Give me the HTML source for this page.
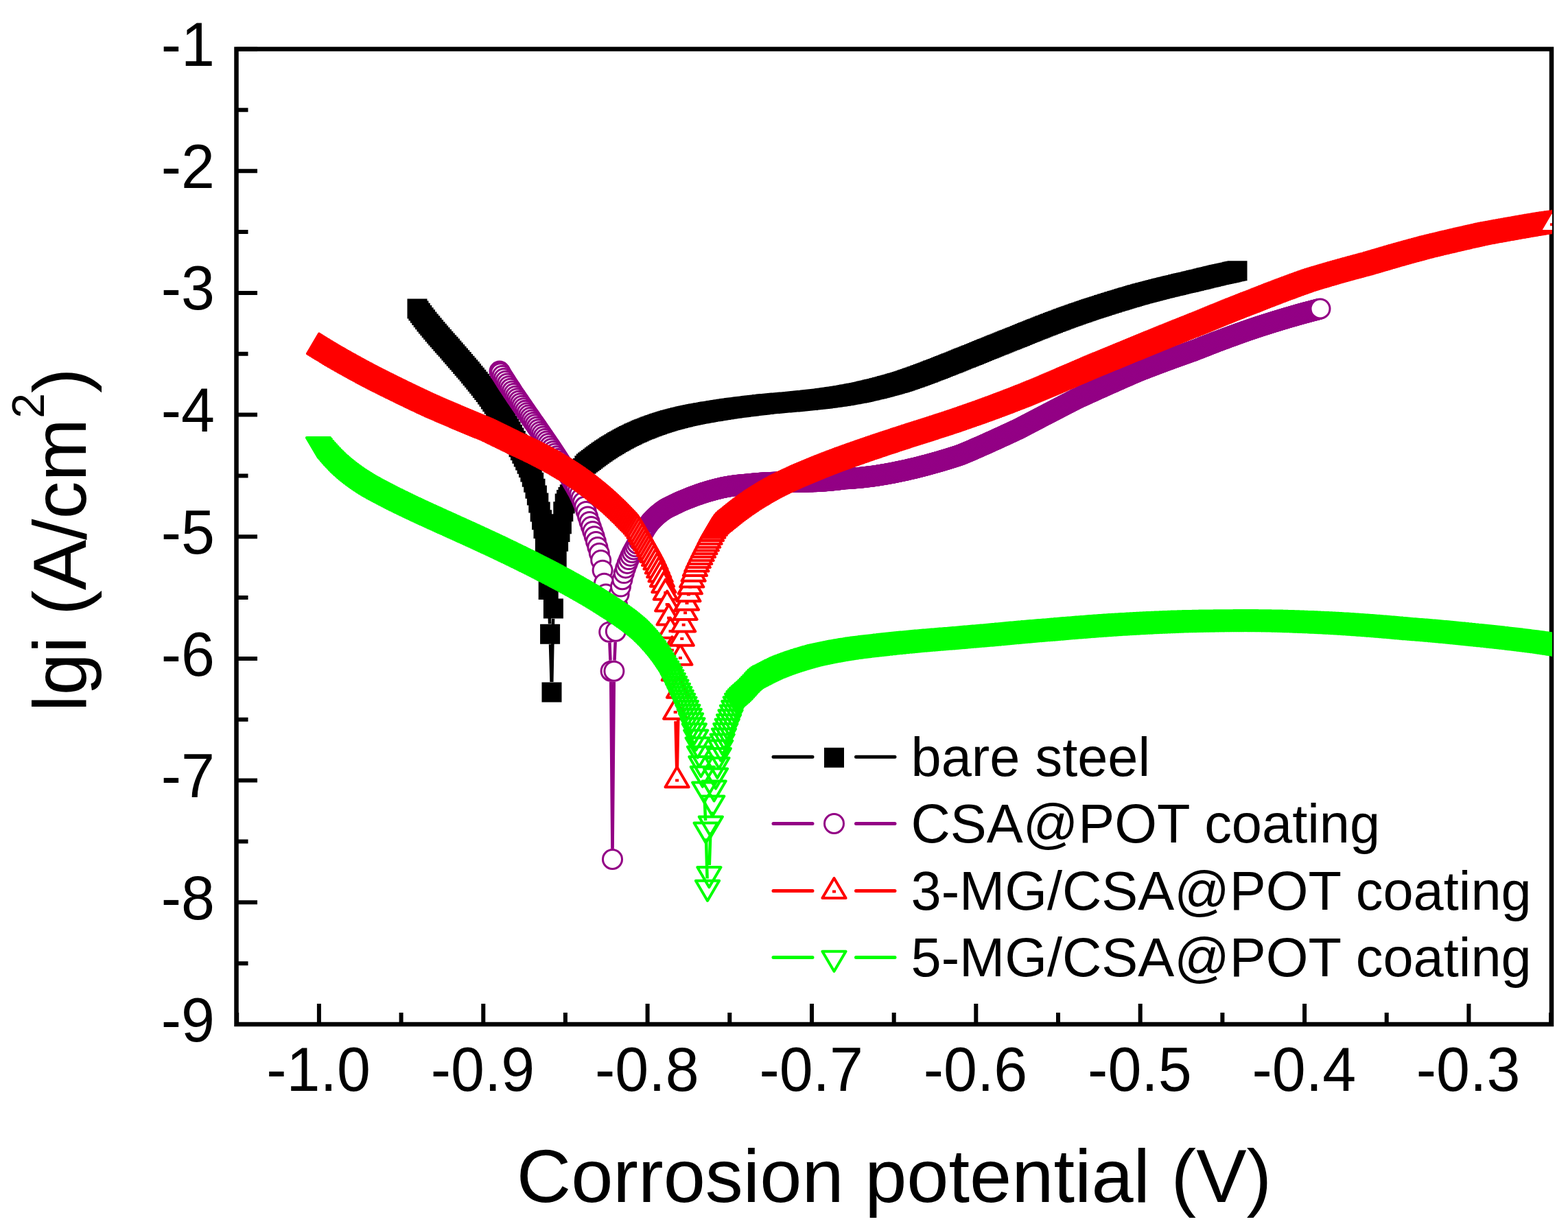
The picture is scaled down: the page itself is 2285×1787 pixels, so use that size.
<!DOCTYPE html>
<html><head><meta charset="utf-8"><title>Tafel plot</title>
<style>html,body{margin:0;padding:0;background:#fff;overflow:hidden}svg{display:block}</style>
</head><body>
<svg xmlns="http://www.w3.org/2000/svg" width="2285" height="1787" viewBox="0 0 2285 1787">
<rect width="2285" height="1787" fill="#fff"/>
<g stroke="#000" stroke-width="6.5" fill="none" stroke-linecap="square">
<path d="M344.5 71.5H2261V1493H344.5Z"/>
<path stroke-width="6" stroke-linecap="butt" d="M464.9 1493V1463M704.3 1493V1463M943.6 1493V1463M1183 1493V1463M1422.3 1493V1463M1661.7 1493V1463M1901.1 1493V1463M2140.4 1493V1463M345.2 1493V1476M584.6 1493V1476M823.9 1493V1476M1063.3 1493V1476M1302.7 1493V1476M1542 1493V1476M1781.4 1493V1476M2020.7 1493V1476M2260.1 1493V1476M344.5 1493H375M344.5 1315.3H375M344.5 1137.6H375M344.5 960H375M344.5 782.3H375M344.5 604.6H375M344.5 426.9H375M344.5 249.2H375M344.5 71.5H375M344.5 1404.2H361.5M344.5 1226.5H361.5M344.5 1048.8H361.5M344.5 871.1H361.5M344.5 693.4H361.5M344.5 515.7H361.5M344.5 338H361.5M344.5 160.3H361.5"/>
</g>
<g style="font-family:'Liberation Sans',Arial,Helvetica,sans-serif;font-size:88px" fill="#000">
<text transform="translate(313 1517.5) scale(1 1.035)" text-anchor="end">-9</text>
<text transform="translate(313 1339.8) scale(1 1.035)" text-anchor="end">-8</text>
<text transform="translate(313 1162.1) scale(1 1.035)" text-anchor="end">-7</text>
<text transform="translate(313 984.5) scale(1 1.035)" text-anchor="end">-6</text>
<text transform="translate(313 806.8) scale(1 1.035)" text-anchor="end">-5</text>
<text transform="translate(313 629.1) scale(1 1.035)" text-anchor="end">-4</text>
<text transform="translate(313 451.4) scale(1 1.035)" text-anchor="end">-3</text>
<text transform="translate(313 273.7) scale(1 1.035)" text-anchor="end">-2</text>
<text transform="translate(313 96) scale(1 1.035)" text-anchor="end">-1</text>
<text transform="translate(464.1 1590) scale(1 1.035)" text-anchor="middle">-1.0</text>
<text transform="translate(703.5 1590) scale(1 1.035)" text-anchor="middle">-0.9</text>
<text transform="translate(942.8 1590) scale(1 1.035)" text-anchor="middle">-0.8</text>
<text transform="translate(1182.2 1590) scale(1 1.035)" text-anchor="middle">-0.7</text>
<text transform="translate(1421.5 1590) scale(1 1.035)" text-anchor="middle">-0.6</text>
<text transform="translate(1660.9 1590) scale(1 1.035)" text-anchor="middle">-0.5</text>
<text transform="translate(1900.3 1590) scale(1 1.035)" text-anchor="middle">-0.4</text>
<text transform="translate(2139.6 1590) scale(1 1.035)" text-anchor="middle">-0.3</text>
</g>
<text x="1303" y="1752" text-anchor="middle" style="font-family:'Liberation Sans',Arial,Helvetica,sans-serif;font-size:110px">Corrosion potential (V)</text>
<text transform="translate(124.6 787) rotate(-90)" text-anchor="middle" style="font-family:'Liberation Sans',Arial,Helvetica,sans-serif;font-size:110px">lgi (A/cm<tspan dy="-61" style="font-size:66px">2</tspan><tspan dy="61">)</tspan></text>
<defs><clipPath id="c"><rect x="344.5" y="71.5" width="1917.5" height="1421.5"/></clipPath></defs>
<g clip-path="url(#c)">
<path d="M795.5 813.9L795.7 816.7M799.8 874.6L801.1 909.3M802 939.3L803.6 994M804.3 994L806.1 901.9M807.3 872L807.9 862.9M809.9 833L810.1 830.7" fill="none" stroke="#000" stroke-width="4.5"/>
<path d="M593.5 435.5h29v29h-29zM595.5 438.4h29v29h-29zM597.9 441.8h29v29h-29zM600.3 445.1h29v29h-29zM602.7 448.2h29v29h-29zM605.1 451.3h29v29h-29zM607.5 454.4h29v29h-29zM609.9 457.4h29v29h-29zM612.3 460.3h29v29h-29zM614.7 463.2h29v29h-29zM617.1 466.1h29v29h-29zM619.5 469h29v29h-29zM621.9 471.8h29v29h-29zM624.2 474.6h29v29h-29zM626.6 477.3h29v29h-29zM629 480.1h29v29h-29zM631.4 482.8h29v29h-29zM633.8 485.5h29v29h-29zM636.2 488.2h29v29h-29zM638.6 490.8h29v29h-29zM641 493.6h29v29h-29zM643.4 496.4h29v29h-29zM645.8 499.2h29v29h-29zM648.2 502h29v29h-29zM650.6 504.7h29v29h-29zM653 507.5h29v29h-29zM655.4 510.3h29v29h-29zM657.8 513.1h29v29h-29zM660.2 515.9h29v29h-29zM662.6 518.7h29v29h-29zM665 521.5h29v29h-29zM667.4 524.3h29v29h-29zM669.8 527.1h29v29h-29zM672.1 530h29v29h-29zM674.5 532.9h29v29h-29zM676.9 535.8h29v29h-29zM679.3 538.8h29v29h-29zM681.7 541.7h29v29h-29zM684.1 544.7h29v29h-29zM686.5 547.8h29v29h-29zM688.9 550.9h29v29h-29zM691.3 554h29v29h-29zM693.7 557.1h29v29h-29zM696.1 560.4h29v29h-29zM698.5 563.8h29v29h-29zM700.9 567.4h29v29h-29zM703.3 571h29v29h-29zM705.7 574.6h29v29h-29zM708.1 578.3h29v29h-29zM710.5 582.1h29v29h-29zM712.9 585.9h29v29h-29zM715.3 589.8h29v29h-29zM717.6 593.7h29v29h-29zM720 597.8h29v29h-29zM722.4 601.9h29v29h-29zM724.8 606h29v29h-29zM727.2 610.3h29v29h-29zM729.6 614.6h29v29h-29zM732 619.1h29v29h-29zM734.4 623.6h29v29h-29zM736.8 628.1h29v29h-29zM739.2 632.6h29v29h-29zM741.6 637.2h29v29h-29zM744 641.9h29v29h-29zM746.4 646.7h29v29h-29zM748.8 651.6h29v29h-29zM751.2 656.6h29v29h-29zM753.6 661.7h29v29h-29zM756 667h29v29h-29zM758.4 673.5h29v29h-29zM760.8 680.8h29v29h-29zM763.2 688.8h29v29h-29zM765.5 697.7h29v29h-29zM767.9 707.6h29v29h-29zM770.3 718.6h29v29h-29zM772.7 731.4h29v29h-29zM775.1 743.2h29v29h-29zM777.5 756h29v29h-29zM779.9 784.4h29v29h-29zM782.3 817.2h29v29h-29zM784.7 845.1h29v29h-29zM787.1 909.8h29v29h-29zM789.5 994.5h29v29h-29zM791.9 872.4h29v29h-29zM794.3 833.4h29v29h-29zM796.7 801.2h29v29h-29zM799.1 774.8h29v29h-29zM801.5 761h29v29h-29zM803.9 749.2h29v29h-29zM806.3 731.2h29v29h-29zM808.7 719.5h29v29h-29zM811.1 714h29v29h-29zM813.5 710.1h29v29h-29zM815.8 706.2h29v29h-29zM818.2 701.5h29v29h-29zM820.6 696.9h29v29h-29zM823 692.2h29v29h-29zM825.4 687.6h29v29h-29zM827.8 682.9h29v29h-29zM830.2 677.8h29v29h-29zM832.6 672.7h29v29h-29zM835 668.1h29v29h-29zM837.4 664.2h29v29h-29zM839.8 661.6h29v29h-29zM842.2 659.5h29v29h-29zM844.6 657.8h29v29h-29zM847 656h29v29h-29zM849.4 654.2h29v29h-29zM851.8 652.3h29v29h-29zM854.2 650.5h29v29h-29zM856.6 648.8h29v29h-29zM859 647h29v29h-29zM861.4 645.3h29v29h-29zM863.7 643.7h29v29h-29zM866.1 642h29v29h-29zM868.5 640.4h29v29h-29zM870.9 638.9h29v29h-29zM873.3 637.3h29v29h-29zM875.7 635.8h29v29h-29zM878.1 634.4h29v29h-29zM880.5 632.9h29v29h-29zM882.9 631.5h29v29h-29zM885.3 630.1h29v29h-29zM887.7 628.7h29v29h-29zM890.1 627.4h29v29h-29zM892.5 626.1h29v29h-29zM894.9 624.8h29v29h-29zM897.3 623.5h29v29h-29zM899.7 622.3h29v29h-29zM902.1 621.1h29v29h-29zM904.5 619.9h29v29h-29zM906.9 618.8h29v29h-29zM909.2 617.6h29v29h-29zM911.6 616.5h29v29h-29zM914 615.4h29v29h-29zM916.4 614.4h29v29h-29zM918.8 613.3h29v29h-29zM921.2 612.3h29v29h-29zM923.6 611.3h29v29h-29zM926 610.4h29v29h-29zM928.4 609.4h29v29h-29zM930.8 608.5h29v29h-29zM933.2 607.6h29v29h-29zM935.6 606.7h29v29h-29zM938 605.8h29v29h-29zM940.4 605h29v29h-29zM942.8 604.2h29v29h-29zM945.2 603.3h29v29h-29zM947.6 602.5h29v29h-29zM950 601.8h29v29h-29zM952.4 601h29v29h-29zM954.8 600.3h29v29h-29zM957.1 599.5h29v29h-29zM959.5 598.8h29v29h-29zM961.9 598.1h29v29h-29zM964.3 597.5h29v29h-29zM966.7 596.8h29v29h-29zM969.1 596.2h29v29h-29zM971.5 595.5h29v29h-29zM973.9 594.9h29v29h-29zM976.3 594.3h29v29h-29zM978.7 593.8h29v29h-29zM981.1 593.2h29v29h-29zM983.5 592.6h29v29h-29zM985.9 592.1h29v29h-29zM988.3 591.5h29v29h-29zM990.7 591h29v29h-29zM993.1 590.5h29v29h-29zM995.5 590h29v29h-29zM997.9 589.5h29v29h-29zM1000.3 589.1h29v29h-29zM1002.7 588.6h29v29h-29zM1005 588.2h29v29h-29zM1007.4 587.7h29v29h-29zM1009.8 587.3h29v29h-29zM1012.2 586.9h29v29h-29zM1014.6 586.4h29v29h-29zM1017 586h29v29h-29zM1019.4 585.6h29v29h-29zM1021.8 585.3h29v29h-29zM1024.2 584.9h29v29h-29zM1026.6 584.5h29v29h-29zM1029 584.1h29v29h-29zM1031.4 583.7h29v29h-29zM1033.8 583.3h29v29h-29zM1036.2 582.9h29v29h-29zM1038.6 582.6h29v29h-29zM1041 582.2h29v29h-29zM1043.4 581.8h29v29h-29zM1045.8 581.5h29v29h-29zM1048.2 581.1h29v29h-29zM1050.6 580.8h29v29h-29zM1053 580.5h29v29h-29zM1055.3 580.1h29v29h-29zM1057.7 579.8h29v29h-29zM1060.1 579.5h29v29h-29zM1062.5 579.2h29v29h-29zM1064.9 578.9h29v29h-29zM1067.3 578.6h29v29h-29zM1069.7 578.3h29v29h-29zM1072.1 578h29v29h-29zM1074.5 577.7h29v29h-29zM1076.9 577.4h29v29h-29zM1079.3 577.1h29v29h-29zM1081.7 576.8h29v29h-29zM1084.1 576.5h29v29h-29zM1086.5 576.2h29v29h-29zM1088.9 576h29v29h-29zM1091.3 575.7h29v29h-29zM1093.7 575.4h29v29h-29zM1096.1 575.1h29v29h-29zM1098.5 574.9h29v29h-29zM1100.8 574.6h29v29h-29zM1103.2 574.3h29v29h-29zM1105.6 574.1h29v29h-29zM1108 573.9h29v29h-29zM1110.4 573.7h29v29h-29zM1112.8 573.4h29v29h-29zM1115.2 573.2h29v29h-29zM1117.6 573h29v29h-29zM1120 572.8h29v29h-29zM1122.4 572.6h29v29h-29zM1124.8 572.4h29v29h-29zM1127.2 572.2h29v29h-29zM1129.6 572h29v29h-29zM1132 571.8h29v29h-29zM1134.4 571.6h29v29h-29zM1136.8 571.4h29v29h-29zM1139.2 571.2h29v29h-29zM1141.6 571h29v29h-29zM1144 570.7h29v29h-29zM1146.4 570.5h29v29h-29zM1148.8 570.3h29v29h-29zM1151.1 570.1h29v29h-29zM1153.5 569.8h29v29h-29zM1155.9 569.6h29v29h-29zM1158.3 569.3h29v29h-29zM1160.7 569.1h29v29h-29zM1163.1 568.9h29v29h-29zM1165.5 568.6h29v29h-29zM1167.9 568.3h29v29h-29zM1170.3 568.1h29v29h-29zM1172.7 567.8h29v29h-29zM1175.1 567.5h29v29h-29zM1177.5 567.3h29v29h-29zM1179.9 567h29v29h-29zM1182.3 566.7h29v29h-29zM1184.7 566.4h29v29h-29zM1187.1 566.1h29v29h-29zM1189.5 565.8h29v29h-29zM1191.9 565.5h29v29h-29zM1194.3 565.1h29v29h-29zM1196.7 564.8h29v29h-29zM1199 564.5h29v29h-29zM1201.4 564.1h29v29h-29zM1203.8 563.8h29v29h-29zM1206.2 563.4h29v29h-29zM1208.6 563h29v29h-29zM1211 562.7h29v29h-29zM1213.4 562.3h29v29h-29zM1215.8 561.9h29v29h-29zM1218.2 561.5h29v29h-29zM1220.6 561.1h29v29h-29zM1223 560.6h29v29h-29zM1225.4 560.2h29v29h-29zM1227.8 559.8h29v29h-29zM1230.2 559.3h29v29h-29zM1232.6 558.8h29v29h-29zM1235 558.4h29v29h-29zM1237.4 557.9h29v29h-29zM1239.8 557.4h29v29h-29zM1242.2 556.9h29v29h-29zM1244.5 556.4h29v29h-29zM1246.9 555.8h29v29h-29zM1249.3 555.3h29v29h-29zM1251.7 554.7h29v29h-29zM1254.1 554.2h29v29h-29zM1256.5 553.6h29v29h-29zM1258.9 553.1h29v29h-29zM1261.3 552.5h29v29h-29zM1263.7 551.9h29v29h-29zM1266.1 551.3h29v29h-29zM1268.5 550.7h29v29h-29zM1270.9 550h29v29h-29zM1273.3 549.4h29v29h-29zM1275.7 548.8h29v29h-29zM1278.1 548.1h29v29h-29zM1280.5 547.5h29v29h-29zM1282.9 546.8h29v29h-29zM1285.3 546.2h29v29h-29zM1287.7 545.5h29v29h-29zM1290.1 544.8h29v29h-29zM1292.5 544.1h29v29h-29zM1294.8 543.4h29v29h-29zM1297.2 542.7h29v29h-29zM1299.6 542h29v29h-29zM1302 541.2h29v29h-29zM1304.4 540.4h29v29h-29zM1306.8 539.6h29v29h-29zM1309.2 538.8h29v29h-29zM1311.6 537.9h29v29h-29zM1314 537.1h29v29h-29zM1316.4 536.2h29v29h-29zM1318.8 535.4h29v29h-29zM1321.2 534.5h29v29h-29zM1323.6 533.7h29v29h-29zM1326 532.8h29v29h-29zM1328.4 531.9h29v29h-29zM1330.8 531h29v29h-29zM1333.2 530.2h29v29h-29zM1335.6 529.3h29v29h-29zM1338 528.4h29v29h-29zM1340.3 527.5h29v29h-29zM1342.7 526.6h29v29h-29zM1345.1 525.6h29v29h-29zM1347.5 524.7h29v29h-29zM1349.9 523.8h29v29h-29zM1352.3 522.9h29v29h-29zM1354.7 522h29v29h-29zM1357.1 521h29v29h-29zM1359.5 520.1h29v29h-29zM1361.9 519.1h29v29h-29zM1364.3 518.2h29v29h-29zM1366.7 517.2h29v29h-29zM1369.1 516.3h29v29h-29zM1371.5 515.3h29v29h-29zM1373.9 514.4h29v29h-29zM1376.3 513.4h29v29h-29zM1378.7 512.5h29v29h-29zM1381.1 511.5h29v29h-29zM1383.5 510.5h29v29h-29zM1385.9 509.5h29v29h-29zM1388.2 508.6h29v29h-29zM1390.6 507.6h29v29h-29zM1393 506.7h29v29h-29zM1395.4 505.7h29v29h-29zM1397.8 504.8h29v29h-29zM1400.2 503.8h29v29h-29zM1402.6 502.9h29v29h-29zM1405 501.9h29v29h-29zM1407.4 500.9h29v29h-29zM1409.8 500h29v29h-29zM1412.2 499h29v29h-29zM1414.6 498h29v29h-29zM1417 497.1h29v29h-29zM1419.4 496.1h29v29h-29zM1421.8 495.1h29v29h-29zM1424.2 494.1h29v29h-29zM1426.6 493.2h29v29h-29zM1429 492.2h29v29h-29zM1431.4 491.2h29v29h-29zM1433.8 490.3h29v29h-29zM1436.2 489.3h29v29h-29zM1438.5 488.3h29v29h-29zM1440.9 487.4h29v29h-29zM1443.3 486.4h29v29h-29zM1445.7 485.5h29v29h-29zM1448.1 484.5h29v29h-29zM1450.5 483.5h29v29h-29zM1452.9 482.6h29v29h-29zM1455.3 481.6h29v29h-29zM1457.7 480.7h29v29h-29zM1460.1 479.7h29v29h-29zM1462.5 478.8h29v29h-29zM1464.9 477.8h29v29h-29zM1467.3 476.9h29v29h-29zM1469.7 476h29v29h-29zM1472.1 475h29v29h-29zM1474.5 474h29v29h-29zM1476.9 473h29v29h-29zM1479.3 472.1h29v29h-29zM1481.7 471.1h29v29h-29zM1484 470.1h29v29h-29zM1486.4 469.2h29v29h-29zM1488.8 468.2h29v29h-29zM1491.2 467.2h29v29h-29zM1493.6 466.3h29v29h-29zM1496 465.3h29v29h-29zM1498.4 464.4h29v29h-29zM1500.8 463.4h29v29h-29zM1503.2 462.5h29v29h-29zM1505.6 461.6h29v29h-29zM1508 460.6h29v29h-29zM1510.4 459.7h29v29h-29zM1512.8 458.8h29v29h-29zM1515.2 457.8h29v29h-29zM1517.6 456.9h29v29h-29zM1520 456h29v29h-29zM1522.4 455.1h29v29h-29zM1524.8 454.2h29v29h-29zM1527.2 453.3h29v29h-29zM1529.6 452.4h29v29h-29zM1532 451.5h29v29h-29zM1534.3 450.6h29v29h-29zM1536.7 449.7h29v29h-29zM1539.1 448.8h29v29h-29zM1541.5 448h29v29h-29zM1543.9 447.1h29v29h-29zM1546.3 446.2h29v29h-29zM1548.7 445.4h29v29h-29zM1551.1 444.5h29v29h-29zM1553.5 443.7h29v29h-29zM1555.9 442.8h29v29h-29zM1558.3 442h29v29h-29zM1560.7 441.2h29v29h-29zM1563.1 440.4h29v29h-29zM1565.5 439.5h29v29h-29zM1567.9 438.7h29v29h-29zM1570.3 437.9h29v29h-29zM1572.7 437.1h29v29h-29zM1575.1 436.3h29v29h-29zM1577.5 435.6h29v29h-29zM1579.8 434.8h29v29h-29zM1582.2 434h29v29h-29zM1584.6 433.2h29v29h-29zM1587 432.4h29v29h-29zM1589.4 431.7h29v29h-29zM1591.8 430.9h29v29h-29zM1594.2 430.1h29v29h-29zM1596.6 429.4h29v29h-29zM1599 428.6h29v29h-29zM1601.4 427.9h29v29h-29zM1603.8 427.1h29v29h-29zM1606.2 426.4h29v29h-29zM1608.6 425.6h29v29h-29zM1611 424.9h29v29h-29zM1613.4 424.1h29v29h-29zM1615.8 423.4h29v29h-29zM1618.2 422.7h29v29h-29zM1620.6 421.9h29v29h-29zM1623 421.2h29v29h-29zM1625.4 420.5h29v29h-29zM1627.8 419.8h29v29h-29zM1630.1 419.1h29v29h-29zM1632.5 418.4h29v29h-29zM1634.9 417.7h29v29h-29zM1637.3 417h29v29h-29zM1639.7 416.3h29v29h-29zM1642.1 415.6h29v29h-29zM1644.5 414.9h29v29h-29zM1646.9 414.2h29v29h-29zM1649.3 413.6h29v29h-29zM1651.7 412.9h29v29h-29zM1654.1 412.3h29v29h-29zM1656.5 411.7h29v29h-29zM1658.9 411h29v29h-29zM1661.3 410.4h29v29h-29zM1663.7 409.8h29v29h-29zM1666.1 409.2h29v29h-29zM1668.5 408.6h29v29h-29zM1670.9 407.9h29v29h-29zM1673.3 407.3h29v29h-29zM1675.7 406.7h29v29h-29zM1678 406.1h29v29h-29zM1680.4 405.5h29v29h-29zM1682.8 404.9h29v29h-29zM1685.2 404.3h29v29h-29zM1687.6 403.8h29v29h-29zM1690 403.2h29v29h-29zM1692.4 402.6h29v29h-29zM1694.8 402h29v29h-29zM1697.2 401.4h29v29h-29zM1699.6 400.9h29v29h-29zM1702 400.3h29v29h-29zM1704.4 399.7h29v29h-29zM1706.8 399.1h29v29h-29zM1709.2 398.6h29v29h-29zM1711.6 398h29v29h-29zM1714 397.5h29v29h-29zM1716.4 396.9h29v29h-29zM1718.8 396.4h29v29h-29zM1721.2 395.8h29v29h-29zM1723.5 395.3h29v29h-29zM1725.9 394.7h29v29h-29zM1728.3 394.1h29v29h-29zM1730.7 393.5h29v29h-29zM1733.1 392.9h29v29h-29zM1735.5 392.4h29v29h-29zM1737.9 391.8h29v29h-29zM1740.3 391.2h29v29h-29zM1742.7 390.6h29v29h-29zM1745.1 390h29v29h-29zM1747.5 389.5h29v29h-29zM1749.9 388.9h29v29h-29zM1752.3 388.3h29v29h-29zM1754.7 387.8h29v29h-29zM1757.1 387.2h29v29h-29zM1759.5 386.6h29v29h-29zM1761.9 386.1h29v29h-29zM1764.3 385.5h29v29h-29zM1766.7 385h29v29h-29zM1769.1 384.5h29v29h-29zM1771.5 383.9h29v29h-29zM1773.8 383.4h29v29h-29zM1776.2 382.9h29v29h-29zM1778.6 382.4h29v29h-29zM1781 381.8h29v29h-29zM1783.4 381.3h29v29h-29zM1785.8 380.8h29v29h-29zM1788.5 380.3h29v29h-29z" fill="#000"/>
<path d="M886.3 900.6L886.7 905.7M888.4 936.7L889.5 962.7M890.2 993.7L892.4 1237M892.6 1237L894.8 993.7M895.5 962.7L896.7 935.7M898.3 904.7L898.7 897.6" fill="none" stroke="#930085" stroke-width="4.5"/>
<g fill="#fff" stroke="#930085" stroke-width="3">
<path d="M714 541.1a14.0 14.0 0 1 0 28 0a14.0 14.0 0 1 0 -28 0z"/>
<path d="M714.8 542.4a14.0 14.0 0 1 0 28 0a14.0 14.0 0 1 0 -28 0z"/>
<path d="M715.6 543.7a14.0 14.0 0 1 0 28 0a14.0 14.0 0 1 0 -28 0z"/>
<path d="M718 547.6a14.0 14.0 0 1 0 28 0a14.0 14.0 0 1 0 -28 0z"/>
<path d="M720.4 551.4a14.0 14.0 0 1 0 28 0a14.0 14.0 0 1 0 -28 0z"/>
<path d="M722.8 555.2a14.0 14.0 0 1 0 28 0a14.0 14.0 0 1 0 -28 0z"/>
<path d="M725.2 559a14.0 14.0 0 1 0 28 0a14.0 14.0 0 1 0 -28 0z"/>
<path d="M727.6 562.7a14.0 14.0 0 1 0 28 0a14.0 14.0 0 1 0 -28 0z"/>
<path d="M730 566.3a14.0 14.0 0 1 0 28 0a14.0 14.0 0 1 0 -28 0z"/>
<path d="M732.4 570a14.0 14.0 0 1 0 28 0a14.0 14.0 0 1 0 -28 0z"/>
<path d="M734.8 573.6a14.0 14.0 0 1 0 28 0a14.0 14.0 0 1 0 -28 0z"/>
<path d="M737.2 577.2a14.0 14.0 0 1 0 28 0a14.0 14.0 0 1 0 -28 0z"/>
<path d="M739.6 580.7a14.0 14.0 0 1 0 28 0a14.0 14.0 0 1 0 -28 0z"/>
<path d="M742 584.3a14.0 14.0 0 1 0 28 0a14.0 14.0 0 1 0 -28 0z"/>
<path d="M744.4 587.8a14.0 14.0 0 1 0 28 0a14.0 14.0 0 1 0 -28 0z"/>
<path d="M746.8 591.3a14.0 14.0 0 1 0 28 0a14.0 14.0 0 1 0 -28 0z"/>
<path d="M749.2 594.7a14.0 14.0 0 1 0 28 0a14.0 14.0 0 1 0 -28 0z"/>
<path d="M751.6 598.2a14.0 14.0 0 1 0 28 0a14.0 14.0 0 1 0 -28 0z"/>
<path d="M754 601.7a14.0 14.0 0 1 0 28 0a14.0 14.0 0 1 0 -28 0z"/>
<path d="M756.4 605.1a14.0 14.0 0 1 0 28 0a14.0 14.0 0 1 0 -28 0z"/>
<path d="M758.8 608.5a14.0 14.0 0 1 0 28 0a14.0 14.0 0 1 0 -28 0z"/>
<path d="M761.1 612a14.0 14.0 0 1 0 28 0a14.0 14.0 0 1 0 -28 0z"/>
<path d="M763.5 615.4a14.0 14.0 0 1 0 28 0a14.0 14.0 0 1 0 -28 0z"/>
<path d="M765.9 618.8a14.0 14.0 0 1 0 28 0a14.0 14.0 0 1 0 -28 0z"/>
<path d="M768.3 622.3a14.0 14.0 0 1 0 28 0a14.0 14.0 0 1 0 -28 0z"/>
<path d="M770.7 625.7a14.0 14.0 0 1 0 28 0a14.0 14.0 0 1 0 -28 0z"/>
<path d="M773.1 629.2a14.0 14.0 0 1 0 28 0a14.0 14.0 0 1 0 -28 0z"/>
<path d="M775.5 632.6a14.0 14.0 0 1 0 28 0a14.0 14.0 0 1 0 -28 0z"/>
<path d="M777.9 636.1a14.0 14.0 0 1 0 28 0a14.0 14.0 0 1 0 -28 0z"/>
<path d="M780.3 639.6a14.0 14.0 0 1 0 28 0a14.0 14.0 0 1 0 -28 0z"/>
<path d="M782.7 643.1a14.0 14.0 0 1 0 28 0a14.0 14.0 0 1 0 -28 0z"/>
<path d="M785.1 646.6a14.0 14.0 0 1 0 28 0a14.0 14.0 0 1 0 -28 0z"/>
<path d="M787.5 650.2a14.0 14.0 0 1 0 28 0a14.0 14.0 0 1 0 -28 0z"/>
<path d="M789.9 653.8a14.0 14.0 0 1 0 28 0a14.0 14.0 0 1 0 -28 0z"/>
<path d="M792.3 657.4a14.0 14.0 0 1 0 28 0a14.0 14.0 0 1 0 -28 0z"/>
<path d="M794.7 661a14.0 14.0 0 1 0 28 0a14.0 14.0 0 1 0 -28 0z"/>
<path d="M797.1 664.7a14.0 14.0 0 1 0 28 0a14.0 14.0 0 1 0 -28 0z"/>
<path d="M799.5 668.4a14.0 14.0 0 1 0 28 0a14.0 14.0 0 1 0 -28 0z"/>
<path d="M801.9 672.1a14.0 14.0 0 1 0 28 0a14.0 14.0 0 1 0 -28 0z"/>
<path d="M804.3 675.9a14.0 14.0 0 1 0 28 0a14.0 14.0 0 1 0 -28 0z"/>
<path d="M806.6 679.7a14.0 14.0 0 1 0 28 0a14.0 14.0 0 1 0 -28 0z"/>
<path d="M809 683.6a14.0 14.0 0 1 0 28 0a14.0 14.0 0 1 0 -28 0z"/>
<path d="M811.4 687.5a14.0 14.0 0 1 0 28 0a14.0 14.0 0 1 0 -28 0z"/>
<path d="M813.8 691.5a14.0 14.0 0 1 0 28 0a14.0 14.0 0 1 0 -28 0z"/>
<path d="M816.2 695.5a14.0 14.0 0 1 0 28 0a14.0 14.0 0 1 0 -28 0z"/>
<path d="M818.6 699.5a14.0 14.0 0 1 0 28 0a14.0 14.0 0 1 0 -28 0z"/>
<path d="M821 703.7a14.0 14.0 0 1 0 28 0a14.0 14.0 0 1 0 -28 0z"/>
<path d="M823.4 707.8a14.0 14.0 0 1 0 28 0a14.0 14.0 0 1 0 -28 0z"/>
<path d="M825.8 712.1a14.0 14.0 0 1 0 28 0a14.0 14.0 0 1 0 -28 0z"/>
<path d="M828.2 716.3a14.0 14.0 0 1 0 28 0a14.0 14.0 0 1 0 -28 0z"/>
<path d="M830.6 720.9a14.0 14.0 0 1 0 28 0a14.0 14.0 0 1 0 -28 0z"/>
<path d="M833 726.2a14.0 14.0 0 1 0 28 0a14.0 14.0 0 1 0 -28 0z"/>
<path d="M835.4 732a14.0 14.0 0 1 0 28 0a14.0 14.0 0 1 0 -28 0z"/>
<path d="M837.8 738.3a14.0 14.0 0 1 0 28 0a14.0 14.0 0 1 0 -28 0z"/>
<path d="M840.2 745.4a14.0 14.0 0 1 0 28 0a14.0 14.0 0 1 0 -28 0z"/>
<path d="M842.6 753a14.0 14.0 0 1 0 28 0a14.0 14.0 0 1 0 -28 0z"/>
<path d="M845 760.5a14.0 14.0 0 1 0 28 0a14.0 14.0 0 1 0 -28 0z"/>
<path d="M847.4 767.6a14.0 14.0 0 1 0 28 0a14.0 14.0 0 1 0 -28 0z"/>
<path d="M849.8 774.6a14.0 14.0 0 1 0 28 0a14.0 14.0 0 1 0 -28 0z"/>
<path d="M852.2 781.7a14.0 14.0 0 1 0 28 0a14.0 14.0 0 1 0 -28 0z"/>
<path d="M854.5 789.5a14.0 14.0 0 1 0 28 0a14.0 14.0 0 1 0 -28 0z"/>
<path d="M856.9 797.6a14.0 14.0 0 1 0 28 0a14.0 14.0 0 1 0 -28 0z"/>
<path d="M859.3 806.3a14.0 14.0 0 1 0 28 0a14.0 14.0 0 1 0 -28 0z"/>
<path d="M861.7 816.6a14.0 14.0 0 1 0 28 0a14.0 14.0 0 1 0 -28 0z"/>
<path d="M864.1 831.2a14.0 14.0 0 1 0 28 0a14.0 14.0 0 1 0 -28 0z"/>
<path d="M866.5 850.2a14.0 14.0 0 1 0 28 0a14.0 14.0 0 1 0 -28 0z"/>
<path d="M868.9 865.9a14.0 14.0 0 1 0 28 0a14.0 14.0 0 1 0 -28 0z"/>
<path d="M871.3 885.2a14.0 14.0 0 1 0 28 0a14.0 14.0 0 1 0 -28 0z"/>
<path d="M873.7 921.2a14.0 14.0 0 1 0 28 0a14.0 14.0 0 1 0 -28 0z"/>
<path d="M876.1 978.2a14.0 14.0 0 1 0 28 0a14.0 14.0 0 1 0 -28 0z"/>
<path d="M878.5 1252.5a14.0 14.0 0 1 0 28 0a14.0 14.0 0 1 0 -28 0z"/>
<path d="M880.9 978.2a14.0 14.0 0 1 0 28 0a14.0 14.0 0 1 0 -28 0z"/>
<path d="M883.3 920.2a14.0 14.0 0 1 0 28 0a14.0 14.0 0 1 0 -28 0z"/>
<path d="M885.7 882.1a14.0 14.0 0 1 0 28 0a14.0 14.0 0 1 0 -28 0z"/>
<path d="M888.1 866.1a14.0 14.0 0 1 0 28 0a14.0 14.0 0 1 0 -28 0z"/>
<path d="M890.5 855.1a14.0 14.0 0 1 0 28 0a14.0 14.0 0 1 0 -28 0z"/>
<path d="M892.9 844.7a14.0 14.0 0 1 0 28 0a14.0 14.0 0 1 0 -28 0z"/>
<path d="M895.3 835.6a14.0 14.0 0 1 0 28 0a14.0 14.0 0 1 0 -28 0z"/>
<path d="M897.7 827.9a14.0 14.0 0 1 0 28 0a14.0 14.0 0 1 0 -28 0z"/>
<path d="M900.1 821.4a14.0 14.0 0 1 0 28 0a14.0 14.0 0 1 0 -28 0z"/>
<path d="M902.5 815.6a14.0 14.0 0 1 0 28 0a14.0 14.0 0 1 0 -28 0z"/>
<path d="M904.8 810.4a14.0 14.0 0 1 0 28 0a14.0 14.0 0 1 0 -28 0z"/>
<path d="M907.2 805.5a14.0 14.0 0 1 0 28 0a14.0 14.0 0 1 0 -28 0z"/>
<path d="M909.6 801a14.0 14.0 0 1 0 28 0a14.0 14.0 0 1 0 -28 0z"/>
<path d="M912 796.8a14.0 14.0 0 1 0 28 0a14.0 14.0 0 1 0 -28 0z"/>
<path d="M914.4 792.7a14.0 14.0 0 1 0 28 0a14.0 14.0 0 1 0 -28 0z"/>
<path d="M916.8 788.6a14.0 14.0 0 1 0 28 0a14.0 14.0 0 1 0 -28 0z"/>
<path d="M919.2 784.3a14.0 14.0 0 1 0 28 0a14.0 14.0 0 1 0 -28 0z"/>
<path d="M921.6 780a14.0 14.0 0 1 0 28 0a14.0 14.0 0 1 0 -28 0z"/>
<path d="M924 775.8a14.0 14.0 0 1 0 28 0a14.0 14.0 0 1 0 -28 0z"/>
<path d="M926.4 771.6a14.0 14.0 0 1 0 28 0a14.0 14.0 0 1 0 -28 0z"/>
<path d="M928.8 767.7a14.0 14.0 0 1 0 28 0a14.0 14.0 0 1 0 -28 0z"/>
<path d="M931.2 764.2a14.0 14.0 0 1 0 28 0a14.0 14.0 0 1 0 -28 0z"/>
<path d="M933.6 761.1a14.0 14.0 0 1 0 28 0a14.0 14.0 0 1 0 -28 0z"/>
<path d="M934.8 759.7a14.0 14.0 0 1 0 28 0a14.0 14.0 0 1 0 -28 0z"/>
<path d="M936 758.4a14.0 14.0 0 1 0 28 0a14.0 14.0 0 1 0 -28 0z"/>
<path d="M937.2 757.2a14.0 14.0 0 1 0 28 0a14.0 14.0 0 1 0 -28 0z"/>
<path d="M938.4 755.9a14.0 14.0 0 1 0 28 0a14.0 14.0 0 1 0 -28 0z"/>
<path d="M939.6 754.8a14.0 14.0 0 1 0 28 0a14.0 14.0 0 1 0 -28 0z"/>
<path d="M940.8 753.6a14.0 14.0 0 1 0 28 0a14.0 14.0 0 1 0 -28 0z"/>
<path d="M942 752.5a14.0 14.0 0 1 0 28 0a14.0 14.0 0 1 0 -28 0z"/>
<path d="M943.2 751.4a14.0 14.0 0 1 0 28 0a14.0 14.0 0 1 0 -28 0z"/>
<path d="M944.4 750.4a14.0 14.0 0 1 0 28 0a14.0 14.0 0 1 0 -28 0z"/>
<path d="M945.6 749.3a14.0 14.0 0 1 0 28 0a14.0 14.0 0 1 0 -28 0z"/>
<path d="M946.8 748.4a14.0 14.0 0 1 0 28 0a14.0 14.0 0 1 0 -28 0z"/>
<path d="M948 747.4a14.0 14.0 0 1 0 28 0a14.0 14.0 0 1 0 -28 0z"/>
<path d="M949.2 746.5a14.0 14.0 0 1 0 28 0a14.0 14.0 0 1 0 -28 0z"/>
<path d="M950.4 745.6a14.0 14.0 0 1 0 28 0a14.0 14.0 0 1 0 -28 0z"/>
<path d="M951.5 744.8a14.0 14.0 0 1 0 28 0a14.0 14.0 0 1 0 -28 0z"/>
<path d="M952.7 743.9a14.0 14.0 0 1 0 28 0a14.0 14.0 0 1 0 -28 0z"/>
<path d="M953.9 743.1a14.0 14.0 0 1 0 28 0a14.0 14.0 0 1 0 -28 0z"/>
<path d="M955.1 742.3a14.0 14.0 0 1 0 28 0a14.0 14.0 0 1 0 -28 0z"/>
<path d="M956.3 741.6a14.0 14.0 0 1 0 28 0a14.0 14.0 0 1 0 -28 0z"/>
<path d="M957.5 740.8a14.0 14.0 0 1 0 28 0a14.0 14.0 0 1 0 -28 0z"/>
<path d="M958.7 740.2a14.0 14.0 0 1 0 28 0a14.0 14.0 0 1 0 -28 0z"/>
<path d="M959.9 739.5a14.0 14.0 0 1 0 28 0a14.0 14.0 0 1 0 -28 0z"/>
<path d="M961.1 739a14.0 14.0 0 1 0 28 0a14.0 14.0 0 1 0 -28 0z"/>
<path d="M962.3 738.4a14.0 14.0 0 1 0 28 0a14.0 14.0 0 1 0 -28 0z"/>
<path d="M963.5 737.8a14.0 14.0 0 1 0 28 0a14.0 14.0 0 1 0 -28 0z"/>
<path d="M964.7 737.3a14.0 14.0 0 1 0 28 0a14.0 14.0 0 1 0 -28 0z"/>
<path d="M965.9 736.7a14.0 14.0 0 1 0 28 0a14.0 14.0 0 1 0 -28 0z"/>
<path d="M967.1 736.1a14.0 14.0 0 1 0 28 0a14.0 14.0 0 1 0 -28 0z"/>
<path d="M968.3 735.5a14.0 14.0 0 1 0 28 0a14.0 14.0 0 1 0 -28 0z"/>
<path d="M969.5 734.9a14.0 14.0 0 1 0 28 0a14.0 14.0 0 1 0 -28 0z"/>
<path d="M970.7 734.3a14.0 14.0 0 1 0 28 0a14.0 14.0 0 1 0 -28 0z"/>
<path d="M971.9 733.7a14.0 14.0 0 1 0 28 0a14.0 14.0 0 1 0 -28 0z"/>
<path d="M973.1 733.2a14.0 14.0 0 1 0 28 0a14.0 14.0 0 1 0 -28 0z"/>
<path d="M974.3 732.6a14.0 14.0 0 1 0 28 0a14.0 14.0 0 1 0 -28 0z"/>
<path d="M975.5 732a14.0 14.0 0 1 0 28 0a14.0 14.0 0 1 0 -28 0z"/>
<path d="M976.7 731.4a14.0 14.0 0 1 0 28 0a14.0 14.0 0 1 0 -28 0z"/>
<path d="M977.9 730.9a14.0 14.0 0 1 0 28 0a14.0 14.0 0 1 0 -28 0z"/>
<path d="M979.1 730.3a14.0 14.0 0 1 0 28 0a14.0 14.0 0 1 0 -28 0z"/>
<path d="M980.3 729.9a14.0 14.0 0 1 0 28 0a14.0 14.0 0 1 0 -28 0z"/>
<path d="M981.5 729.4a14.0 14.0 0 1 0 28 0a14.0 14.0 0 1 0 -28 0z"/>
<path d="M982.7 728.9a14.0 14.0 0 1 0 28 0a14.0 14.0 0 1 0 -28 0z"/>
<path d="M983.9 728.4a14.0 14.0 0 1 0 28 0a14.0 14.0 0 1 0 -28 0z"/>
<path d="M985.1 727.9a14.0 14.0 0 1 0 28 0a14.0 14.0 0 1 0 -28 0z"/>
<path d="M986.3 727.4a14.0 14.0 0 1 0 28 0a14.0 14.0 0 1 0 -28 0z"/>
<path d="M987.5 726.9a14.0 14.0 0 1 0 28 0a14.0 14.0 0 1 0 -28 0z"/>
<path d="M988.7 726.4a14.0 14.0 0 1 0 28 0a14.0 14.0 0 1 0 -28 0z"/>
<path d="M989.9 726a14.0 14.0 0 1 0 28 0a14.0 14.0 0 1 0 -28 0z"/>
<path d="M991.1 725.5a14.0 14.0 0 1 0 28 0a14.0 14.0 0 1 0 -28 0z"/>
<path d="M992.3 725a14.0 14.0 0 1 0 28 0a14.0 14.0 0 1 0 -28 0z"/>
<path d="M993.5 724.6a14.0 14.0 0 1 0 28 0a14.0 14.0 0 1 0 -28 0z"/>
<path d="M994.7 724.1a14.0 14.0 0 1 0 28 0a14.0 14.0 0 1 0 -28 0z"/>
<path d="M995.9 723.7a14.0 14.0 0 1 0 28 0a14.0 14.0 0 1 0 -28 0z"/>
<path d="M997.1 723.2a14.0 14.0 0 1 0 28 0a14.0 14.0 0 1 0 -28 0z"/>
<path d="M998.2 722.8a14.0 14.0 0 1 0 28 0a14.0 14.0 0 1 0 -28 0z"/>
<path d="M999.4 722.4a14.0 14.0 0 1 0 28 0a14.0 14.0 0 1 0 -28 0z"/>
<path d="M1000.6 721.9a14.0 14.0 0 1 0 28 0a14.0 14.0 0 1 0 -28 0z"/>
<path d="M1001.8 721.5a14.0 14.0 0 1 0 28 0a14.0 14.0 0 1 0 -28 0z"/>
<path d="M1003 721.1a14.0 14.0 0 1 0 28 0a14.0 14.0 0 1 0 -28 0z"/>
<path d="M1004.2 720.7a14.0 14.0 0 1 0 28 0a14.0 14.0 0 1 0 -28 0z"/>
<path d="M1005.4 720.2a14.0 14.0 0 1 0 28 0a14.0 14.0 0 1 0 -28 0z"/>
<path d="M1006.6 719.8a14.0 14.0 0 1 0 28 0a14.0 14.0 0 1 0 -28 0z"/>
<path d="M1007.8 719.4a14.0 14.0 0 1 0 28 0a14.0 14.0 0 1 0 -28 0z"/>
<path d="M1009 719a14.0 14.0 0 1 0 28 0a14.0 14.0 0 1 0 -28 0z"/>
<path d="M1010.2 718.6a14.0 14.0 0 1 0 28 0a14.0 14.0 0 1 0 -28 0z"/>
<path d="M1011.4 718.2a14.0 14.0 0 1 0 28 0a14.0 14.0 0 1 0 -28 0z"/>
<path d="M1012.6 717.9a14.0 14.0 0 1 0 28 0a14.0 14.0 0 1 0 -28 0z"/>
<path d="M1013.8 717.5a14.0 14.0 0 1 0 28 0a14.0 14.0 0 1 0 -28 0z"/>
<path d="M1015 717.1a14.0 14.0 0 1 0 28 0a14.0 14.0 0 1 0 -28 0z"/>
<path d="M1016.2 716.7a14.0 14.0 0 1 0 28 0a14.0 14.0 0 1 0 -28 0z"/>
<path d="M1017.4 716.4a14.0 14.0 0 1 0 28 0a14.0 14.0 0 1 0 -28 0z"/>
<path d="M1018.6 716a14.0 14.0 0 1 0 28 0a14.0 14.0 0 1 0 -28 0z"/>
<path d="M1019.8 715.7a14.0 14.0 0 1 0 28 0a14.0 14.0 0 1 0 -28 0z"/>
<path d="M1021 715.3a14.0 14.0 0 1 0 28 0a14.0 14.0 0 1 0 -28 0z"/>
<path d="M1022.2 715a14.0 14.0 0 1 0 28 0a14.0 14.0 0 1 0 -28 0z"/>
<path d="M1023.4 714.7a14.0 14.0 0 1 0 28 0a14.0 14.0 0 1 0 -28 0z"/>
<path d="M1024.6 714.3a14.0 14.0 0 1 0 28 0a14.0 14.0 0 1 0 -28 0z"/>
<path d="M1025.8 714a14.0 14.0 0 1 0 28 0a14.0 14.0 0 1 0 -28 0z"/>
<path d="M1027 713.7a14.0 14.0 0 1 0 28 0a14.0 14.0 0 1 0 -28 0z"/>
<path d="M1028.2 713.4a14.0 14.0 0 1 0 28 0a14.0 14.0 0 1 0 -28 0z"/>
<path d="M1029.4 713.1a14.0 14.0 0 1 0 28 0a14.0 14.0 0 1 0 -28 0z"/>
<path d="M1030.6 712.8a14.0 14.0 0 1 0 28 0a14.0 14.0 0 1 0 -28 0z"/>
<path d="M1031.8 712.5a14.0 14.0 0 1 0 28 0a14.0 14.0 0 1 0 -28 0z"/>
<path d="M1033 712.2a14.0 14.0 0 1 0 28 0a14.0 14.0 0 1 0 -28 0z"/>
<path d="M1034.2 711.9a14.0 14.0 0 1 0 28 0a14.0 14.0 0 1 0 -28 0z"/>
<path d="M1035.4 711.6a14.0 14.0 0 1 0 28 0a14.0 14.0 0 1 0 -28 0z"/>
<path d="M1036.6 711.3a14.0 14.0 0 1 0 28 0a14.0 14.0 0 1 0 -28 0z"/>
<path d="M1037.8 711.1a14.0 14.0 0 1 0 28 0a14.0 14.0 0 1 0 -28 0z"/>
<path d="M1039 710.8a14.0 14.0 0 1 0 28 0a14.0 14.0 0 1 0 -28 0z"/>
<path d="M1040.2 710.6a14.0 14.0 0 1 0 28 0a14.0 14.0 0 1 0 -28 0z"/>
<path d="M1041.4 710.3a14.0 14.0 0 1 0 28 0a14.0 14.0 0 1 0 -28 0z"/>
<path d="M1042.6 710.1a14.0 14.0 0 1 0 28 0a14.0 14.0 0 1 0 -28 0z"/>
<path d="M1043.8 709.9a14.0 14.0 0 1 0 28 0a14.0 14.0 0 1 0 -28 0z"/>
<path d="M1045 709.6a14.0 14.0 0 1 0 28 0a14.0 14.0 0 1 0 -28 0z"/>
<path d="M1046.2 709.4a14.0 14.0 0 1 0 28 0a14.0 14.0 0 1 0 -28 0z"/>
<path d="M1047.3 709.2a14.0 14.0 0 1 0 28 0a14.0 14.0 0 1 0 -28 0z"/>
<path d="M1048.5 709a14.0 14.0 0 1 0 28 0a14.0 14.0 0 1 0 -28 0z"/>
<path d="M1049.7 708.8a14.0 14.0 0 1 0 28 0a14.0 14.0 0 1 0 -28 0z"/>
<path d="M1050.9 708.6a14.0 14.0 0 1 0 28 0a14.0 14.0 0 1 0 -28 0z"/>
<path d="M1052.1 708.5a14.0 14.0 0 1 0 28 0a14.0 14.0 0 1 0 -28 0z"/>
<path d="M1053.3 708.3a14.0 14.0 0 1 0 28 0a14.0 14.0 0 1 0 -28 0z"/>
<path d="M1054.5 708.1a14.0 14.0 0 1 0 28 0a14.0 14.0 0 1 0 -28 0z"/>
<path d="M1055.7 707.9a14.0 14.0 0 1 0 28 0a14.0 14.0 0 1 0 -28 0z"/>
<path d="M1056.9 707.8a14.0 14.0 0 1 0 28 0a14.0 14.0 0 1 0 -28 0z"/>
<path d="M1058.1 707.6a14.0 14.0 0 1 0 28 0a14.0 14.0 0 1 0 -28 0z"/>
<path d="M1059.3 707.5a14.0 14.0 0 1 0 28 0a14.0 14.0 0 1 0 -28 0z"/>
<path d="M1060.5 707.3a14.0 14.0 0 1 0 28 0a14.0 14.0 0 1 0 -28 0z"/>
<path d="M1061.7 707.2a14.0 14.0 0 1 0 28 0a14.0 14.0 0 1 0 -28 0z"/>
<path d="M1062.9 707.1a14.0 14.0 0 1 0 28 0a14.0 14.0 0 1 0 -28 0z"/>
<path d="M1064.1 707a14.0 14.0 0 1 0 28 0a14.0 14.0 0 1 0 -28 0z"/>
<path d="M1065.3 706.8a14.0 14.0 0 1 0 28 0a14.0 14.0 0 1 0 -28 0z"/>
<path d="M1066.5 706.7a14.0 14.0 0 1 0 28 0a14.0 14.0 0 1 0 -28 0z"/>
<path d="M1067.7 706.6a14.0 14.0 0 1 0 28 0a14.0 14.0 0 1 0 -28 0z"/>
<path d="M1068.9 706.5a14.0 14.0 0 1 0 28 0a14.0 14.0 0 1 0 -28 0z"/>
<path d="M1070.1 706.4a14.0 14.0 0 1 0 28 0a14.0 14.0 0 1 0 -28 0z"/>
<path d="M1071.3 706.3a14.0 14.0 0 1 0 28 0a14.0 14.0 0 1 0 -28 0z"/>
<path d="M1072.5 706.2a14.0 14.0 0 1 0 28 0a14.0 14.0 0 1 0 -28 0z"/>
<path d="M1073.7 706.1a14.0 14.0 0 1 0 28 0a14.0 14.0 0 1 0 -28 0z"/>
<path d="M1074.9 706a14.0 14.0 0 1 0 28 0a14.0 14.0 0 1 0 -28 0z"/>
<path d="M1076.1 705.9a14.0 14.0 0 1 0 28 0a14.0 14.0 0 1 0 -28 0z"/>
<path d="M1077.3 705.7a14.0 14.0 0 1 0 28 0a14.0 14.0 0 1 0 -28 0z"/>
<path d="M1078.5 705.6a14.0 14.0 0 1 0 28 0a14.0 14.0 0 1 0 -28 0z"/>
<path d="M1079.7 705.5a14.0 14.0 0 1 0 28 0a14.0 14.0 0 1 0 -28 0z"/>
<path d="M1080.9 705.4a14.0 14.0 0 1 0 28 0a14.0 14.0 0 1 0 -28 0z"/>
<path d="M1082.1 705.2a14.0 14.0 0 1 0 28 0a14.0 14.0 0 1 0 -28 0z"/>
<path d="M1083.3 705.1a14.0 14.0 0 1 0 28 0a14.0 14.0 0 1 0 -28 0z"/>
<path d="M1084.5 705a14.0 14.0 0 1 0 28 0a14.0 14.0 0 1 0 -28 0z"/>
<path d="M1085.7 704.9a14.0 14.0 0 1 0 28 0a14.0 14.0 0 1 0 -28 0z"/>
<path d="M1086.9 704.8a14.0 14.0 0 1 0 28 0a14.0 14.0 0 1 0 -28 0z"/>
<path d="M1088.1 704.7a14.0 14.0 0 1 0 28 0a14.0 14.0 0 1 0 -28 0z"/>
<path d="M1089.3 704.6a14.0 14.0 0 1 0 28 0a14.0 14.0 0 1 0 -28 0z"/>
<path d="M1090.5 704.5a14.0 14.0 0 1 0 28 0a14.0 14.0 0 1 0 -28 0z"/>
<path d="M1091.7 704.4a14.0 14.0 0 1 0 28 0a14.0 14.0 0 1 0 -28 0z"/>
<path d="M1092.9 704.3a14.0 14.0 0 1 0 28 0a14.0 14.0 0 1 0 -28 0z"/>
<path d="M1094 704.2a14.0 14.0 0 1 0 28 0a14.0 14.0 0 1 0 -28 0z"/>
<path d="M1095.2 704.1a14.0 14.0 0 1 0 28 0a14.0 14.0 0 1 0 -28 0z"/>
<path d="M1096.4 704a14.0 14.0 0 1 0 28 0a14.0 14.0 0 1 0 -28 0z"/>
<path d="M1097.6 704a14.0 14.0 0 1 0 28 0a14.0 14.0 0 1 0 -28 0z"/>
<path d="M1098.8 703.9a14.0 14.0 0 1 0 28 0a14.0 14.0 0 1 0 -28 0z"/>
<path d="M1100 703.8a14.0 14.0 0 1 0 28 0a14.0 14.0 0 1 0 -28 0z"/>
<path d="M1101.2 703.8a14.0 14.0 0 1 0 28 0a14.0 14.0 0 1 0 -28 0z"/>
<path d="M1102.4 703.7a14.0 14.0 0 1 0 28 0a14.0 14.0 0 1 0 -28 0z"/>
<path d="M1103.6 703.6a14.0 14.0 0 1 0 28 0a14.0 14.0 0 1 0 -28 0z"/>
<path d="M1104.8 703.6a14.0 14.0 0 1 0 28 0a14.0 14.0 0 1 0 -28 0z"/>
<path d="M1106 703.5a14.0 14.0 0 1 0 28 0a14.0 14.0 0 1 0 -28 0z"/>
<path d="M1107.2 703.5a14.0 14.0 0 1 0 28 0a14.0 14.0 0 1 0 -28 0z"/>
<path d="M1108.4 703.4a14.0 14.0 0 1 0 28 0a14.0 14.0 0 1 0 -28 0z"/>
<path d="M1109.6 703.4a14.0 14.0 0 1 0 28 0a14.0 14.0 0 1 0 -28 0z"/>
<path d="M1110.8 703.3a14.0 14.0 0 1 0 28 0a14.0 14.0 0 1 0 -28 0z"/>
<path d="M1112 703.3a14.0 14.0 0 1 0 28 0a14.0 14.0 0 1 0 -28 0z"/>
<path d="M1113.2 703.2a14.0 14.0 0 1 0 28 0a14.0 14.0 0 1 0 -28 0z"/>
<path d="M1114.4 703.2a14.0 14.0 0 1 0 28 0a14.0 14.0 0 1 0 -28 0z"/>
<path d="M1115.6 703.1a14.0 14.0 0 1 0 28 0a14.0 14.0 0 1 0 -28 0z"/>
<path d="M1116.8 703.1a14.0 14.0 0 1 0 28 0a14.0 14.0 0 1 0 -28 0z"/>
<path d="M1118 703.1a14.0 14.0 0 1 0 28 0a14.0 14.0 0 1 0 -28 0z"/>
<path d="M1119.2 703a14.0 14.0 0 1 0 28 0a14.0 14.0 0 1 0 -28 0z"/>
<path d="M1120.4 703a14.0 14.0 0 1 0 28 0a14.0 14.0 0 1 0 -28 0z"/>
<path d="M1121.6 703a14.0 14.0 0 1 0 28 0a14.0 14.0 0 1 0 -28 0z"/>
<path d="M1122.8 702.9a14.0 14.0 0 1 0 28 0a14.0 14.0 0 1 0 -28 0z"/>
<path d="M1124 702.9a14.0 14.0 0 1 0 28 0a14.0 14.0 0 1 0 -28 0z"/>
<path d="M1125.2 702.9a14.0 14.0 0 1 0 28 0a14.0 14.0 0 1 0 -28 0z"/>
<path d="M1126.4 702.9a14.0 14.0 0 1 0 28 0a14.0 14.0 0 1 0 -28 0z"/>
<path d="M1127.6 702.8a14.0 14.0 0 1 0 28 0a14.0 14.0 0 1 0 -28 0z"/>
<path d="M1128.8 702.8a14.0 14.0 0 1 0 28 0a14.0 14.0 0 1 0 -28 0z"/>
<path d="M1130 702.8a14.0 14.0 0 1 0 28 0a14.0 14.0 0 1 0 -28 0z"/>
<path d="M1131.2 702.8a14.0 14.0 0 1 0 28 0a14.0 14.0 0 1 0 -28 0z"/>
<path d="M1132.4 702.7a14.0 14.0 0 1 0 28 0a14.0 14.0 0 1 0 -28 0z"/>
<path d="M1133.6 702.7a14.0 14.0 0 1 0 28 0a14.0 14.0 0 1 0 -28 0z"/>
<path d="M1134.8 702.7a14.0 14.0 0 1 0 28 0a14.0 14.0 0 1 0 -28 0z"/>
<path d="M1136 702.7a14.0 14.0 0 1 0 28 0a14.0 14.0 0 1 0 -28 0z"/>
<path d="M1137.2 702.6a14.0 14.0 0 1 0 28 0a14.0 14.0 0 1 0 -28 0z"/>
<path d="M1138.4 702.6a14.0 14.0 0 1 0 28 0a14.0 14.0 0 1 0 -28 0z"/>
<path d="M1139.6 702.6a14.0 14.0 0 1 0 28 0a14.0 14.0 0 1 0 -28 0z"/>
<path d="M1140.8 702.6a14.0 14.0 0 1 0 28 0a14.0 14.0 0 1 0 -28 0z"/>
<path d="M1142 702.6a14.0 14.0 0 1 0 28 0a14.0 14.0 0 1 0 -28 0z"/>
<path d="M1143.1 702.5a14.0 14.0 0 1 0 28 0a14.0 14.0 0 1 0 -28 0z"/>
<path d="M1144.3 702.5a14.0 14.0 0 1 0 28 0a14.0 14.0 0 1 0 -28 0z"/>
<path d="M1145.5 702.5a14.0 14.0 0 1 0 28 0a14.0 14.0 0 1 0 -28 0z"/>
<path d="M1146.7 702.5a14.0 14.0 0 1 0 28 0a14.0 14.0 0 1 0 -28 0z"/>
<path d="M1147.9 702.5a14.0 14.0 0 1 0 28 0a14.0 14.0 0 1 0 -28 0z"/>
<path d="M1149.1 702.4a14.0 14.0 0 1 0 28 0a14.0 14.0 0 1 0 -28 0z"/>
<path d="M1150.3 702.4a14.0 14.0 0 1 0 28 0a14.0 14.0 0 1 0 -28 0z"/>
<path d="M1151.5 702.4a14.0 14.0 0 1 0 28 0a14.0 14.0 0 1 0 -28 0z"/>
<path d="M1152.7 702.4a14.0 14.0 0 1 0 28 0a14.0 14.0 0 1 0 -28 0z"/>
<path d="M1153.9 702.4a14.0 14.0 0 1 0 28 0a14.0 14.0 0 1 0 -28 0z"/>
<path d="M1155.1 702.3a14.0 14.0 0 1 0 28 0a14.0 14.0 0 1 0 -28 0z"/>
<path d="M1156.3 702.3a14.0 14.0 0 1 0 28 0a14.0 14.0 0 1 0 -28 0z"/>
<path d="M1157.5 702.3a14.0 14.0 0 1 0 28 0a14.0 14.0 0 1 0 -28 0z"/>
<path d="M1158.7 702.2a14.0 14.0 0 1 0 28 0a14.0 14.0 0 1 0 -28 0z"/>
<path d="M1159.9 702.2a14.0 14.0 0 1 0 28 0a14.0 14.0 0 1 0 -28 0z"/>
<path d="M1161.1 702.2a14.0 14.0 0 1 0 28 0a14.0 14.0 0 1 0 -28 0z"/>
<path d="M1162.3 702.1a14.0 14.0 0 1 0 28 0a14.0 14.0 0 1 0 -28 0z"/>
<path d="M1163.5 702.1a14.0 14.0 0 1 0 28 0a14.0 14.0 0 1 0 -28 0z"/>
<path d="M1164.7 702.1a14.0 14.0 0 1 0 28 0a14.0 14.0 0 1 0 -28 0z"/>
<path d="M1165.9 702a14.0 14.0 0 1 0 28 0a14.0 14.0 0 1 0 -28 0z"/>
<path d="M1167.1 702a14.0 14.0 0 1 0 28 0a14.0 14.0 0 1 0 -28 0z"/>
<path d="M1168.3 702a14.0 14.0 0 1 0 28 0a14.0 14.0 0 1 0 -28 0z"/>
<path d="M1169.5 701.9a14.0 14.0 0 1 0 28 0a14.0 14.0 0 1 0 -28 0z"/>
<path d="M1170.7 701.9a14.0 14.0 0 1 0 28 0a14.0 14.0 0 1 0 -28 0z"/>
<path d="M1171.9 701.8a14.0 14.0 0 1 0 28 0a14.0 14.0 0 1 0 -28 0z"/>
<path d="M1173.1 701.8a14.0 14.0 0 1 0 28 0a14.0 14.0 0 1 0 -28 0z"/>
<path d="M1174.3 701.7a14.0 14.0 0 1 0 28 0a14.0 14.0 0 1 0 -28 0z"/>
<path d="M1175.5 701.7a14.0 14.0 0 1 0 28 0a14.0 14.0 0 1 0 -28 0z"/>
<path d="M1176.7 701.6a14.0 14.0 0 1 0 28 0a14.0 14.0 0 1 0 -28 0z"/>
<path d="M1177.9 701.5a14.0 14.0 0 1 0 28 0a14.0 14.0 0 1 0 -28 0z"/>
<path d="M1179.1 701.5a14.0 14.0 0 1 0 28 0a14.0 14.0 0 1 0 -28 0z"/>
<path d="M1180.3 701.4a14.0 14.0 0 1 0 28 0a14.0 14.0 0 1 0 -28 0z"/>
<path d="M1181.5 701.4a14.0 14.0 0 1 0 28 0a14.0 14.0 0 1 0 -28 0z"/>
<path d="M1182.7 701.3a14.0 14.0 0 1 0 28 0a14.0 14.0 0 1 0 -28 0z"/>
<path d="M1183.9 701.2a14.0 14.0 0 1 0 28 0a14.0 14.0 0 1 0 -28 0z"/>
<path d="M1185.1 701.1a14.0 14.0 0 1 0 28 0a14.0 14.0 0 1 0 -28 0z"/>
<path d="M1186.3 701.1a14.0 14.0 0 1 0 28 0a14.0 14.0 0 1 0 -28 0z"/>
<path d="M1187.5 701a14.0 14.0 0 1 0 28 0a14.0 14.0 0 1 0 -28 0z"/>
<path d="M1188.7 700.9a14.0 14.0 0 1 0 28 0a14.0 14.0 0 1 0 -28 0z"/>
<path d="M1189.8 700.8a14.0 14.0 0 1 0 28 0a14.0 14.0 0 1 0 -28 0z"/>
<path d="M1191 700.7a14.0 14.0 0 1 0 28 0a14.0 14.0 0 1 0 -28 0z"/>
<path d="M1192.2 700.6a14.0 14.0 0 1 0 28 0a14.0 14.0 0 1 0 -28 0z"/>
<path d="M1193.4 700.5a14.0 14.0 0 1 0 28 0a14.0 14.0 0 1 0 -28 0z"/>
<path d="M1194.6 700.4a14.0 14.0 0 1 0 28 0a14.0 14.0 0 1 0 -28 0z"/>
<path d="M1195.8 700.3a14.0 14.0 0 1 0 28 0a14.0 14.0 0 1 0 -28 0z"/>
<path d="M1197 700.2a14.0 14.0 0 1 0 28 0a14.0 14.0 0 1 0 -28 0z"/>
<path d="M1198.2 700.1a14.0 14.0 0 1 0 28 0a14.0 14.0 0 1 0 -28 0z"/>
<path d="M1199.4 699.9a14.0 14.0 0 1 0 28 0a14.0 14.0 0 1 0 -28 0z"/>
<path d="M1200.6 699.8a14.0 14.0 0 1 0 28 0a14.0 14.0 0 1 0 -28 0z"/>
<path d="M1201.8 699.7a14.0 14.0 0 1 0 28 0a14.0 14.0 0 1 0 -28 0z"/>
<path d="M1203 699.6a14.0 14.0 0 1 0 28 0a14.0 14.0 0 1 0 -28 0z"/>
<path d="M1204.2 699.4a14.0 14.0 0 1 0 28 0a14.0 14.0 0 1 0 -28 0z"/>
<path d="M1205.4 699.3a14.0 14.0 0 1 0 28 0a14.0 14.0 0 1 0 -28 0z"/>
<path d="M1206.6 699.2a14.0 14.0 0 1 0 28 0a14.0 14.0 0 1 0 -28 0z"/>
<path d="M1207.8 699a14.0 14.0 0 1 0 28 0a14.0 14.0 0 1 0 -28 0z"/>
<path d="M1209 698.9a14.0 14.0 0 1 0 28 0a14.0 14.0 0 1 0 -28 0z"/>
<path d="M1210.2 698.7a14.0 14.0 0 1 0 28 0a14.0 14.0 0 1 0 -28 0z"/>
<path d="M1211.4 698.6a14.0 14.0 0 1 0 28 0a14.0 14.0 0 1 0 -28 0z"/>
<path d="M1212.6 698.4a14.0 14.0 0 1 0 28 0a14.0 14.0 0 1 0 -28 0z"/>
<path d="M1213.8 698.2a14.0 14.0 0 1 0 28 0a14.0 14.0 0 1 0 -28 0z"/>
<path d="M1215 698.1a14.0 14.0 0 1 0 28 0a14.0 14.0 0 1 0 -28 0z"/>
<path d="M1216.2 697.9a14.0 14.0 0 1 0 28 0a14.0 14.0 0 1 0 -28 0z"/>
<path d="M1217.4 697.9a14.0 14.0 0 1 0 28 0a14.0 14.0 0 1 0 -28 0z"/>
<path d="M1218.6 697.8a14.0 14.0 0 1 0 28 0a14.0 14.0 0 1 0 -28 0z"/>
<path d="M1219.8 697.7a14.0 14.0 0 1 0 28 0a14.0 14.0 0 1 0 -28 0z"/>
<path d="M1221 697.7a14.0 14.0 0 1 0 28 0a14.0 14.0 0 1 0 -28 0z"/>
<path d="M1222.2 697.6a14.0 14.0 0 1 0 28 0a14.0 14.0 0 1 0 -28 0z"/>
<path d="M1223.4 697.5a14.0 14.0 0 1 0 28 0a14.0 14.0 0 1 0 -28 0z"/>
<path d="M1224.6 697.5a14.0 14.0 0 1 0 28 0a14.0 14.0 0 1 0 -28 0z"/>
<path d="M1225.8 697.4a14.0 14.0 0 1 0 28 0a14.0 14.0 0 1 0 -28 0z"/>
<path d="M1227 697.3a14.0 14.0 0 1 0 28 0a14.0 14.0 0 1 0 -28 0z"/>
<path d="M1228.2 697.2a14.0 14.0 0 1 0 28 0a14.0 14.0 0 1 0 -28 0z"/>
<path d="M1229.4 697.1a14.0 14.0 0 1 0 28 0a14.0 14.0 0 1 0 -28 0z"/>
<path d="M1230.6 697a14.0 14.0 0 1 0 28 0a14.0 14.0 0 1 0 -28 0z"/>
<path d="M1231.8 696.9a14.0 14.0 0 1 0 28 0a14.0 14.0 0 1 0 -28 0z"/>
<path d="M1233 696.8a14.0 14.0 0 1 0 28 0a14.0 14.0 0 1 0 -28 0z"/>
<path d="M1234.2 696.7a14.0 14.0 0 1 0 28 0a14.0 14.0 0 1 0 -28 0z"/>
<path d="M1235.4 696.6a14.0 14.0 0 1 0 28 0a14.0 14.0 0 1 0 -28 0z"/>
<path d="M1236.6 696.5a14.0 14.0 0 1 0 28 0a14.0 14.0 0 1 0 -28 0z"/>
<path d="M1237.8 696.4a14.0 14.0 0 1 0 28 0a14.0 14.0 0 1 0 -28 0z"/>
<path d="M1238.9 696.3a14.0 14.0 0 1 0 28 0a14.0 14.0 0 1 0 -28 0z"/>
<path d="M1240.1 696.2a14.0 14.0 0 1 0 28 0a14.0 14.0 0 1 0 -28 0z"/>
<path d="M1241.3 696.1a14.0 14.0 0 1 0 28 0a14.0 14.0 0 1 0 -28 0z"/>
<path d="M1242.5 695.9a14.0 14.0 0 1 0 28 0a14.0 14.0 0 1 0 -28 0z"/>
<path d="M1243.7 695.8a14.0 14.0 0 1 0 28 0a14.0 14.0 0 1 0 -28 0z"/>
<path d="M1244.9 695.7a14.0 14.0 0 1 0 28 0a14.0 14.0 0 1 0 -28 0z"/>
<path d="M1246.1 695.5a14.0 14.0 0 1 0 28 0a14.0 14.0 0 1 0 -28 0z"/>
<path d="M1247.3 695.4a14.0 14.0 0 1 0 28 0a14.0 14.0 0 1 0 -28 0z"/>
<path d="M1248.5 695.3a14.0 14.0 0 1 0 28 0a14.0 14.0 0 1 0 -28 0z"/>
<path d="M1249.7 695.1a14.0 14.0 0 1 0 28 0a14.0 14.0 0 1 0 -28 0z"/>
<path d="M1250.9 695a14.0 14.0 0 1 0 28 0a14.0 14.0 0 1 0 -28 0z"/>
<path d="M1252.1 694.8a14.0 14.0 0 1 0 28 0a14.0 14.0 0 1 0 -28 0z"/>
<path d="M1253.3 694.7a14.0 14.0 0 1 0 28 0a14.0 14.0 0 1 0 -28 0z"/>
<path d="M1254.5 694.5a14.0 14.0 0 1 0 28 0a14.0 14.0 0 1 0 -28 0z"/>
<path d="M1255.7 694.4a14.0 14.0 0 1 0 28 0a14.0 14.0 0 1 0 -28 0z"/>
<path d="M1256.9 694.2a14.0 14.0 0 1 0 28 0a14.0 14.0 0 1 0 -28 0z"/>
<path d="M1258.1 694a14.0 14.0 0 1 0 28 0a14.0 14.0 0 1 0 -28 0z"/>
<path d="M1259.3 693.9a14.0 14.0 0 1 0 28 0a14.0 14.0 0 1 0 -28 0z"/>
<path d="M1260.5 693.7a14.0 14.0 0 1 0 28 0a14.0 14.0 0 1 0 -28 0z"/>
<path d="M1261.7 693.5a14.0 14.0 0 1 0 28 0a14.0 14.0 0 1 0 -28 0z"/>
<path d="M1262.9 693.3a14.0 14.0 0 1 0 28 0a14.0 14.0 0 1 0 -28 0z"/>
<path d="M1264.1 693.2a14.0 14.0 0 1 0 28 0a14.0 14.0 0 1 0 -28 0z"/>
<path d="M1265.3 693a14.0 14.0 0 1 0 28 0a14.0 14.0 0 1 0 -28 0z"/>
<path d="M1266.5 692.8a14.0 14.0 0 1 0 28 0a14.0 14.0 0 1 0 -28 0z"/>
<path d="M1267.7 692.6a14.0 14.0 0 1 0 28 0a14.0 14.0 0 1 0 -28 0z"/>
<path d="M1268.9 692.4a14.0 14.0 0 1 0 28 0a14.0 14.0 0 1 0 -28 0z"/>
<path d="M1270.1 692.2a14.0 14.0 0 1 0 28 0a14.0 14.0 0 1 0 -28 0z"/>
<path d="M1271.3 692a14.0 14.0 0 1 0 28 0a14.0 14.0 0 1 0 -28 0z"/>
<path d="M1272.5 691.8a14.0 14.0 0 1 0 28 0a14.0 14.0 0 1 0 -28 0z"/>
<path d="M1273.7 691.6a14.0 14.0 0 1 0 28 0a14.0 14.0 0 1 0 -28 0z"/>
<path d="M1274.9 691.4a14.0 14.0 0 1 0 28 0a14.0 14.0 0 1 0 -28 0z"/>
<path d="M1276.1 691.2a14.0 14.0 0 1 0 28 0a14.0 14.0 0 1 0 -28 0z"/>
<path d="M1277.3 691a14.0 14.0 0 1 0 28 0a14.0 14.0 0 1 0 -28 0z"/>
<path d="M1278.5 690.8a14.0 14.0 0 1 0 28 0a14.0 14.0 0 1 0 -28 0z"/>
<path d="M1279.7 690.6a14.0 14.0 0 1 0 28 0a14.0 14.0 0 1 0 -28 0z"/>
<path d="M1280.9 690.4a14.0 14.0 0 1 0 28 0a14.0 14.0 0 1 0 -28 0z"/>
<path d="M1282.1 690.1a14.0 14.0 0 1 0 28 0a14.0 14.0 0 1 0 -28 0z"/>
<path d="M1283.3 689.9a14.0 14.0 0 1 0 28 0a14.0 14.0 0 1 0 -28 0z"/>
<path d="M1284.5 689.7a14.0 14.0 0 1 0 28 0a14.0 14.0 0 1 0 -28 0z"/>
<path d="M1285.7 689.5a14.0 14.0 0 1 0 28 0a14.0 14.0 0 1 0 -28 0z"/>
<path d="M1286.8 689.2a14.0 14.0 0 1 0 28 0a14.0 14.0 0 1 0 -28 0z"/>
<path d="M1288 689a14.0 14.0 0 1 0 28 0a14.0 14.0 0 1 0 -28 0z"/>
<path d="M1289.2 688.8a14.0 14.0 0 1 0 28 0a14.0 14.0 0 1 0 -28 0z"/>
<path d="M1290.4 688.5a14.0 14.0 0 1 0 28 0a14.0 14.0 0 1 0 -28 0z"/>
<path d="M1291.6 688.3a14.0 14.0 0 1 0 28 0a14.0 14.0 0 1 0 -28 0z"/>
<path d="M1292.8 688a14.0 14.0 0 1 0 28 0a14.0 14.0 0 1 0 -28 0z"/>
<path d="M1294 687.8a14.0 14.0 0 1 0 28 0a14.0 14.0 0 1 0 -28 0z"/>
<path d="M1295.2 687.6a14.0 14.0 0 1 0 28 0a14.0 14.0 0 1 0 -28 0z"/>
<path d="M1296.4 687.3a14.0 14.0 0 1 0 28 0a14.0 14.0 0 1 0 -28 0z"/>
<path d="M1297.6 687a14.0 14.0 0 1 0 28 0a14.0 14.0 0 1 0 -28 0z"/>
<path d="M1298.8 686.8a14.0 14.0 0 1 0 28 0a14.0 14.0 0 1 0 -28 0z"/>
<path d="M1300 686.5a14.0 14.0 0 1 0 28 0a14.0 14.0 0 1 0 -28 0z"/>
<path d="M1301.2 686.3a14.0 14.0 0 1 0 28 0a14.0 14.0 0 1 0 -28 0z"/>
<path d="M1302.4 686a14.0 14.0 0 1 0 28 0a14.0 14.0 0 1 0 -28 0z"/>
<path d="M1303.6 685.8a14.0 14.0 0 1 0 28 0a14.0 14.0 0 1 0 -28 0z"/>
<path d="M1304.8 685.5a14.0 14.0 0 1 0 28 0a14.0 14.0 0 1 0 -28 0z"/>
<path d="M1306 685.2a14.0 14.0 0 1 0 28 0a14.0 14.0 0 1 0 -28 0z"/>
<path d="M1307.2 685a14.0 14.0 0 1 0 28 0a14.0 14.0 0 1 0 -28 0z"/>
<path d="M1308.4 684.7a14.0 14.0 0 1 0 28 0a14.0 14.0 0 1 0 -28 0z"/>
<path d="M1309.6 684.4a14.0 14.0 0 1 0 28 0a14.0 14.0 0 1 0 -28 0z"/>
<path d="M1310.8 684.1a14.0 14.0 0 1 0 28 0a14.0 14.0 0 1 0 -28 0z"/>
<path d="M1312 683.9a14.0 14.0 0 1 0 28 0a14.0 14.0 0 1 0 -28 0z"/>
<path d="M1313.2 683.6a14.0 14.0 0 1 0 28 0a14.0 14.0 0 1 0 -28 0z"/>
<path d="M1314.4 683.3a14.0 14.0 0 1 0 28 0a14.0 14.0 0 1 0 -28 0z"/>
<path d="M1315.6 683a14.0 14.0 0 1 0 28 0a14.0 14.0 0 1 0 -28 0z"/>
<path d="M1316.8 682.7a14.0 14.0 0 1 0 28 0a14.0 14.0 0 1 0 -28 0z"/>
<path d="M1318 682.5a14.0 14.0 0 1 0 28 0a14.0 14.0 0 1 0 -28 0z"/>
<path d="M1319.2 682.2a14.0 14.0 0 1 0 28 0a14.0 14.0 0 1 0 -28 0z"/>
<path d="M1320.4 681.9a14.0 14.0 0 1 0 28 0a14.0 14.0 0 1 0 -28 0z"/>
<path d="M1321.6 681.6a14.0 14.0 0 1 0 28 0a14.0 14.0 0 1 0 -28 0z"/>
<path d="M1322.8 681.3a14.0 14.0 0 1 0 28 0a14.0 14.0 0 1 0 -28 0z"/>
<path d="M1324 681a14.0 14.0 0 1 0 28 0a14.0 14.0 0 1 0 -28 0z"/>
<path d="M1325.2 680.7a14.0 14.0 0 1 0 28 0a14.0 14.0 0 1 0 -28 0z"/>
<path d="M1326.4 680.4a14.0 14.0 0 1 0 28 0a14.0 14.0 0 1 0 -28 0z"/>
<path d="M1327.6 680.1a14.0 14.0 0 1 0 28 0a14.0 14.0 0 1 0 -28 0z"/>
<path d="M1328.8 679.8a14.0 14.0 0 1 0 28 0a14.0 14.0 0 1 0 -28 0z"/>
<path d="M1330 679.5a14.0 14.0 0 1 0 28 0a14.0 14.0 0 1 0 -28 0z"/>
<path d="M1331.2 679.1a14.0 14.0 0 1 0 28 0a14.0 14.0 0 1 0 -28 0z"/>
<path d="M1332.4 678.8a14.0 14.0 0 1 0 28 0a14.0 14.0 0 1 0 -28 0z"/>
<path d="M1333.5 678.5a14.0 14.0 0 1 0 28 0a14.0 14.0 0 1 0 -28 0z"/>
<path d="M1334.7 678.2a14.0 14.0 0 1 0 28 0a14.0 14.0 0 1 0 -28 0z"/>
<path d="M1335.9 677.9a14.0 14.0 0 1 0 28 0a14.0 14.0 0 1 0 -28 0z"/>
<path d="M1337.1 677.6a14.0 14.0 0 1 0 28 0a14.0 14.0 0 1 0 -28 0z"/>
<path d="M1338.3 677.2a14.0 14.0 0 1 0 28 0a14.0 14.0 0 1 0 -28 0z"/>
<path d="M1339.5 676.9a14.0 14.0 0 1 0 28 0a14.0 14.0 0 1 0 -28 0z"/>
<path d="M1340.7 676.6a14.0 14.0 0 1 0 28 0a14.0 14.0 0 1 0 -28 0z"/>
<path d="M1341.9 676.3a14.0 14.0 0 1 0 28 0a14.0 14.0 0 1 0 -28 0z"/>
<path d="M1343.1 675.9a14.0 14.0 0 1 0 28 0a14.0 14.0 0 1 0 -28 0z"/>
<path d="M1344.3 675.6a14.0 14.0 0 1 0 28 0a14.0 14.0 0 1 0 -28 0z"/>
<path d="M1345.5 675.3a14.0 14.0 0 1 0 28 0a14.0 14.0 0 1 0 -28 0z"/>
<path d="M1346.7 674.9a14.0 14.0 0 1 0 28 0a14.0 14.0 0 1 0 -28 0z"/>
<path d="M1347.9 674.6a14.0 14.0 0 1 0 28 0a14.0 14.0 0 1 0 -28 0z"/>
<path d="M1349.1 674.2a14.0 14.0 0 1 0 28 0a14.0 14.0 0 1 0 -28 0z"/>
<path d="M1350.3 673.9a14.0 14.0 0 1 0 28 0a14.0 14.0 0 1 0 -28 0z"/>
<path d="M1351.5 673.6a14.0 14.0 0 1 0 28 0a14.0 14.0 0 1 0 -28 0z"/>
<path d="M1352.7 673.2a14.0 14.0 0 1 0 28 0a14.0 14.0 0 1 0 -28 0z"/>
<path d="M1353.9 672.9a14.0 14.0 0 1 0 28 0a14.0 14.0 0 1 0 -28 0z"/>
<path d="M1355.1 672.5a14.0 14.0 0 1 0 28 0a14.0 14.0 0 1 0 -28 0z"/>
<path d="M1356.3 672.2a14.0 14.0 0 1 0 28 0a14.0 14.0 0 1 0 -28 0z"/>
<path d="M1357.5 671.8a14.0 14.0 0 1 0 28 0a14.0 14.0 0 1 0 -28 0z"/>
<path d="M1358.7 671.5a14.0 14.0 0 1 0 28 0a14.0 14.0 0 1 0 -28 0z"/>
<path d="M1359.9 671.1a14.0 14.0 0 1 0 28 0a14.0 14.0 0 1 0 -28 0z"/>
<path d="M1361.1 670.7a14.0 14.0 0 1 0 28 0a14.0 14.0 0 1 0 -28 0z"/>
<path d="M1362.3 670.4a14.0 14.0 0 1 0 28 0a14.0 14.0 0 1 0 -28 0z"/>
<path d="M1363.5 670a14.0 14.0 0 1 0 28 0a14.0 14.0 0 1 0 -28 0z"/>
<path d="M1364.7 669.7a14.0 14.0 0 1 0 28 0a14.0 14.0 0 1 0 -28 0z"/>
<path d="M1365.9 669.3a14.0 14.0 0 1 0 28 0a14.0 14.0 0 1 0 -28 0z"/>
<path d="M1367.1 668.9a14.0 14.0 0 1 0 28 0a14.0 14.0 0 1 0 -28 0z"/>
<path d="M1368.3 668.6a14.0 14.0 0 1 0 28 0a14.0 14.0 0 1 0 -28 0z"/>
<path d="M1369.5 668.2a14.0 14.0 0 1 0 28 0a14.0 14.0 0 1 0 -28 0z"/>
<path d="M1370.7 667.8a14.0 14.0 0 1 0 28 0a14.0 14.0 0 1 0 -28 0z"/>
<path d="M1371.9 667.4a14.0 14.0 0 1 0 28 0a14.0 14.0 0 1 0 -28 0z"/>
<path d="M1373.1 667.1a14.0 14.0 0 1 0 28 0a14.0 14.0 0 1 0 -28 0z"/>
<path d="M1374.3 666.7a14.0 14.0 0 1 0 28 0a14.0 14.0 0 1 0 -28 0z"/>
<path d="M1375.5 666.3a14.0 14.0 0 1 0 28 0a14.0 14.0 0 1 0 -28 0z"/>
<path d="M1376.7 665.9a14.0 14.0 0 1 0 28 0a14.0 14.0 0 1 0 -28 0z"/>
<path d="M1377.9 665.6a14.0 14.0 0 1 0 28 0a14.0 14.0 0 1 0 -28 0z"/>
<path d="M1379.1 665.2a14.0 14.0 0 1 0 28 0a14.0 14.0 0 1 0 -28 0z"/>
<path d="M1380.3 664.8a14.0 14.0 0 1 0 28 0a14.0 14.0 0 1 0 -28 0z"/>
<path d="M1381.5 664.4a14.0 14.0 0 1 0 28 0a14.0 14.0 0 1 0 -28 0z"/>
<path d="M1382.6 664a14.0 14.0 0 1 0 28 0a14.0 14.0 0 1 0 -28 0z"/>
<path d="M1383.8 663.6a14.0 14.0 0 1 0 28 0a14.0 14.0 0 1 0 -28 0z"/>
<path d="M1385 663.2a14.0 14.0 0 1 0 28 0a14.0 14.0 0 1 0 -28 0z"/>
<path d="M1386.2 662.8a14.0 14.0 0 1 0 28 0a14.0 14.0 0 1 0 -28 0z"/>
<path d="M1387.4 662.3a14.0 14.0 0 1 0 28 0a14.0 14.0 0 1 0 -28 0z"/>
<path d="M1388.6 661.8a14.0 14.0 0 1 0 28 0a14.0 14.0 0 1 0 -28 0z"/>
<path d="M1389.8 661.3a14.0 14.0 0 1 0 28 0a14.0 14.0 0 1 0 -28 0z"/>
<path d="M1391 660.8a14.0 14.0 0 1 0 28 0a14.0 14.0 0 1 0 -28 0z"/>
<path d="M1392.2 660.3a14.0 14.0 0 1 0 28 0a14.0 14.0 0 1 0 -28 0z"/>
<path d="M1393.4 659.8a14.0 14.0 0 1 0 28 0a14.0 14.0 0 1 0 -28 0z"/>
<path d="M1394.6 659.3a14.0 14.0 0 1 0 28 0a14.0 14.0 0 1 0 -28 0z"/>
<path d="M1395.8 658.8a14.0 14.0 0 1 0 28 0a14.0 14.0 0 1 0 -28 0z"/>
<path d="M1397 658.3a14.0 14.0 0 1 0 28 0a14.0 14.0 0 1 0 -28 0z"/>
<path d="M1398.2 657.7a14.0 14.0 0 1 0 28 0a14.0 14.0 0 1 0 -28 0z"/>
<path d="M1399.4 657.2a14.0 14.0 0 1 0 28 0a14.0 14.0 0 1 0 -28 0z"/>
<path d="M1400.6 656.7a14.0 14.0 0 1 0 28 0a14.0 14.0 0 1 0 -28 0z"/>
<path d="M1401.8 656.2a14.0 14.0 0 1 0 28 0a14.0 14.0 0 1 0 -28 0z"/>
<path d="M1403 655.7a14.0 14.0 0 1 0 28 0a14.0 14.0 0 1 0 -28 0z"/>
<path d="M1404.2 655.2a14.0 14.0 0 1 0 28 0a14.0 14.0 0 1 0 -28 0z"/>
<path d="M1405.4 654.6a14.0 14.0 0 1 0 28 0a14.0 14.0 0 1 0 -28 0z"/>
<path d="M1406.6 654.1a14.0 14.0 0 1 0 28 0a14.0 14.0 0 1 0 -28 0z"/>
<path d="M1407.8 653.6a14.0 14.0 0 1 0 28 0a14.0 14.0 0 1 0 -28 0z"/>
<path d="M1409 653.1a14.0 14.0 0 1 0 28 0a14.0 14.0 0 1 0 -28 0z"/>
<path d="M1410.2 652.6a14.0 14.0 0 1 0 28 0a14.0 14.0 0 1 0 -28 0z"/>
<path d="M1411.4 652a14.0 14.0 0 1 0 28 0a14.0 14.0 0 1 0 -28 0z"/>
<path d="M1412.6 651.5a14.0 14.0 0 1 0 28 0a14.0 14.0 0 1 0 -28 0z"/>
<path d="M1413.8 651a14.0 14.0 0 1 0 28 0a14.0 14.0 0 1 0 -28 0z"/>
<path d="M1415 650.4a14.0 14.0 0 1 0 28 0a14.0 14.0 0 1 0 -28 0z"/>
<path d="M1416.2 649.9a14.0 14.0 0 1 0 28 0a14.0 14.0 0 1 0 -28 0z"/>
<path d="M1417.4 649.4a14.0 14.0 0 1 0 28 0a14.0 14.0 0 1 0 -28 0z"/>
<path d="M1418.6 648.9a14.0 14.0 0 1 0 28 0a14.0 14.0 0 1 0 -28 0z"/>
<path d="M1419.8 648.3a14.0 14.0 0 1 0 28 0a14.0 14.0 0 1 0 -28 0z"/>
<path d="M1421 647.8a14.0 14.0 0 1 0 28 0a14.0 14.0 0 1 0 -28 0z"/>
<path d="M1422.2 647.3a14.0 14.0 0 1 0 28 0a14.0 14.0 0 1 0 -28 0z"/>
<path d="M1423.4 646.7a14.0 14.0 0 1 0 28 0a14.0 14.0 0 1 0 -28 0z"/>
<path d="M1424.6 646.2a14.0 14.0 0 1 0 28 0a14.0 14.0 0 1 0 -28 0z"/>
<path d="M1425.8 645.6a14.0 14.0 0 1 0 28 0a14.0 14.0 0 1 0 -28 0z"/>
<path d="M1427 645.1a14.0 14.0 0 1 0 28 0a14.0 14.0 0 1 0 -28 0z"/>
<path d="M1428.2 644.6a14.0 14.0 0 1 0 28 0a14.0 14.0 0 1 0 -28 0z"/>
<path d="M1429.3 644a14.0 14.0 0 1 0 28 0a14.0 14.0 0 1 0 -28 0z"/>
<path d="M1430.5 643.5a14.0 14.0 0 1 0 28 0a14.0 14.0 0 1 0 -28 0z"/>
<path d="M1431.7 642.9a14.0 14.0 0 1 0 28 0a14.0 14.0 0 1 0 -28 0z"/>
<path d="M1432.9 642.4a14.0 14.0 0 1 0 28 0a14.0 14.0 0 1 0 -28 0z"/>
<path d="M1434.1 641.9a14.0 14.0 0 1 0 28 0a14.0 14.0 0 1 0 -28 0z"/>
<path d="M1435.3 641.3a14.0 14.0 0 1 0 28 0a14.0 14.0 0 1 0 -28 0z"/>
<path d="M1436.5 640.8a14.0 14.0 0 1 0 28 0a14.0 14.0 0 1 0 -28 0z"/>
<path d="M1437.7 640.2a14.0 14.0 0 1 0 28 0a14.0 14.0 0 1 0 -28 0z"/>
<path d="M1438.9 639.7a14.0 14.0 0 1 0 28 0a14.0 14.0 0 1 0 -28 0z"/>
<path d="M1440.1 639.1a14.0 14.0 0 1 0 28 0a14.0 14.0 0 1 0 -28 0z"/>
<path d="M1441.3 638.6a14.0 14.0 0 1 0 28 0a14.0 14.0 0 1 0 -28 0z"/>
<path d="M1442.5 638a14.0 14.0 0 1 0 28 0a14.0 14.0 0 1 0 -28 0z"/>
<path d="M1443.7 637.5a14.0 14.0 0 1 0 28 0a14.0 14.0 0 1 0 -28 0z"/>
<path d="M1444.9 636.9a14.0 14.0 0 1 0 28 0a14.0 14.0 0 1 0 -28 0z"/>
<path d="M1446.1 636.4a14.0 14.0 0 1 0 28 0a14.0 14.0 0 1 0 -28 0z"/>
<path d="M1447.3 635.8a14.0 14.0 0 1 0 28 0a14.0 14.0 0 1 0 -28 0z"/>
<path d="M1448.5 635.3a14.0 14.0 0 1 0 28 0a14.0 14.0 0 1 0 -28 0z"/>
<path d="M1449.7 634.7a14.0 14.0 0 1 0 28 0a14.0 14.0 0 1 0 -28 0z"/>
<path d="M1450.9 634.2a14.0 14.0 0 1 0 28 0a14.0 14.0 0 1 0 -28 0z"/>
<path d="M1452.1 633.6a14.0 14.0 0 1 0 28 0a14.0 14.0 0 1 0 -28 0z"/>
<path d="M1453.3 633.1a14.0 14.0 0 1 0 28 0a14.0 14.0 0 1 0 -28 0z"/>
<path d="M1454.5 632.5a14.0 14.0 0 1 0 28 0a14.0 14.0 0 1 0 -28 0z"/>
<path d="M1455.7 632a14.0 14.0 0 1 0 28 0a14.0 14.0 0 1 0 -28 0z"/>
<path d="M1456.9 631.4a14.0 14.0 0 1 0 28 0a14.0 14.0 0 1 0 -28 0z"/>
<path d="M1458.1 630.8a14.0 14.0 0 1 0 28 0a14.0 14.0 0 1 0 -28 0z"/>
<path d="M1459.3 630.3a14.0 14.0 0 1 0 28 0a14.0 14.0 0 1 0 -28 0z"/>
<path d="M1460.5 629.7a14.0 14.0 0 1 0 28 0a14.0 14.0 0 1 0 -28 0z"/>
<path d="M1461.7 629.2a14.0 14.0 0 1 0 28 0a14.0 14.0 0 1 0 -28 0z"/>
<path d="M1462.9 628.6a14.0 14.0 0 1 0 28 0a14.0 14.0 0 1 0 -28 0z"/>
<path d="M1464.1 628.1a14.0 14.0 0 1 0 28 0a14.0 14.0 0 1 0 -28 0z"/>
<path d="M1465.3 627.5a14.0 14.0 0 1 0 28 0a14.0 14.0 0 1 0 -28 0z"/>
<path d="M1466.5 626.9a14.0 14.0 0 1 0 28 0a14.0 14.0 0 1 0 -28 0z"/>
<path d="M1467.7 626.4a14.0 14.0 0 1 0 28 0a14.0 14.0 0 1 0 -28 0z"/>
<path d="M1468.9 625.8a14.0 14.0 0 1 0 28 0a14.0 14.0 0 1 0 -28 0z"/>
<path d="M1470.1 625.3a14.0 14.0 0 1 0 28 0a14.0 14.0 0 1 0 -28 0z"/>
<path d="M1471.3 624.7a14.0 14.0 0 1 0 28 0a14.0 14.0 0 1 0 -28 0z"/>
<path d="M1472.5 624a14.0 14.0 0 1 0 28 0a14.0 14.0 0 1 0 -28 0z"/>
<path d="M1473.7 623.4a14.0 14.0 0 1 0 28 0a14.0 14.0 0 1 0 -28 0z"/>
<path d="M1474.9 622.8a14.0 14.0 0 1 0 28 0a14.0 14.0 0 1 0 -28 0z"/>
<path d="M1476.1 622.2a14.0 14.0 0 1 0 28 0a14.0 14.0 0 1 0 -28 0z"/>
<path d="M1477.2 621.6a14.0 14.0 0 1 0 28 0a14.0 14.0 0 1 0 -28 0z"/>
<path d="M1478.4 620.9a14.0 14.0 0 1 0 28 0a14.0 14.0 0 1 0 -28 0z"/>
<path d="M1479.6 620.3a14.0 14.0 0 1 0 28 0a14.0 14.0 0 1 0 -28 0z"/>
<path d="M1480.8 619.7a14.0 14.0 0 1 0 28 0a14.0 14.0 0 1 0 -28 0z"/>
<path d="M1482 619.1a14.0 14.0 0 1 0 28 0a14.0 14.0 0 1 0 -28 0z"/>
<path d="M1483.2 618.4a14.0 14.0 0 1 0 28 0a14.0 14.0 0 1 0 -28 0z"/>
<path d="M1484.4 617.8a14.0 14.0 0 1 0 28 0a14.0 14.0 0 1 0 -28 0z"/>
<path d="M1485.6 617.2a14.0 14.0 0 1 0 28 0a14.0 14.0 0 1 0 -28 0z"/>
<path d="M1486.8 616.6a14.0 14.0 0 1 0 28 0a14.0 14.0 0 1 0 -28 0z"/>
<path d="M1488 615.9a14.0 14.0 0 1 0 28 0a14.0 14.0 0 1 0 -28 0z"/>
<path d="M1489.2 615.3a14.0 14.0 0 1 0 28 0a14.0 14.0 0 1 0 -28 0z"/>
<path d="M1490.4 614.7a14.0 14.0 0 1 0 28 0a14.0 14.0 0 1 0 -28 0z"/>
<path d="M1491.6 614.1a14.0 14.0 0 1 0 28 0a14.0 14.0 0 1 0 -28 0z"/>
<path d="M1492.8 613.4a14.0 14.0 0 1 0 28 0a14.0 14.0 0 1 0 -28 0z"/>
<path d="M1494 612.8a14.0 14.0 0 1 0 28 0a14.0 14.0 0 1 0 -28 0z"/>
<path d="M1495.2 612.2a14.0 14.0 0 1 0 28 0a14.0 14.0 0 1 0 -28 0z"/>
<path d="M1496.4 611.6a14.0 14.0 0 1 0 28 0a14.0 14.0 0 1 0 -28 0z"/>
<path d="M1497.6 610.9a14.0 14.0 0 1 0 28 0a14.0 14.0 0 1 0 -28 0z"/>
<path d="M1498.8 610.3a14.0 14.0 0 1 0 28 0a14.0 14.0 0 1 0 -28 0z"/>
<path d="M1500 609.7a14.0 14.0 0 1 0 28 0a14.0 14.0 0 1 0 -28 0z"/>
<path d="M1501.2 609.1a14.0 14.0 0 1 0 28 0a14.0 14.0 0 1 0 -28 0z"/>
<path d="M1502.4 608.4a14.0 14.0 0 1 0 28 0a14.0 14.0 0 1 0 -28 0z"/>
<path d="M1503.6 607.8a14.0 14.0 0 1 0 28 0a14.0 14.0 0 1 0 -28 0z"/>
<path d="M1504.8 607.2a14.0 14.0 0 1 0 28 0a14.0 14.0 0 1 0 -28 0z"/>
<path d="M1506 606.6a14.0 14.0 0 1 0 28 0a14.0 14.0 0 1 0 -28 0z"/>
<path d="M1507.2 605.9a14.0 14.0 0 1 0 28 0a14.0 14.0 0 1 0 -28 0z"/>
<path d="M1508.4 605.3a14.0 14.0 0 1 0 28 0a14.0 14.0 0 1 0 -28 0z"/>
<path d="M1509.6 604.7a14.0 14.0 0 1 0 28 0a14.0 14.0 0 1 0 -28 0z"/>
<path d="M1510.8 604.1a14.0 14.0 0 1 0 28 0a14.0 14.0 0 1 0 -28 0z"/>
<path d="M1512 603.4a14.0 14.0 0 1 0 28 0a14.0 14.0 0 1 0 -28 0z"/>
<path d="M1513.2 602.8a14.0 14.0 0 1 0 28 0a14.0 14.0 0 1 0 -28 0z"/>
<path d="M1514.4 602.2a14.0 14.0 0 1 0 28 0a14.0 14.0 0 1 0 -28 0z"/>
<path d="M1515.6 601.6a14.0 14.0 0 1 0 28 0a14.0 14.0 0 1 0 -28 0z"/>
<path d="M1516.8 600.9a14.0 14.0 0 1 0 28 0a14.0 14.0 0 1 0 -28 0z"/>
<path d="M1518 600.3a14.0 14.0 0 1 0 28 0a14.0 14.0 0 1 0 -28 0z"/>
<path d="M1519.2 599.7a14.0 14.0 0 1 0 28 0a14.0 14.0 0 1 0 -28 0z"/>
<path d="M1520.4 599.1a14.0 14.0 0 1 0 28 0a14.0 14.0 0 1 0 -28 0z"/>
<path d="M1521.6 598.4a14.0 14.0 0 1 0 28 0a14.0 14.0 0 1 0 -28 0z"/>
<path d="M1522.8 597.8a14.0 14.0 0 1 0 28 0a14.0 14.0 0 1 0 -28 0z"/>
<path d="M1524 597.2a14.0 14.0 0 1 0 28 0a14.0 14.0 0 1 0 -28 0z"/>
<path d="M1525.2 596.6a14.0 14.0 0 1 0 28 0a14.0 14.0 0 1 0 -28 0z"/>
<path d="M1526.3 596a14.0 14.0 0 1 0 28 0a14.0 14.0 0 1 0 -28 0z"/>
<path d="M1527.5 595.3a14.0 14.0 0 1 0 28 0a14.0 14.0 0 1 0 -28 0z"/>
<path d="M1528.7 594.7a14.0 14.0 0 1 0 28 0a14.0 14.0 0 1 0 -28 0z"/>
<path d="M1529.9 594.1a14.0 14.0 0 1 0 28 0a14.0 14.0 0 1 0 -28 0z"/>
<path d="M1531.1 593.5a14.0 14.0 0 1 0 28 0a14.0 14.0 0 1 0 -28 0z"/>
<path d="M1532.3 592.9a14.0 14.0 0 1 0 28 0a14.0 14.0 0 1 0 -28 0z"/>
<path d="M1533.5 592.2a14.0 14.0 0 1 0 28 0a14.0 14.0 0 1 0 -28 0z"/>
<path d="M1534.7 591.6a14.0 14.0 0 1 0 28 0a14.0 14.0 0 1 0 -28 0z"/>
<path d="M1535.9 591a14.0 14.0 0 1 0 28 0a14.0 14.0 0 1 0 -28 0z"/>
<path d="M1537.1 590.4a14.0 14.0 0 1 0 28 0a14.0 14.0 0 1 0 -28 0z"/>
<path d="M1538.3 589.8a14.0 14.0 0 1 0 28 0a14.0 14.0 0 1 0 -28 0z"/>
<path d="M1539.5 589.1a14.0 14.0 0 1 0 28 0a14.0 14.0 0 1 0 -28 0z"/>
<path d="M1540.7 588.5a14.0 14.0 0 1 0 28 0a14.0 14.0 0 1 0 -28 0z"/>
<path d="M1541.9 587.9a14.0 14.0 0 1 0 28 0a14.0 14.0 0 1 0 -28 0z"/>
<path d="M1543.1 587.3a14.0 14.0 0 1 0 28 0a14.0 14.0 0 1 0 -28 0z"/>
<path d="M1544.3 586.7a14.0 14.0 0 1 0 28 0a14.0 14.0 0 1 0 -28 0z"/>
<path d="M1545.5 586a14.0 14.0 0 1 0 28 0a14.0 14.0 0 1 0 -28 0z"/>
<path d="M1546.7 585.4a14.0 14.0 0 1 0 28 0a14.0 14.0 0 1 0 -28 0z"/>
<path d="M1547.9 584.8a14.0 14.0 0 1 0 28 0a14.0 14.0 0 1 0 -28 0z"/>
<path d="M1549.1 584.2a14.0 14.0 0 1 0 28 0a14.0 14.0 0 1 0 -28 0z"/>
<path d="M1550.3 583.6a14.0 14.0 0 1 0 28 0a14.0 14.0 0 1 0 -28 0z"/>
<path d="M1551.5 583a14.0 14.0 0 1 0 28 0a14.0 14.0 0 1 0 -28 0z"/>
<path d="M1552.7 582.3a14.0 14.0 0 1 0 28 0a14.0 14.0 0 1 0 -28 0z"/>
<path d="M1553.9 581.7a14.0 14.0 0 1 0 28 0a14.0 14.0 0 1 0 -28 0z"/>
<path d="M1555.1 581.1a14.0 14.0 0 1 0 28 0a14.0 14.0 0 1 0 -28 0z"/>
<path d="M1556.3 580.5a14.0 14.0 0 1 0 28 0a14.0 14.0 0 1 0 -28 0z"/>
<path d="M1557.5 580a14.0 14.0 0 1 0 28 0a14.0 14.0 0 1 0 -28 0z"/>
<path d="M1558.7 579.4a14.0 14.0 0 1 0 28 0a14.0 14.0 0 1 0 -28 0z"/>
<path d="M1559.9 578.9a14.0 14.0 0 1 0 28 0a14.0 14.0 0 1 0 -28 0z"/>
<path d="M1561.1 578.3a14.0 14.0 0 1 0 28 0a14.0 14.0 0 1 0 -28 0z"/>
<path d="M1562.3 577.8a14.0 14.0 0 1 0 28 0a14.0 14.0 0 1 0 -28 0z"/>
<path d="M1563.5 577.2a14.0 14.0 0 1 0 28 0a14.0 14.0 0 1 0 -28 0z"/>
<path d="M1564.7 576.7a14.0 14.0 0 1 0 28 0a14.0 14.0 0 1 0 -28 0z"/>
<path d="M1565.9 576.1a14.0 14.0 0 1 0 28 0a14.0 14.0 0 1 0 -28 0z"/>
<path d="M1567.1 575.6a14.0 14.0 0 1 0 28 0a14.0 14.0 0 1 0 -28 0z"/>
<path d="M1568.3 575.1a14.0 14.0 0 1 0 28 0a14.0 14.0 0 1 0 -28 0z"/>
<path d="M1569.5 574.5a14.0 14.0 0 1 0 28 0a14.0 14.0 0 1 0 -28 0z"/>
<path d="M1570.7 574a14.0 14.0 0 1 0 28 0a14.0 14.0 0 1 0 -28 0z"/>
<path d="M1571.9 573.4a14.0 14.0 0 1 0 28 0a14.0 14.0 0 1 0 -28 0z"/>
<path d="M1573 572.9a14.0 14.0 0 1 0 28 0a14.0 14.0 0 1 0 -28 0z"/>
<path d="M1574.2 572.3a14.0 14.0 0 1 0 28 0a14.0 14.0 0 1 0 -28 0z"/>
<path d="M1575.4 571.8a14.0 14.0 0 1 0 28 0a14.0 14.0 0 1 0 -28 0z"/>
<path d="M1576.6 571.2a14.0 14.0 0 1 0 28 0a14.0 14.0 0 1 0 -28 0z"/>
<path d="M1577.8 570.7a14.0 14.0 0 1 0 28 0a14.0 14.0 0 1 0 -28 0z"/>
<path d="M1579 570.2a14.0 14.0 0 1 0 28 0a14.0 14.0 0 1 0 -28 0z"/>
<path d="M1580.2 569.6a14.0 14.0 0 1 0 28 0a14.0 14.0 0 1 0 -28 0z"/>
<path d="M1581.4 569.1a14.0 14.0 0 1 0 28 0a14.0 14.0 0 1 0 -28 0z"/>
<path d="M1582.6 568.5a14.0 14.0 0 1 0 28 0a14.0 14.0 0 1 0 -28 0z"/>
<path d="M1583.8 568a14.0 14.0 0 1 0 28 0a14.0 14.0 0 1 0 -28 0z"/>
<path d="M1585 567.4a14.0 14.0 0 1 0 28 0a14.0 14.0 0 1 0 -28 0z"/>
<path d="M1586.2 566.9a14.0 14.0 0 1 0 28 0a14.0 14.0 0 1 0 -28 0z"/>
<path d="M1587.4 566.4a14.0 14.0 0 1 0 28 0a14.0 14.0 0 1 0 -28 0z"/>
<path d="M1588.6 565.8a14.0 14.0 0 1 0 28 0a14.0 14.0 0 1 0 -28 0z"/>
<path d="M1589.8 565.3a14.0 14.0 0 1 0 28 0a14.0 14.0 0 1 0 -28 0z"/>
<path d="M1591 564.7a14.0 14.0 0 1 0 28 0a14.0 14.0 0 1 0 -28 0z"/>
<path d="M1592.2 564.2a14.0 14.0 0 1 0 28 0a14.0 14.0 0 1 0 -28 0z"/>
<path d="M1593.4 563.7a14.0 14.0 0 1 0 28 0a14.0 14.0 0 1 0 -28 0z"/>
<path d="M1594.6 563.1a14.0 14.0 0 1 0 28 0a14.0 14.0 0 1 0 -28 0z"/>
<path d="M1595.8 562.6a14.0 14.0 0 1 0 28 0a14.0 14.0 0 1 0 -28 0z"/>
<path d="M1597 562.1a14.0 14.0 0 1 0 28 0a14.0 14.0 0 1 0 -28 0z"/>
<path d="M1598.2 561.5a14.0 14.0 0 1 0 28 0a14.0 14.0 0 1 0 -28 0z"/>
<path d="M1599.4 561a14.0 14.0 0 1 0 28 0a14.0 14.0 0 1 0 -28 0z"/>
<path d="M1600.6 560.4a14.0 14.0 0 1 0 28 0a14.0 14.0 0 1 0 -28 0z"/>
<path d="M1601.8 559.9a14.0 14.0 0 1 0 28 0a14.0 14.0 0 1 0 -28 0z"/>
<path d="M1603 559.4a14.0 14.0 0 1 0 28 0a14.0 14.0 0 1 0 -28 0z"/>
<path d="M1604.2 558.8a14.0 14.0 0 1 0 28 0a14.0 14.0 0 1 0 -28 0z"/>
<path d="M1605.4 558.3a14.0 14.0 0 1 0 28 0a14.0 14.0 0 1 0 -28 0z"/>
<path d="M1606.6 557.8a14.0 14.0 0 1 0 28 0a14.0 14.0 0 1 0 -28 0z"/>
<path d="M1607.8 557.2a14.0 14.0 0 1 0 28 0a14.0 14.0 0 1 0 -28 0z"/>
<path d="M1609 556.7a14.0 14.0 0 1 0 28 0a14.0 14.0 0 1 0 -28 0z"/>
<path d="M1610.2 556.2a14.0 14.0 0 1 0 28 0a14.0 14.0 0 1 0 -28 0z"/>
<path d="M1611.4 555.6a14.0 14.0 0 1 0 28 0a14.0 14.0 0 1 0 -28 0z"/>
<path d="M1612.6 555.1a14.0 14.0 0 1 0 28 0a14.0 14.0 0 1 0 -28 0z"/>
<path d="M1613.8 554.6a14.0 14.0 0 1 0 28 0a14.0 14.0 0 1 0 -28 0z"/>
<path d="M1615 554a14.0 14.0 0 1 0 28 0a14.0 14.0 0 1 0 -28 0z"/>
<path d="M1616.2 553.5a14.0 14.0 0 1 0 28 0a14.0 14.0 0 1 0 -28 0z"/>
<path d="M1617.4 553a14.0 14.0 0 1 0 28 0a14.0 14.0 0 1 0 -28 0z"/>
<path d="M1618.6 552.5a14.0 14.0 0 1 0 28 0a14.0 14.0 0 1 0 -28 0z"/>
<path d="M1619.8 551.9a14.0 14.0 0 1 0 28 0a14.0 14.0 0 1 0 -28 0z"/>
<path d="M1621 551.4a14.0 14.0 0 1 0 28 0a14.0 14.0 0 1 0 -28 0z"/>
<path d="M1622.1 550.9a14.0 14.0 0 1 0 28 0a14.0 14.0 0 1 0 -28 0z"/>
<path d="M1623.3 550.3a14.0 14.0 0 1 0 28 0a14.0 14.0 0 1 0 -28 0z"/>
<path d="M1624.5 549.8a14.0 14.0 0 1 0 28 0a14.0 14.0 0 1 0 -28 0z"/>
<path d="M1625.7 549.3a14.0 14.0 0 1 0 28 0a14.0 14.0 0 1 0 -28 0z"/>
<path d="M1626.9 548.8a14.0 14.0 0 1 0 28 0a14.0 14.0 0 1 0 -28 0z"/>
<path d="M1628.1 548.2a14.0 14.0 0 1 0 28 0a14.0 14.0 0 1 0 -28 0z"/>
<path d="M1629.3 547.7a14.0 14.0 0 1 0 28 0a14.0 14.0 0 1 0 -28 0z"/>
<path d="M1630.5 547.2a14.0 14.0 0 1 0 28 0a14.0 14.0 0 1 0 -28 0z"/>
<path d="M1631.7 546.7a14.0 14.0 0 1 0 28 0a14.0 14.0 0 1 0 -28 0z"/>
<path d="M1632.9 546.1a14.0 14.0 0 1 0 28 0a14.0 14.0 0 1 0 -28 0z"/>
<path d="M1634.1 545.6a14.0 14.0 0 1 0 28 0a14.0 14.0 0 1 0 -28 0z"/>
<path d="M1635.3 545.1a14.0 14.0 0 1 0 28 0a14.0 14.0 0 1 0 -28 0z"/>
<path d="M1636.5 544.6a14.0 14.0 0 1 0 28 0a14.0 14.0 0 1 0 -28 0z"/>
<path d="M1637.7 544.1a14.0 14.0 0 1 0 28 0a14.0 14.0 0 1 0 -28 0z"/>
<path d="M1638.9 543.5a14.0 14.0 0 1 0 28 0a14.0 14.0 0 1 0 -28 0z"/>
<path d="M1640.1 543a14.0 14.0 0 1 0 28 0a14.0 14.0 0 1 0 -28 0z"/>
<path d="M1641.3 542.5a14.0 14.0 0 1 0 28 0a14.0 14.0 0 1 0 -28 0z"/>
<path d="M1642.5 542a14.0 14.0 0 1 0 28 0a14.0 14.0 0 1 0 -28 0z"/>
<path d="M1643.7 541.5a14.0 14.0 0 1 0 28 0a14.0 14.0 0 1 0 -28 0z"/>
<path d="M1644.9 540.9a14.0 14.0 0 1 0 28 0a14.0 14.0 0 1 0 -28 0z"/>
<path d="M1646.1 540.5a14.0 14.0 0 1 0 28 0a14.0 14.0 0 1 0 -28 0z"/>
<path d="M1647.3 540a14.0 14.0 0 1 0 28 0a14.0 14.0 0 1 0 -28 0z"/>
<path d="M1648.5 539.5a14.0 14.0 0 1 0 28 0a14.0 14.0 0 1 0 -28 0z"/>
<path d="M1649.7 539a14.0 14.0 0 1 0 28 0a14.0 14.0 0 1 0 -28 0z"/>
<path d="M1650.9 538.6a14.0 14.0 0 1 0 28 0a14.0 14.0 0 1 0 -28 0z"/>
<path d="M1652.1 538.1a14.0 14.0 0 1 0 28 0a14.0 14.0 0 1 0 -28 0z"/>
<path d="M1653.3 537.7a14.0 14.0 0 1 0 28 0a14.0 14.0 0 1 0 -28 0z"/>
<path d="M1654.5 537.2a14.0 14.0 0 1 0 28 0a14.0 14.0 0 1 0 -28 0z"/>
<path d="M1655.7 536.7a14.0 14.0 0 1 0 28 0a14.0 14.0 0 1 0 -28 0z"/>
<path d="M1656.9 536.3a14.0 14.0 0 1 0 28 0a14.0 14.0 0 1 0 -28 0z"/>
<path d="M1658.1 535.8a14.0 14.0 0 1 0 28 0a14.0 14.0 0 1 0 -28 0z"/>
<path d="M1659.3 535.4a14.0 14.0 0 1 0 28 0a14.0 14.0 0 1 0 -28 0z"/>
<path d="M1660.5 534.9a14.0 14.0 0 1 0 28 0a14.0 14.0 0 1 0 -28 0z"/>
<path d="M1661.7 534.5a14.0 14.0 0 1 0 28 0a14.0 14.0 0 1 0 -28 0z"/>
<path d="M1662.9 534a14.0 14.0 0 1 0 28 0a14.0 14.0 0 1 0 -28 0z"/>
<path d="M1664.1 533.5a14.0 14.0 0 1 0 28 0a14.0 14.0 0 1 0 -28 0z"/>
<path d="M1665.3 533.1a14.0 14.0 0 1 0 28 0a14.0 14.0 0 1 0 -28 0z"/>
<path d="M1666.5 532.6a14.0 14.0 0 1 0 28 0a14.0 14.0 0 1 0 -28 0z"/>
<path d="M1667.7 532.2a14.0 14.0 0 1 0 28 0a14.0 14.0 0 1 0 -28 0z"/>
<path d="M1668.8 531.7a14.0 14.0 0 1 0 28 0a14.0 14.0 0 1 0 -28 0z"/>
<path d="M1670 531.3a14.0 14.0 0 1 0 28 0a14.0 14.0 0 1 0 -28 0z"/>
<path d="M1671.2 530.8a14.0 14.0 0 1 0 28 0a14.0 14.0 0 1 0 -28 0z"/>
<path d="M1672.4 530.4a14.0 14.0 0 1 0 28 0a14.0 14.0 0 1 0 -28 0z"/>
<path d="M1673.6 529.9a14.0 14.0 0 1 0 28 0a14.0 14.0 0 1 0 -28 0z"/>
<path d="M1674.8 529.5a14.0 14.0 0 1 0 28 0a14.0 14.0 0 1 0 -28 0z"/>
<path d="M1676 529a14.0 14.0 0 1 0 28 0a14.0 14.0 0 1 0 -28 0z"/>
<path d="M1677.2 528.6a14.0 14.0 0 1 0 28 0a14.0 14.0 0 1 0 -28 0z"/>
<path d="M1678.4 528.1a14.0 14.0 0 1 0 28 0a14.0 14.0 0 1 0 -28 0z"/>
<path d="M1679.6 527.7a14.0 14.0 0 1 0 28 0a14.0 14.0 0 1 0 -28 0z"/>
<path d="M1680.8 527.2a14.0 14.0 0 1 0 28 0a14.0 14.0 0 1 0 -28 0z"/>
<path d="M1682 526.8a14.0 14.0 0 1 0 28 0a14.0 14.0 0 1 0 -28 0z"/>
<path d="M1683.2 526.4a14.0 14.0 0 1 0 28 0a14.0 14.0 0 1 0 -28 0z"/>
<path d="M1684.4 525.9a14.0 14.0 0 1 0 28 0a14.0 14.0 0 1 0 -28 0z"/>
<path d="M1685.6 525.5a14.0 14.0 0 1 0 28 0a14.0 14.0 0 1 0 -28 0z"/>
<path d="M1686.8 525a14.0 14.0 0 1 0 28 0a14.0 14.0 0 1 0 -28 0z"/>
<path d="M1688 524.6a14.0 14.0 0 1 0 28 0a14.0 14.0 0 1 0 -28 0z"/>
<path d="M1689.2 524.1a14.0 14.0 0 1 0 28 0a14.0 14.0 0 1 0 -28 0z"/>
<path d="M1690.4 523.7a14.0 14.0 0 1 0 28 0a14.0 14.0 0 1 0 -28 0z"/>
<path d="M1691.6 523.3a14.0 14.0 0 1 0 28 0a14.0 14.0 0 1 0 -28 0z"/>
<path d="M1692.8 522.8a14.0 14.0 0 1 0 28 0a14.0 14.0 0 1 0 -28 0z"/>
<path d="M1694 522.4a14.0 14.0 0 1 0 28 0a14.0 14.0 0 1 0 -28 0z"/>
<path d="M1695.2 521.9a14.0 14.0 0 1 0 28 0a14.0 14.0 0 1 0 -28 0z"/>
<path d="M1696.4 521.5a14.0 14.0 0 1 0 28 0a14.0 14.0 0 1 0 -28 0z"/>
<path d="M1697.6 521.1a14.0 14.0 0 1 0 28 0a14.0 14.0 0 1 0 -28 0z"/>
<path d="M1698.8 520.6a14.0 14.0 0 1 0 28 0a14.0 14.0 0 1 0 -28 0z"/>
<path d="M1700 520.2a14.0 14.0 0 1 0 28 0a14.0 14.0 0 1 0 -28 0z"/>
<path d="M1701.2 519.8a14.0 14.0 0 1 0 28 0a14.0 14.0 0 1 0 -28 0z"/>
<path d="M1702.4 519.3a14.0 14.0 0 1 0 28 0a14.0 14.0 0 1 0 -28 0z"/>
<path d="M1703.6 518.9a14.0 14.0 0 1 0 28 0a14.0 14.0 0 1 0 -28 0z"/>
<path d="M1704.8 518.5a14.0 14.0 0 1 0 28 0a14.0 14.0 0 1 0 -28 0z"/>
<path d="M1706 518a14.0 14.0 0 1 0 28 0a14.0 14.0 0 1 0 -28 0z"/>
<path d="M1707.2 517.6a14.0 14.0 0 1 0 28 0a14.0 14.0 0 1 0 -28 0z"/>
<path d="M1708.4 517.2a14.0 14.0 0 1 0 28 0a14.0 14.0 0 1 0 -28 0z"/>
<path d="M1709.6 516.7a14.0 14.0 0 1 0 28 0a14.0 14.0 0 1 0 -28 0z"/>
<path d="M1710.8 516.3a14.0 14.0 0 1 0 28 0a14.0 14.0 0 1 0 -28 0z"/>
<path d="M1712 515.9a14.0 14.0 0 1 0 28 0a14.0 14.0 0 1 0 -28 0z"/>
<path d="M1713.2 515.5a14.0 14.0 0 1 0 28 0a14.0 14.0 0 1 0 -28 0z"/>
<path d="M1714.4 515a14.0 14.0 0 1 0 28 0a14.0 14.0 0 1 0 -28 0z"/>
<path d="M1715.6 514.6a14.0 14.0 0 1 0 28 0a14.0 14.0 0 1 0 -28 0z"/>
<path d="M1716.8 514.2a14.0 14.0 0 1 0 28 0a14.0 14.0 0 1 0 -28 0z"/>
<path d="M1717.9 513.8a14.0 14.0 0 1 0 28 0a14.0 14.0 0 1 0 -28 0z"/>
<path d="M1719.1 513.3a14.0 14.0 0 1 0 28 0a14.0 14.0 0 1 0 -28 0z"/>
<path d="M1720.3 512.9a14.0 14.0 0 1 0 28 0a14.0 14.0 0 1 0 -28 0z"/>
<path d="M1721.5 512.5a14.0 14.0 0 1 0 28 0a14.0 14.0 0 1 0 -28 0z"/>
<path d="M1722.7 512.1a14.0 14.0 0 1 0 28 0a14.0 14.0 0 1 0 -28 0z"/>
<path d="M1723.9 511.7a14.0 14.0 0 1 0 28 0a14.0 14.0 0 1 0 -28 0z"/>
<path d="M1725.1 511.2a14.0 14.0 0 1 0 28 0a14.0 14.0 0 1 0 -28 0z"/>
<path d="M1726.3 510.8a14.0 14.0 0 1 0 28 0a14.0 14.0 0 1 0 -28 0z"/>
<path d="M1727.5 510.3a14.0 14.0 0 1 0 28 0a14.0 14.0 0 1 0 -28 0z"/>
<path d="M1728.7 509.9a14.0 14.0 0 1 0 28 0a14.0 14.0 0 1 0 -28 0z"/>
<path d="M1729.9 509.4a14.0 14.0 0 1 0 28 0a14.0 14.0 0 1 0 -28 0z"/>
<path d="M1731.1 508.9a14.0 14.0 0 1 0 28 0a14.0 14.0 0 1 0 -28 0z"/>
<path d="M1732.3 508.4a14.0 14.0 0 1 0 28 0a14.0 14.0 0 1 0 -28 0z"/>
<path d="M1733.5 508a14.0 14.0 0 1 0 28 0a14.0 14.0 0 1 0 -28 0z"/>
<path d="M1734.7 507.5a14.0 14.0 0 1 0 28 0a14.0 14.0 0 1 0 -28 0z"/>
<path d="M1735.9 507a14.0 14.0 0 1 0 28 0a14.0 14.0 0 1 0 -28 0z"/>
<path d="M1737.1 506.5a14.0 14.0 0 1 0 28 0a14.0 14.0 0 1 0 -28 0z"/>
<path d="M1738.3 506.1a14.0 14.0 0 1 0 28 0a14.0 14.0 0 1 0 -28 0z"/>
<path d="M1739.5 505.6a14.0 14.0 0 1 0 28 0a14.0 14.0 0 1 0 -28 0z"/>
<path d="M1740.7 505.1a14.0 14.0 0 1 0 28 0a14.0 14.0 0 1 0 -28 0z"/>
<path d="M1741.9 504.7a14.0 14.0 0 1 0 28 0a14.0 14.0 0 1 0 -28 0z"/>
<path d="M1743.1 504.2a14.0 14.0 0 1 0 28 0a14.0 14.0 0 1 0 -28 0z"/>
<path d="M1744.3 503.7a14.0 14.0 0 1 0 28 0a14.0 14.0 0 1 0 -28 0z"/>
<path d="M1745.5 503.3a14.0 14.0 0 1 0 28 0a14.0 14.0 0 1 0 -28 0z"/>
<path d="M1746.7 502.8a14.0 14.0 0 1 0 28 0a14.0 14.0 0 1 0 -28 0z"/>
<path d="M1747.9 502.3a14.0 14.0 0 1 0 28 0a14.0 14.0 0 1 0 -28 0z"/>
<path d="M1749.1 501.9a14.0 14.0 0 1 0 28 0a14.0 14.0 0 1 0 -28 0z"/>
<path d="M1750.3 501.4a14.0 14.0 0 1 0 28 0a14.0 14.0 0 1 0 -28 0z"/>
<path d="M1751.5 500.9a14.0 14.0 0 1 0 28 0a14.0 14.0 0 1 0 -28 0z"/>
<path d="M1752.7 500.5a14.0 14.0 0 1 0 28 0a14.0 14.0 0 1 0 -28 0z"/>
<path d="M1753.9 500a14.0 14.0 0 1 0 28 0a14.0 14.0 0 1 0 -28 0z"/>
<path d="M1755.1 499.6a14.0 14.0 0 1 0 28 0a14.0 14.0 0 1 0 -28 0z"/>
<path d="M1756.3 499.1a14.0 14.0 0 1 0 28 0a14.0 14.0 0 1 0 -28 0z"/>
<path d="M1757.5 498.6a14.0 14.0 0 1 0 28 0a14.0 14.0 0 1 0 -28 0z"/>
<path d="M1758.7 498.2a14.0 14.0 0 1 0 28 0a14.0 14.0 0 1 0 -28 0z"/>
<path d="M1759.9 497.7a14.0 14.0 0 1 0 28 0a14.0 14.0 0 1 0 -28 0z"/>
<path d="M1761.1 497.3a14.0 14.0 0 1 0 28 0a14.0 14.0 0 1 0 -28 0z"/>
<path d="M1762.3 496.8a14.0 14.0 0 1 0 28 0a14.0 14.0 0 1 0 -28 0z"/>
<path d="M1763.5 496.4a14.0 14.0 0 1 0 28 0a14.0 14.0 0 1 0 -28 0z"/>
<path d="M1764.7 495.9a14.0 14.0 0 1 0 28 0a14.0 14.0 0 1 0 -28 0z"/>
<path d="M1765.8 495.5a14.0 14.0 0 1 0 28 0a14.0 14.0 0 1 0 -28 0z"/>
<path d="M1767 495a14.0 14.0 0 1 0 28 0a14.0 14.0 0 1 0 -28 0z"/>
<path d="M1768.2 494.6a14.0 14.0 0 1 0 28 0a14.0 14.0 0 1 0 -28 0z"/>
<path d="M1769.4 494.1a14.0 14.0 0 1 0 28 0a14.0 14.0 0 1 0 -28 0z"/>
<path d="M1770.6 493.7a14.0 14.0 0 1 0 28 0a14.0 14.0 0 1 0 -28 0z"/>
<path d="M1771.8 493.2a14.0 14.0 0 1 0 28 0a14.0 14.0 0 1 0 -28 0z"/>
<path d="M1773 492.8a14.0 14.0 0 1 0 28 0a14.0 14.0 0 1 0 -28 0z"/>
<path d="M1774.2 492.3a14.0 14.0 0 1 0 28 0a14.0 14.0 0 1 0 -28 0z"/>
<path d="M1775.4 491.9a14.0 14.0 0 1 0 28 0a14.0 14.0 0 1 0 -28 0z"/>
<path d="M1776.6 491.4a14.0 14.0 0 1 0 28 0a14.0 14.0 0 1 0 -28 0z"/>
<path d="M1777.8 491a14.0 14.0 0 1 0 28 0a14.0 14.0 0 1 0 -28 0z"/>
<path d="M1779 490.6a14.0 14.0 0 1 0 28 0a14.0 14.0 0 1 0 -28 0z"/>
<path d="M1780.2 490.1a14.0 14.0 0 1 0 28 0a14.0 14.0 0 1 0 -28 0z"/>
<path d="M1781.4 489.7a14.0 14.0 0 1 0 28 0a14.0 14.0 0 1 0 -28 0z"/>
<path d="M1782.6 489.2a14.0 14.0 0 1 0 28 0a14.0 14.0 0 1 0 -28 0z"/>
<path d="M1783.8 488.8a14.0 14.0 0 1 0 28 0a14.0 14.0 0 1 0 -28 0z"/>
<path d="M1785 488.4a14.0 14.0 0 1 0 28 0a14.0 14.0 0 1 0 -28 0z"/>
<path d="M1786.2 487.9a14.0 14.0 0 1 0 28 0a14.0 14.0 0 1 0 -28 0z"/>
<path d="M1787.4 487.5a14.0 14.0 0 1 0 28 0a14.0 14.0 0 1 0 -28 0z"/>
<path d="M1788.6 487.1a14.0 14.0 0 1 0 28 0a14.0 14.0 0 1 0 -28 0z"/>
<path d="M1789.8 486.6a14.0 14.0 0 1 0 28 0a14.0 14.0 0 1 0 -28 0z"/>
<path d="M1791 486.2a14.0 14.0 0 1 0 28 0a14.0 14.0 0 1 0 -28 0z"/>
<path d="M1792.2 485.8a14.0 14.0 0 1 0 28 0a14.0 14.0 0 1 0 -28 0z"/>
<path d="M1793.4 485.3a14.0 14.0 0 1 0 28 0a14.0 14.0 0 1 0 -28 0z"/>
<path d="M1794.6 484.9a14.0 14.0 0 1 0 28 0a14.0 14.0 0 1 0 -28 0z"/>
<path d="M1795.8 484.5a14.0 14.0 0 1 0 28 0a14.0 14.0 0 1 0 -28 0z"/>
<path d="M1797 484.1a14.0 14.0 0 1 0 28 0a14.0 14.0 0 1 0 -28 0z"/>
<path d="M1798.2 483.6a14.0 14.0 0 1 0 28 0a14.0 14.0 0 1 0 -28 0z"/>
<path d="M1799.4 483.2a14.0 14.0 0 1 0 28 0a14.0 14.0 0 1 0 -28 0z"/>
<path d="M1800.6 482.8a14.0 14.0 0 1 0 28 0a14.0 14.0 0 1 0 -28 0z"/>
<path d="M1801.8 482.4a14.0 14.0 0 1 0 28 0a14.0 14.0 0 1 0 -28 0z"/>
<path d="M1803 481.9a14.0 14.0 0 1 0 28 0a14.0 14.0 0 1 0 -28 0z"/>
<path d="M1804.2 481.5a14.0 14.0 0 1 0 28 0a14.0 14.0 0 1 0 -28 0z"/>
<path d="M1805.4 481.1a14.0 14.0 0 1 0 28 0a14.0 14.0 0 1 0 -28 0z"/>
<path d="M1806.6 480.7a14.0 14.0 0 1 0 28 0a14.0 14.0 0 1 0 -28 0z"/>
<path d="M1807.8 480.3a14.0 14.0 0 1 0 28 0a14.0 14.0 0 1 0 -28 0z"/>
<path d="M1809 479.9a14.0 14.0 0 1 0 28 0a14.0 14.0 0 1 0 -28 0z"/>
<path d="M1810.2 479.5a14.0 14.0 0 1 0 28 0a14.0 14.0 0 1 0 -28 0z"/>
<path d="M1811.4 479.1a14.0 14.0 0 1 0 28 0a14.0 14.0 0 1 0 -28 0z"/>
<path d="M1812.5 478.7a14.0 14.0 0 1 0 28 0a14.0 14.0 0 1 0 -28 0z"/>
<path d="M1813.7 478.3a14.0 14.0 0 1 0 28 0a14.0 14.0 0 1 0 -28 0z"/>
<path d="M1814.9 477.9a14.0 14.0 0 1 0 28 0a14.0 14.0 0 1 0 -28 0z"/>
<path d="M1816.1 477.5a14.0 14.0 0 1 0 28 0a14.0 14.0 0 1 0 -28 0z"/>
<path d="M1817.3 477.1a14.0 14.0 0 1 0 28 0a14.0 14.0 0 1 0 -28 0z"/>
<path d="M1818.5 476.7a14.0 14.0 0 1 0 28 0a14.0 14.0 0 1 0 -28 0z"/>
<path d="M1819.7 476.3a14.0 14.0 0 1 0 28 0a14.0 14.0 0 1 0 -28 0z"/>
<path d="M1820.9 475.9a14.0 14.0 0 1 0 28 0a14.0 14.0 0 1 0 -28 0z"/>
<path d="M1822.1 475.5a14.0 14.0 0 1 0 28 0a14.0 14.0 0 1 0 -28 0z"/>
<path d="M1823.3 475.1a14.0 14.0 0 1 0 28 0a14.0 14.0 0 1 0 -28 0z"/>
<path d="M1824.5 474.8a14.0 14.0 0 1 0 28 0a14.0 14.0 0 1 0 -28 0z"/>
<path d="M1825.7 474.4a14.0 14.0 0 1 0 28 0a14.0 14.0 0 1 0 -28 0z"/>
<path d="M1826.9 474a14.0 14.0 0 1 0 28 0a14.0 14.0 0 1 0 -28 0z"/>
<path d="M1828.1 473.6a14.0 14.0 0 1 0 28 0a14.0 14.0 0 1 0 -28 0z"/>
<path d="M1829.3 473.2a14.0 14.0 0 1 0 28 0a14.0 14.0 0 1 0 -28 0z"/>
<path d="M1830.5 472.8a14.0 14.0 0 1 0 28 0a14.0 14.0 0 1 0 -28 0z"/>
<path d="M1831.7 472.5a14.0 14.0 0 1 0 28 0a14.0 14.0 0 1 0 -28 0z"/>
<path d="M1832.9 472.1a14.0 14.0 0 1 0 28 0a14.0 14.0 0 1 0 -28 0z"/>
<path d="M1834.1 471.7a14.0 14.0 0 1 0 28 0a14.0 14.0 0 1 0 -28 0z"/>
<path d="M1835.3 471.3a14.0 14.0 0 1 0 28 0a14.0 14.0 0 1 0 -28 0z"/>
<path d="M1836.5 470.9a14.0 14.0 0 1 0 28 0a14.0 14.0 0 1 0 -28 0z"/>
<path d="M1837.7 470.6a14.0 14.0 0 1 0 28 0a14.0 14.0 0 1 0 -28 0z"/>
<path d="M1838.9 470.2a14.0 14.0 0 1 0 28 0a14.0 14.0 0 1 0 -28 0z"/>
<path d="M1840.1 469.8a14.0 14.0 0 1 0 28 0a14.0 14.0 0 1 0 -28 0z"/>
<path d="M1841.3 469.4a14.0 14.0 0 1 0 28 0a14.0 14.0 0 1 0 -28 0z"/>
<path d="M1842.5 469.1a14.0 14.0 0 1 0 28 0a14.0 14.0 0 1 0 -28 0z"/>
<path d="M1843.7 468.7a14.0 14.0 0 1 0 28 0a14.0 14.0 0 1 0 -28 0z"/>
<path d="M1844.9 468.3a14.0 14.0 0 1 0 28 0a14.0 14.0 0 1 0 -28 0z"/>
<path d="M1846.1 468a14.0 14.0 0 1 0 28 0a14.0 14.0 0 1 0 -28 0z"/>
<path d="M1847.3 467.6a14.0 14.0 0 1 0 28 0a14.0 14.0 0 1 0 -28 0z"/>
<path d="M1848.5 467.2a14.0 14.0 0 1 0 28 0a14.0 14.0 0 1 0 -28 0z"/>
<path d="M1849.7 466.9a14.0 14.0 0 1 0 28 0a14.0 14.0 0 1 0 -28 0z"/>
<path d="M1850.9 466.5a14.0 14.0 0 1 0 28 0a14.0 14.0 0 1 0 -28 0z"/>
<path d="M1852.1 466.1a14.0 14.0 0 1 0 28 0a14.0 14.0 0 1 0 -28 0z"/>
<path d="M1853.3 465.8a14.0 14.0 0 1 0 28 0a14.0 14.0 0 1 0 -28 0z"/>
<path d="M1854.5 465.4a14.0 14.0 0 1 0 28 0a14.0 14.0 0 1 0 -28 0z"/>
<path d="M1855.7 465.1a14.0 14.0 0 1 0 28 0a14.0 14.0 0 1 0 -28 0z"/>
<path d="M1856.9 464.7a14.0 14.0 0 1 0 28 0a14.0 14.0 0 1 0 -28 0z"/>
<path d="M1858.1 464.3a14.0 14.0 0 1 0 28 0a14.0 14.0 0 1 0 -28 0z"/>
<path d="M1859.3 464a14.0 14.0 0 1 0 28 0a14.0 14.0 0 1 0 -28 0z"/>
<path d="M1860.5 463.6a14.0 14.0 0 1 0 28 0a14.0 14.0 0 1 0 -28 0z"/>
<path d="M1861.6 463.3a14.0 14.0 0 1 0 28 0a14.0 14.0 0 1 0 -28 0z"/>
<path d="M1862.8 462.9a14.0 14.0 0 1 0 28 0a14.0 14.0 0 1 0 -28 0z"/>
<path d="M1864 462.6a14.0 14.0 0 1 0 28 0a14.0 14.0 0 1 0 -28 0z"/>
<path d="M1865.2 462.2a14.0 14.0 0 1 0 28 0a14.0 14.0 0 1 0 -28 0z"/>
<path d="M1866.4 461.9a14.0 14.0 0 1 0 28 0a14.0 14.0 0 1 0 -28 0z"/>
<path d="M1867.6 461.5a14.0 14.0 0 1 0 28 0a14.0 14.0 0 1 0 -28 0z"/>
<path d="M1868.8 461.2a14.0 14.0 0 1 0 28 0a14.0 14.0 0 1 0 -28 0z"/>
<path d="M1870 460.8a14.0 14.0 0 1 0 28 0a14.0 14.0 0 1 0 -28 0z"/>
<path d="M1871.2 460.5a14.0 14.0 0 1 0 28 0a14.0 14.0 0 1 0 -28 0z"/>
<path d="M1872.4 460.2a14.0 14.0 0 1 0 28 0a14.0 14.0 0 1 0 -28 0z"/>
<path d="M1873.6 459.8a14.0 14.0 0 1 0 28 0a14.0 14.0 0 1 0 -28 0z"/>
<path d="M1874.8 459.5a14.0 14.0 0 1 0 28 0a14.0 14.0 0 1 0 -28 0z"/>
<path d="M1876 459.1a14.0 14.0 0 1 0 28 0a14.0 14.0 0 1 0 -28 0z"/>
<path d="M1877.2 458.8a14.0 14.0 0 1 0 28 0a14.0 14.0 0 1 0 -28 0z"/>
<path d="M1878.4 458.5a14.0 14.0 0 1 0 28 0a14.0 14.0 0 1 0 -28 0z"/>
<path d="M1879.6 458.1a14.0 14.0 0 1 0 28 0a14.0 14.0 0 1 0 -28 0z"/>
<path d="M1880.8 457.8a14.0 14.0 0 1 0 28 0a14.0 14.0 0 1 0 -28 0z"/>
<path d="M1882 457.5a14.0 14.0 0 1 0 28 0a14.0 14.0 0 1 0 -28 0z"/>
<path d="M1883.2 457.1a14.0 14.0 0 1 0 28 0a14.0 14.0 0 1 0 -28 0z"/>
<path d="M1884.4 456.8a14.0 14.0 0 1 0 28 0a14.0 14.0 0 1 0 -28 0z"/>
<path d="M1885.6 456.5a14.0 14.0 0 1 0 28 0a14.0 14.0 0 1 0 -28 0z"/>
<path d="M1886.8 456.1a14.0 14.0 0 1 0 28 0a14.0 14.0 0 1 0 -28 0z"/>
<path d="M1888 455.8a14.0 14.0 0 1 0 28 0a14.0 14.0 0 1 0 -28 0z"/>
<path d="M1889.2 455.5a14.0 14.0 0 1 0 28 0a14.0 14.0 0 1 0 -28 0z"/>
<path d="M1890.4 455.2a14.0 14.0 0 1 0 28 0a14.0 14.0 0 1 0 -28 0z"/>
<path d="M1891.6 454.8a14.0 14.0 0 1 0 28 0a14.0 14.0 0 1 0 -28 0z"/>
<path d="M1892.8 454.5a14.0 14.0 0 1 0 28 0a14.0 14.0 0 1 0 -28 0z"/>
<path d="M1894 454.2a14.0 14.0 0 1 0 28 0a14.0 14.0 0 1 0 -28 0z"/>
<path d="M1895.2 453.9a14.0 14.0 0 1 0 28 0a14.0 14.0 0 1 0 -28 0z"/>
<path d="M1896.4 453.5a14.0 14.0 0 1 0 28 0a14.0 14.0 0 1 0 -28 0z"/>
<path d="M1897.6 453.2a14.0 14.0 0 1 0 28 0a14.0 14.0 0 1 0 -28 0z"/>
<path d="M1898.8 452.9a14.0 14.0 0 1 0 28 0a14.0 14.0 0 1 0 -28 0z"/>
<path d="M1900 452.6a14.0 14.0 0 1 0 28 0a14.0 14.0 0 1 0 -28 0z"/>
<path d="M1901.2 452.3a14.0 14.0 0 1 0 28 0a14.0 14.0 0 1 0 -28 0z"/>
<path d="M1902.4 452a14.0 14.0 0 1 0 28 0a14.0 14.0 0 1 0 -28 0z"/>
<path d="M1903.6 451.7a14.0 14.0 0 1 0 28 0a14.0 14.0 0 1 0 -28 0z"/>
<path d="M1904.8 451.4a14.0 14.0 0 1 0 28 0a14.0 14.0 0 1 0 -28 0z"/>
<path d="M1906 451a14.0 14.0 0 1 0 28 0a14.0 14.0 0 1 0 -28 0z"/>
<path d="M1907.2 450.7a14.0 14.0 0 1 0 28 0a14.0 14.0 0 1 0 -28 0z"/>
<path d="M1908.3 450.4a14.0 14.0 0 1 0 28 0a14.0 14.0 0 1 0 -28 0z"/>
<path d="M1910 450a14.0 14.0 0 1 0 28 0a14.0 14.0 0 1 0 -28 0z"/>
</g>
<path d="M978.1 933L978.3 934.7M980.3 960.6L980.9 969M982.4 994.9L983.7 1025.2M984.5 1051.1L986.3 1124.5M986.8 1124.5L988.8 1020.1M989.6 994.2L990.7 972.1M992.5 946.2L992.7 944.1" fill="none" stroke="#f00" stroke-width="4.5"/>
<g fill="#fff" stroke="#f00" stroke-width="4" stroke-linejoin="round">
<path d="M465 486.5L482.1 515.6H447.9zM462.5 505.9h5"/>
<path d="M466.9 487.6L484 516.7H449.8zM464.4 507h5"/>
<path d="M469.3 489.1L486.4 518.2H452.2zM466.8 508.5h5"/>
<path d="M471.7 490.6L488.8 519.7H454.6zM469.2 510h5"/>
<path d="M474.1 492.1L491.2 521.2H457zM471.6 511.5h5"/>
<path d="M476.5 493.6L493.6 522.7H459.4zM474 513h5"/>
<path d="M478.9 495L496 524.1H461.8zM476.4 514.4h5"/>
<path d="M481.3 496.5L498.4 525.6H464.2zM478.8 515.9h5"/>
<path d="M483.7 498L500.8 527.1H466.6zM481.2 517.4h5"/>
<path d="M486 499.4L503.1 528.5H468.9zM483.5 518.8h5"/>
<path d="M488.4 500.8L505.5 529.9H471.3zM485.9 520.2h5"/>
<path d="M490.8 502.3L507.9 531.4H473.7zM488.3 521.7h5"/>
<path d="M493.2 503.7L510.3 532.8H476.1zM490.7 523.1h5"/>
<path d="M495.6 505.1L512.7 534.2H478.5zM493.1 524.5h5"/>
<path d="M498 506.5L515.1 535.6H480.9zM495.5 525.9h5"/>
<path d="M500.4 507.8L517.5 536.9H483.3zM497.9 527.2h5"/>
<path d="M502.8 509.2L519.9 538.3H485.7zM500.3 528.6h5"/>
<path d="M505.2 510.6L522.3 539.7H488.1zM502.7 530h5"/>
<path d="M507.6 512L524.7 541.1H490.5zM505.1 531.4h5"/>
<path d="M510 513.3L527.1 542.4H492.9zM507.5 532.7h5"/>
<path d="M512.4 514.7L529.5 543.8H495.3zM509.9 534.1h5"/>
<path d="M514.8 516L531.9 545.1H497.7zM512.3 535.4h5"/>
<path d="M517.2 517.3L534.3 546.4H500.1zM514.7 536.7h5"/>
<path d="M519.6 518.7L536.7 547.8H502.5zM517.1 538.1h5"/>
<path d="M522 520L539.1 549.1H504.9zM519.5 539.4h5"/>
<path d="M524.4 521.3L541.5 550.4H507.3zM521.9 540.7h5"/>
<path d="M526.8 522.6L543.9 551.7H509.7zM524.3 542h5"/>
<path d="M529.2 523.9L546.3 553H512.1zM526.7 543.3h5"/>
<path d="M531.5 525.2L548.6 554.3H514.4zM529 544.6h5"/>
<path d="M533.9 526.5L551 555.6H516.8zM531.4 545.9h5"/>
<path d="M536.3 527.8L553.4 556.9H519.2zM533.8 547.2h5"/>
<path d="M538.7 529.1L555.8 558.2H521.6zM536.2 548.5h5"/>
<path d="M541.1 530.3L558.2 559.4H524zM538.6 549.7h5"/>
<path d="M543.5 531.6L560.6 560.7H526.4zM541 551h5"/>
<path d="M545.9 532.9L563 562H528.8zM543.4 552.3h5"/>
<path d="M548.3 534.1L565.4 563.2H531.2zM545.8 553.5h5"/>
<path d="M550.7 535.4L567.8 564.5H533.6zM548.2 554.8h5"/>
<path d="M553.1 536.6L570.2 565.7H536zM550.6 556h5"/>
<path d="M555.5 537.8L572.6 566.9H538.4zM553 557.2h5"/>
<path d="M557.9 539.1L575 568.2H540.8zM555.4 558.5h5"/>
<path d="M560.3 540.3L577.4 569.4H543.2zM557.8 559.7h5"/>
<path d="M562.7 541.5L579.8 570.6H545.6zM560.2 560.9h5"/>
<path d="M565.1 542.7L582.2 571.8H548zM562.6 562.1h5"/>
<path d="M567.5 543.9L584.6 573H550.4zM565 563.3h5"/>
<path d="M569.9 545.1L587 574.2H552.8zM567.4 564.5h5"/>
<path d="M572.3 546.3L589.4 575.4H555.2zM569.8 565.7h5"/>
<path d="M574.7 547.5L591.8 576.6H557.6zM572.2 566.9h5"/>
<path d="M577.1 548.7L594.2 577.8H560zM574.6 568.1h5"/>
<path d="M579.5 549.9L596.6 579H562.4zM577 569.3h5"/>
<path d="M581.8 551L598.9 580.1H564.7zM579.3 570.4h5"/>
<path d="M584.2 552.2L601.3 581.3H567.1zM581.7 571.6h5"/>
<path d="M586.6 553.4L603.7 582.5H569.5zM584.1 572.8h5"/>
<path d="M589 554.5L606.1 583.6H571.9zM586.5 573.9h5"/>
<path d="M591.4 555.7L608.5 584.8H574.3zM588.9 575.1h5"/>
<path d="M593.8 556.9L610.9 586H576.7zM591.3 576.3h5"/>
<path d="M596.2 558.1L613.3 587.2H579.1zM593.7 577.5h5"/>
<path d="M598.6 559.2L615.7 588.3H581.5zM596.1 578.6h5"/>
<path d="M601 560.4L618.1 589.5H583.9zM598.5 579.8h5"/>
<path d="M603.4 561.5L620.5 590.6H586.3zM600.9 580.9h5"/>
<path d="M605.8 562.7L622.9 591.8H588.7zM603.3 582.1h5"/>
<path d="M608.2 563.8L625.3 592.9H591.1zM605.7 583.2h5"/>
<path d="M610.6 565L627.7 594.1H593.5zM608.1 584.4h5"/>
<path d="M613 566.1L630.1 595.2H595.9zM610.5 585.5h5"/>
<path d="M615.4 567.3L632.5 596.4H598.3zM612.9 586.7h5"/>
<path d="M617.8 568.4L634.9 597.5H600.7zM615.3 587.8h5"/>
<path d="M620.2 569.5L637.3 598.6H603.1zM617.7 588.9h5"/>
<path d="M622.6 570.6L639.7 599.7H605.5zM620.1 590h5"/>
<path d="M625 571.8L642.1 600.9H607.9zM622.5 591.2h5"/>
<path d="M627.4 572.9L644.5 602H610.2zM624.9 592.3h5"/>
<path d="M629.7 574L646.8 603.1H612.6zM627.2 593.4h5"/>
<path d="M632.1 575.1L649.2 604.2H615zM629.6 594.5h5"/>
<path d="M634.5 576.2L651.6 605.3H617.4zM632 595.6h5"/>
<path d="M636.9 577.3L654 606.4H619.8zM634.4 596.7h5"/>
<path d="M639.3 578.3L656.4 607.4H622.2zM636.8 597.7h5"/>
<path d="M641.7 579.4L658.8 608.5H624.6zM639.2 598.8h5"/>
<path d="M644.1 580.4L661.2 609.5H627zM641.6 599.8h5"/>
<path d="M646.5 581.5L663.6 610.6H629.4zM644 600.9h5"/>
<path d="M648.9 582.5L666 611.6H631.8zM646.4 601.9h5"/>
<path d="M651.3 583.6L668.4 612.7H634.2zM648.8 603h5"/>
<path d="M653.7 584.6L670.8 613.7H636.6zM651.2 604h5"/>
<path d="M656.1 585.6L673.2 614.7H639zM653.6 605h5"/>
<path d="M658.5 586.6L675.6 615.7H641.4zM656 606h5"/>
<path d="M660.9 587.7L678 616.8H643.8zM658.4 607.1h5"/>
<path d="M663.3 588.7L680.4 617.8H646.2zM660.8 608.1h5"/>
<path d="M665.7 589.7L682.8 618.8H648.6zM663.2 609.1h5"/>
<path d="M668.1 590.7L685.2 619.8H651zM665.6 610.1h5"/>
<path d="M670.5 591.7L687.6 620.8H653.4zM668 611.1h5"/>
<path d="M672.9 592.8L690 621.9H655.8zM670.4 612.2h5"/>
<path d="M675.2 593.8L692.4 622.9H658.1zM672.8 613.2h5"/>
<path d="M677.6 594.8L694.7 623.9H660.5zM675.1 614.2h5"/>
<path d="M680 595.8L697.1 624.9H662.9zM677.5 615.2h5"/>
<path d="M682.4 596.8L699.5 625.9H665.3zM679.9 616.2h5"/>
<path d="M684.8 597.8L701.9 626.9H667.7zM682.3 617.2h5"/>
<path d="M687.2 598.8L704.3 627.9H670.1zM684.7 618.2h5"/>
<path d="M689.6 599.8L706.7 628.9H672.5zM687.1 619.2h5"/>
<path d="M692 600.8L709.1 629.9H674.9zM689.5 620.2h5"/>
<path d="M694.4 601.8L711.5 630.9H677.3zM691.9 621.2h5"/>
<path d="M696.8 602.8L713.9 631.9H679.7zM694.3 622.2h5"/>
<path d="M699.2 603.8L716.3 632.9H682.1zM696.7 623.2h5"/>
<path d="M701.6 604.8L718.7 633.9H684.5zM699.1 624.2h5"/>
<path d="M704 605.8L721.1 634.9H686.9zM701.5 625.2h5"/>
<path d="M706.4 606.8L723.5 635.9H689.3zM703.9 626.2h5"/>
<path d="M708.8 607.8L725.9 636.9H691.7zM706.3 627.2h5"/>
<path d="M711.2 608.7L728.3 637.8H694.1zM708.7 628.1h5"/>
<path d="M713.6 609.7L730.7 638.8H696.5zM711.1 629.1h5"/>
<path d="M716 610.7L733.1 639.8H698.9zM713.5 630.1h5"/>
<path d="M718.4 611.7L735.5 640.8H701.3zM715.9 631.1h5"/>
<path d="M720.8 612.8L737.9 641.9H703.7zM718.3 632.2h5"/>
<path d="M723.2 614L740.3 643.1H706.1zM720.7 633.4h5"/>
<path d="M725.5 615.2L742.6 644.3H708.4zM723 634.6h5"/>
<path d="M727.9 616.3L745 645.4H710.8zM725.4 635.7h5"/>
<path d="M730.3 617.5L747.4 646.6H713.2zM727.8 636.9h5"/>
<path d="M732.7 618.6L749.8 647.7H715.6zM730.2 638h5"/>
<path d="M735.1 619.8L752.2 648.9H718zM732.6 639.2h5"/>
<path d="M737.5 621L754.6 650.1H720.4zM735 640.4h5"/>
<path d="M739.9 622.1L757 651.2H722.8zM737.4 641.5h5"/>
<path d="M742.3 623.3L759.4 652.4H725.2zM739.8 642.7h5"/>
<path d="M744.7 624.5L761.8 653.6H727.6zM742.2 643.9h5"/>
<path d="M747.1 625.7L764.2 654.8H730zM744.6 645.1h5"/>
<path d="M749.5 626.8L766.6 655.9H732.4zM747 646.2h5"/>
<path d="M751.9 628L769 657.1H734.8zM749.4 647.4h5"/>
<path d="M754.3 629.2L771.4 658.3H737.2zM751.8 648.6h5"/>
<path d="M756.7 630.4L773.8 659.5H739.6zM754.2 649.8h5"/>
<path d="M759.1 631.6L776.2 660.7H742zM756.6 651h5"/>
<path d="M761.5 632.7L778.6 661.8H744.4zM759 652.1h5"/>
<path d="M763.9 633.8L781 662.9H746.8zM761.4 653.2h5"/>
<path d="M766.3 634.9L783.4 664H749.2zM763.8 654.3h5"/>
<path d="M768.7 636L785.8 665.1H751.6zM766.2 655.4h5"/>
<path d="M771 637.1L788.1 666.2H753.9zM768.5 656.5h5"/>
<path d="M773.4 638.2L790.5 667.3H756.3zM770.9 657.6h5"/>
<path d="M775.8 639.4L792.9 668.5H758.7zM773.3 658.8h5"/>
<path d="M778.2 640.5L795.3 669.6H761.1zM775.7 659.9h5"/>
<path d="M780.6 641.7L797.7 670.8H763.5zM778.1 661.1h5"/>
<path d="M783 642.8L800.1 671.9H765.9zM780.5 662.2h5"/>
<path d="M785.4 644L802.5 673.1H768.3zM782.9 663.4h5"/>
<path d="M787.8 645.2L804.9 674.3H770.7zM785.3 664.6h5"/>
<path d="M790.2 646.4L807.3 675.5H773.1zM787.7 665.8h5"/>
<path d="M792.6 647.6L809.7 676.7H775.5zM790.1 667h5"/>
<path d="M795 648.8L812.1 677.9H777.9zM792.5 668.2h5"/>
<path d="M797.4 650.1L814.5 679.2H780.3zM794.9 669.5h5"/>
<path d="M799.8 651.3L816.9 680.4H782.7zM797.3 670.7h5"/>
<path d="M802.2 652.6L819.3 681.7H785.1zM799.7 672h5"/>
<path d="M804.6 653.9L821.7 683H787.5zM802.1 673.3h5"/>
<path d="M807 655.2L824.1 684.3H789.9zM804.5 674.6h5"/>
<path d="M809.4 656.5L826.5 685.6H792.3zM806.9 675.9h5"/>
<path d="M811.8 657.8L828.9 686.9H794.7zM809.3 677.2h5"/>
<path d="M814.2 659.1L831.3 688.2H797.1zM811.7 678.5h5"/>
<path d="M816.6 660.5L833.7 689.6H799.5zM814.1 679.9h5"/>
<path d="M819 661.9L836.1 691H801.9zM816.5 681.3h5"/>
<path d="M821.3 663.3L838.4 692.4H804.2zM818.8 682.7h5"/>
<path d="M823.7 664.7L840.8 693.8H806.6zM821.2 684.1h5"/>
<path d="M826.1 666.1L843.2 695.2H809zM823.6 685.5h5"/>
<path d="M828.5 667.6L845.6 696.7H811.4zM826 687h5"/>
<path d="M830.9 669L848 698.1H813.8zM828.4 688.4h5"/>
<path d="M833.3 670.5L850.4 699.6H816.2zM830.8 689.9h5"/>
<path d="M835.7 672L852.8 701.1H818.6zM833.2 691.4h5"/>
<path d="M838.1 673.6L855.2 702.7H821zM835.6 693h5"/>
<path d="M840.5 675.1L857.6 704.2H823.4zM838 694.5h5"/>
<path d="M842.9 676.7L860 705.8H825.8zM840.4 696.1h5"/>
<path d="M845.3 678.3L862.4 707.4H828.2zM842.8 697.7h5"/>
<path d="M847.7 679.9L864.8 709H830.6zM845.2 699.3h5"/>
<path d="M850.1 681.5L867.2 710.6H833zM847.6 700.9h5"/>
<path d="M852.5 683.2L869.6 712.3H835.4zM850 702.6h5"/>
<path d="M854.9 684.9L872 714H837.8zM852.4 704.3h5"/>
<path d="M857.3 686.6L874.4 715.7H840.2zM854.8 706h5"/>
<path d="M859.7 688.3L876.8 717.4H842.6zM857.2 707.7h5"/>
<path d="M862.1 690.1L879.2 719.2H845zM859.6 709.5h5"/>
<path d="M864.5 691.9L881.6 721H847.4zM862 711.3h5"/>
<path d="M866.9 693.7L884 722.8H849.8zM864.4 713.1h5"/>
<path d="M869.2 695.5L886.3 724.6H852.1zM866.7 714.9h5"/>
<path d="M871.6 697.4L888.7 726.5H854.5zM869.1 716.8h5"/>
<path d="M874 699.3L891.1 728.4H856.9zM871.5 718.7h5"/>
<path d="M876.4 701.2L893.5 730.3H859.3zM873.9 720.6h5"/>
<path d="M878.8 703.1L895.9 732.2H861.7zM876.3 722.5h5"/>
<path d="M881.2 705.1L898.3 734.2H864.1zM878.7 724.5h5"/>
<path d="M883.6 707.1L900.7 736.2H866.5zM881.1 726.5h5"/>
<path d="M886 709.1L903.1 738.2H868.9zM883.5 728.5h5"/>
<path d="M888.4 711.2L905.5 740.3H871.3zM885.9 730.6h5"/>
<path d="M890.8 713.3L907.9 742.4H873.7zM888.3 732.7h5"/>
<path d="M893.2 715.4L910.3 744.5H876.1zM890.7 734.8h5"/>
<path d="M895.6 717.5L912.7 746.6H878.5zM893.1 736.9h5"/>
<path d="M898 719.7L915.1 748.8H880.9zM895.5 739.1h5"/>
<path d="M900.4 721.9L917.5 751H883.3zM897.9 741.3h5"/>
<path d="M902.8 724.2L919.9 753.3H885.7zM900.3 743.6h5"/>
<path d="M905.2 726.5L922.3 755.6H888.1zM902.7 745.9h5"/>
<path d="M907.6 728.8L924.7 757.9H890.5zM905.1 748.2h5"/>
<path d="M910 731.1L927.1 760.2H892.9zM907.5 750.5h5"/>
<path d="M912.4 733.5L929.5 762.6H895.3zM909.9 752.9h5"/>
<path d="M914.8 735.9L931.9 765H897.6zM912.2 755.3h5"/>
<path d="M917.1 738.3L934.2 767.4H900zM914.6 757.7h5"/>
<path d="M919.5 740.8L936.6 769.9H902.4zM917 760.2h5"/>
<path d="M921.9 743.3L939 772.4H904.8zM919.4 762.7h5"/>
<path d="M924.3 745.7L941.4 774.8H907.2zM921.8 765.1h5"/>
<path d="M926.7 748.3L943.8 777.4H909.6zM924.2 767.7h5"/>
<path d="M929.1 751.3L946.2 780.4H912zM926.6 770.7h5"/>
<path d="M931.5 755L948.6 784.1H914.4zM929 774.4h5"/>
<path d="M933.9 759.3L951 788.4H916.8zM931.4 778.7h5"/>
<path d="M936.3 763.8L953.4 792.9H919.2zM933.8 783.2h5"/>
<path d="M938.7 768.2L955.8 797.3H921.6zM936.2 787.6h5"/>
<path d="M941.1 772.5L958.2 801.6H924zM938.6 791.9h5"/>
<path d="M943.5 776.7L960.6 805.8H926.4zM941 796.1h5"/>
<path d="M945.9 780.9L963 810H928.8zM943.4 800.3h5"/>
<path d="M948.3 785.3L965.4 814.4H931.2zM945.8 804.7h5"/>
<path d="M950.7 790L967.8 819.1H933.6zM948.2 809.4h5"/>
<path d="M953.1 795.1L970.2 824.2H936zM950.6 814.5h5"/>
<path d="M955.5 800.5L972.6 829.6H938.4zM953 819.9h5"/>
<path d="M957.9 806.3L975 835.4H940.8zM955.4 825.7h5"/>
<path d="M960.3 812.2L977.4 841.3H943.2zM957.8 831.6h5"/>
<path d="M962.6 818.5L979.8 847.6H945.5zM960.1 837.9h5"/>
<path d="M965 825.7L982.1 854.8H947.9zM962.5 845.1h5"/>
<path d="M967.4 834.1L984.5 863.2H950.3zM964.9 853.5h5"/>
<path d="M969.8 844.7L986.9 873.8H952.7zM967.3 864.1h5"/>
<path d="M972.2 861.5L989.3 890.6H955.1zM969.7 880.9h5"/>
<path d="M974.6 881.3L991.7 910.4H957.5zM972.1 900.7h5"/>
<path d="M977 900.7L994.1 929.8H959.9zM974.5 920.1h5"/>
<path d="M979.4 928.3L996.5 957.4H962.3zM976.9 947.7h5"/>
<path d="M981.8 962.5L998.9 991.6H964.7zM979.3 981.9h5"/>
<path d="M984.2 1018.7L1001.3 1047.8H967.1zM981.7 1038.1h5"/>
<path d="M986.6 1118.1L1003.7 1147.2H969.5zM984.1 1137.5h5"/>
<path d="M989 987.7L1006.1 1016.8H971.9zM986.5 1007.1h5"/>
<path d="M991.4 939.7L1008.5 968.8H974.3zM988.9 959.1h5"/>
<path d="M993.8 911.7L1010.9 940.8H976.7zM991.3 931.1h5"/>
<path d="M996.2 891.3L1013.3 920.4H979.1zM993.7 910.7h5"/>
<path d="M998.6 873.8L1015.7 902.9H981.5zM996.1 893.2h5"/>
<path d="M1001 859.6L1018.1 888.7H983.9zM998.5 879h5"/>
<path d="M1003.4 847.1L1020.5 876.2H986.3zM1000.9 866.5h5"/>
<path d="M1005.8 836.2L1022.9 865.3H988.7zM1003.3 855.6h5"/>
<path d="M1008.2 826.4L1025.3 855.5H991.1zM1005.7 845.8h5"/>
<path d="M1010.6 817.6L1027.7 846.7H993.5zM1008.1 837h5"/>
<path d="M1012.9 809.9L1030 839H995.8zM1010.4 829.3h5"/>
<path d="M1015.3 803.4L1032.4 832.5H998.2zM1012.8 822.8h5"/>
<path d="M1017.7 797.9L1034.8 827H1000.6zM1015.2 817.3h5"/>
<path d="M1020.1 792.9L1037.2 822H1003zM1017.6 812.3h5"/>
<path d="M1022.5 787.9L1039.6 817H1005.4zM1020 807.3h5"/>
<path d="M1024.9 783L1042 812.1H1007.8zM1022.4 802.4h5"/>
<path d="M1027.3 778.2L1044.4 807.3H1010.2zM1024.8 797.6h5"/>
<path d="M1029.7 773.5L1046.8 802.6H1012.6zM1027.2 792.9h5"/>
<path d="M1032.1 768.6L1049.2 797.7H1015zM1029.6 788h5"/>
<path d="M1034.5 763.7L1051.6 792.8H1017.4zM1032 783.1h5"/>
<path d="M1036.9 759L1054 788.1H1019.8zM1034.4 778.4h5"/>
<path d="M1039.3 754.6L1056.4 783.7H1022.2zM1036.8 774h5"/>
<path d="M1041.7 750.9L1058.8 780H1024.6zM1039.2 770.3h5"/>
<path d="M1044.1 748L1061.2 777.1H1027zM1041.6 767.4h5"/>
<path d="M1046.5 745.7L1063.6 774.8H1029.4zM1044 765.1h5"/>
<path d="M1048.9 743.9L1066 773H1031.8zM1046.4 763.3h5"/>
<path d="M1051.3 742L1068.4 771.1H1034.2zM1048.8 761.4h5"/>
<path d="M1053.7 740L1070.8 769.1H1036.6zM1051.2 759.4h5"/>
<path d="M1056.1 738.1L1073.2 767.2H1039zM1053.6 757.5h5"/>
<path d="M1058.5 736.2L1075.5 765.3H1041.4zM1056 755.6h5"/>
<path d="M1060.8 734.3L1077.9 763.4H1043.7zM1058.3 753.7h5"/>
<path d="M1063.2 732.4L1080.3 761.5H1046.1zM1060.7 751.8h5"/>
<path d="M1065.6 730.5L1082.7 759.6H1048.5zM1063.1 749.9h5"/>
<path d="M1068 728.7L1085.1 757.8H1050.9zM1065.5 748.1h5"/>
<path d="M1070.4 726.9L1087.5 756H1053.3zM1067.9 746.3h5"/>
<path d="M1072.8 725.2L1089.9 754.3H1055.7zM1070.3 744.6h5"/>
<path d="M1075.2 723.4L1092.3 752.5H1058.1zM1072.7 742.8h5"/>
<path d="M1077.6 721.7L1094.7 750.8H1060.5zM1075.1 741.1h5"/>
<path d="M1080 720L1097.1 749.1H1062.9zM1077.5 739.4h5"/>
<path d="M1082.4 718.4L1099.5 747.5H1065.3zM1079.9 737.8h5"/>
<path d="M1084.8 716.7L1101.9 745.8H1067.7zM1082.3 736.1h5"/>
<path d="M1087.2 715.1L1104.3 744.2H1070.1zM1084.7 734.5h5"/>
<path d="M1089.6 713.5L1106.7 742.6H1072.5zM1087.1 732.9h5"/>
<path d="M1092 712L1109.1 741.1H1074.9zM1089.5 731.4h5"/>
<path d="M1094.4 710.5L1111.5 739.6H1077.3zM1091.9 729.9h5"/>
<path d="M1096.8 709L1113.9 738.1H1079.7zM1094.3 728.4h5"/>
<path d="M1099.2 707.5L1116.3 736.6H1082.1zM1096.7 726.9h5"/>
<path d="M1101.6 706.1L1118.7 735.2H1084.5zM1099.1 725.5h5"/>
<path d="M1104 704.6L1121.1 733.7H1086.9zM1101.5 724h5"/>
<path d="M1106.3 703.2L1123.4 732.3H1089.2zM1103.8 722.6h5"/>
<path d="M1108.7 701.8L1125.8 730.9H1091.6zM1106.2 721.2h5"/>
<path d="M1111.1 700.5L1128.2 729.6H1094zM1108.6 719.9h5"/>
<path d="M1113.5 699.1L1130.6 728.2H1096.4zM1111 718.5h5"/>
<path d="M1115.9 697.8L1133 726.9H1098.8zM1113.4 717.2h5"/>
<path d="M1118.3 696.5L1135.4 725.6H1101.2zM1115.8 715.9h5"/>
<path d="M1120.7 695.2L1137.8 724.3H1103.6zM1118.2 714.6h5"/>
<path d="M1123.1 693.9L1140.2 723H1106zM1120.6 713.3h5"/>
<path d="M1125.5 692.7L1142.6 721.8H1108.4zM1123 712.1h5"/>
<path d="M1127.9 691.5L1145 720.6H1110.8zM1125.4 710.9h5"/>
<path d="M1130.3 690.3L1147.4 719.4H1113.2zM1127.8 709.7h5"/>
<path d="M1132.7 689.1L1149.8 718.2H1115.6zM1130.2 708.5h5"/>
<path d="M1135.1 688L1152.2 717.1H1118zM1132.6 707.4h5"/>
<path d="M1137.5 686.8L1154.6 715.9H1120.4zM1135 706.2h5"/>
<path d="M1139.9 685.7L1157 714.8H1122.8zM1137.4 705.1h5"/>
<path d="M1142.3 684.6L1159.4 713.7H1125.2zM1139.8 704h5"/>
<path d="M1144.7 683.5L1161.8 712.6H1127.6zM1142.2 702.9h5"/>
<path d="M1147.1 682.4L1164.2 711.5H1130zM1144.6 701.8h5"/>
<path d="M1149.5 681.3L1166.6 710.4H1132.4zM1147 700.7h5"/>
<path d="M1151.9 680.2L1169 709.3H1134.8zM1149.4 699.6h5"/>
<path d="M1154.2 679.2L1171.3 708.3H1137.2zM1151.8 698.6h5"/>
<path d="M1156.6 678.2L1173.7 707.3H1139.5zM1154.1 697.6h5"/>
<path d="M1159 677.1L1176.1 706.2H1141.9zM1156.5 696.5h5"/>
<path d="M1161.4 676.1L1178.5 705.2H1144.3zM1158.9 695.5h5"/>
<path d="M1163.8 675.1L1180.9 704.2H1146.7zM1161.3 694.5h5"/>
<path d="M1166.2 674.1L1183.3 703.2H1149.1zM1163.7 693.5h5"/>
<path d="M1168.6 673.1L1185.7 702.2H1151.5zM1166.1 692.5h5"/>
<path d="M1171 672.1L1188.1 701.2H1153.9zM1168.5 691.5h5"/>
<path d="M1173.4 671.1L1190.5 700.2H1156.3zM1170.9 690.5h5"/>
<path d="M1175.8 670.1L1192.9 699.2H1158.7zM1173.3 689.5h5"/>
<path d="M1178.2 669.1L1195.3 698.2H1161.1zM1175.7 688.5h5"/>
<path d="M1180.6 668.1L1197.7 697.2H1163.5zM1178.1 687.5h5"/>
<path d="M1183 667.1L1200.1 696.2H1165.9zM1180.5 686.5h5"/>
<path d="M1185.4 666.2L1202.5 695.3H1168.3zM1182.9 685.6h5"/>
<path d="M1187.8 665.2L1204.9 694.3H1170.7zM1185.3 684.6h5"/>
<path d="M1190.2 664.3L1207.3 693.4H1173.1zM1187.7 683.7h5"/>
<path d="M1192.6 663.3L1209.7 692.4H1175.5zM1190.1 682.7h5"/>
<path d="M1195 662.4L1212.1 691.5H1177.9zM1192.5 681.8h5"/>
<path d="M1197.4 661.4L1214.5 690.5H1180.3zM1194.9 680.8h5"/>
<path d="M1199.8 660.5L1216.9 689.6H1182.7zM1197.3 679.9h5"/>
<path d="M1202.2 659.6L1219.2 688.7H1185.1zM1199.7 679h5"/>
<path d="M1204.5 658.7L1221.6 687.8H1187.4zM1202 678.1h5"/>
<path d="M1206.9 657.8L1224 686.9H1189.8zM1204.4 677.2h5"/>
<path d="M1209.3 656.9L1226.4 686H1192.2zM1206.8 676.3h5"/>
<path d="M1211.7 656L1228.8 685.1H1194.6zM1209.2 675.4h5"/>
<path d="M1214.1 655.1L1231.2 684.2H1197zM1211.6 674.5h5"/>
<path d="M1216.5 654.2L1233.6 683.3H1199.4zM1214 673.6h5"/>
<path d="M1218.9 653.3L1236 682.4H1201.8zM1216.4 672.7h5"/>
<path d="M1221.3 652.5L1238.4 681.6H1204.2zM1218.8 671.9h5"/>
<path d="M1223.7 651.6L1240.8 680.7H1206.6zM1221.2 671h5"/>
<path d="M1226.1 650.7L1243.2 679.8H1209zM1223.6 670.1h5"/>
<path d="M1228.5 649.9L1245.6 679H1211.4zM1226 669.3h5"/>
<path d="M1230.9 649L1248 678.1H1213.8zM1228.4 668.4h5"/>
<path d="M1233.3 648.2L1250.4 677.3H1216.2zM1230.8 667.6h5"/>
<path d="M1235.7 647.3L1252.8 676.4H1218.6zM1233.2 666.7h5"/>
<path d="M1238.1 646.5L1255.2 675.6H1221zM1235.6 665.9h5"/>
<path d="M1240.5 645.6L1257.6 674.7H1223.4zM1238 665h5"/>
<path d="M1242.9 644.8L1260 673.9H1225.8zM1240.4 664.2h5"/>
<path d="M1245.3 643.9L1262.4 673H1228.2zM1242.8 663.3h5"/>
<path d="M1247.7 643.1L1264.8 672.2H1230.6zM1245.2 662.5h5"/>
<path d="M1250 642.3L1267.1 671.4H1233zM1247.5 661.7h5"/>
<path d="M1252.4 641.5L1269.5 670.6H1235.3zM1249.9 660.9h5"/>
<path d="M1254.8 640.6L1271.9 669.7H1237.7zM1252.3 660h5"/>
<path d="M1257.2 639.8L1274.3 668.9H1240.1zM1254.7 659.2h5"/>
<path d="M1259.6 639L1276.7 668.1H1242.5zM1257.1 658.4h5"/>
<path d="M1262 638.2L1279.1 667.3H1244.9zM1259.5 657.6h5"/>
<path d="M1264.4 637.4L1281.5 666.5H1247.3zM1261.9 656.8h5"/>
<path d="M1266.8 636.6L1283.9 665.7H1249.7zM1264.3 656h5"/>
<path d="M1269.2 635.7L1286.3 664.8H1252.1zM1266.7 655.1h5"/>
<path d="M1271.6 634.9L1288.7 664H1254.5zM1269.1 654.3h5"/>
<path d="M1274 634.1L1291.1 663.2H1256.9zM1271.5 653.5h5"/>
<path d="M1276.4 633.3L1293.5 662.4H1259.3zM1273.9 652.7h5"/>
<path d="M1278.8 632.5L1295.9 661.6H1261.7zM1276.3 651.9h5"/>
<path d="M1281.2 631.7L1298.3 660.8H1264.1zM1278.7 651.1h5"/>
<path d="M1283.6 630.9L1300.7 660H1266.5zM1281.1 650.3h5"/>
<path d="M1286 630.2L1303.1 659.3H1268.9zM1283.5 649.6h5"/>
<path d="M1288.4 629.4L1305.5 658.5H1271.3zM1285.9 648.8h5"/>
<path d="M1290.8 628.6L1307.9 657.7H1273.7zM1288.3 648h5"/>
<path d="M1293.2 627.8L1310.3 656.9H1276.1zM1290.7 647.2h5"/>
<path d="M1295.6 627L1312.7 656.1H1278.5zM1293.1 646.4h5"/>
<path d="M1298 626.2L1315 655.3H1280.9zM1295.5 645.6h5"/>
<path d="M1300.3 625.4L1317.4 654.5H1283.2zM1297.8 644.8h5"/>
<path d="M1302.7 624.6L1319.8 653.7H1285.6zM1300.2 644h5"/>
<path d="M1305.1 623.9L1322.2 653H1288zM1302.6 643.3h5"/>
<path d="M1307.5 623.1L1324.6 652.2H1290.4zM1305 642.5h5"/>
<path d="M1309.9 622.3L1327 651.4H1292.8zM1307.4 641.7h5"/>
<path d="M1312.3 621.5L1329.4 650.6H1295.2zM1309.8 640.9h5"/>
<path d="M1314.7 620.7L1331.8 649.8H1297.6zM1312.2 640.1h5"/>
<path d="M1317.1 620L1334.2 649.1H1300zM1314.6 639.4h5"/>
<path d="M1319.5 619.2L1336.6 648.3H1302.4zM1317 638.6h5"/>
<path d="M1321.9 618.4L1339 647.5H1304.8zM1319.4 637.8h5"/>
<path d="M1324.3 617.7L1341.4 646.8H1307.2zM1321.8 637.1h5"/>
<path d="M1326.7 616.9L1343.8 646H1309.6zM1324.2 636.3h5"/>
<path d="M1329.1 616.2L1346.2 645.3H1312zM1326.6 635.6h5"/>
<path d="M1331.5 615.4L1348.6 644.5H1314.4zM1329 634.8h5"/>
<path d="M1333.9 614.6L1351 643.7H1316.8zM1331.4 634h5"/>
<path d="M1336.3 613.9L1353.4 643H1319.2zM1333.8 633.3h5"/>
<path d="M1338.7 613.1L1355.8 642.2H1321.6zM1336.2 632.5h5"/>
<path d="M1341.1 612.4L1358.2 641.5H1324zM1338.6 631.8h5"/>
<path d="M1343.5 611.6L1360.6 640.7H1326.4zM1341 631h5"/>
<path d="M1345.8 610.8L1362.9 639.9H1328.8zM1343.3 630.2h5"/>
<path d="M1348.2 610.1L1365.3 639.2H1331.1zM1345.7 629.5h5"/>
<path d="M1350.6 609.3L1367.7 638.4H1333.5zM1348.1 628.7h5"/>
<path d="M1353 608.5L1370.1 637.6H1335.9zM1350.5 627.9h5"/>
<path d="M1355.4 607.7L1372.5 636.8H1338.3zM1352.9 627.1h5"/>
<path d="M1357.8 607L1374.9 636.1H1340.7zM1355.3 626.4h5"/>
<path d="M1360.2 606.2L1377.3 635.3H1343.1zM1357.7 625.6h5"/>
<path d="M1362.6 605.4L1379.7 634.5H1345.5zM1360.1 624.8h5"/>
<path d="M1365 604.6L1382.1 633.7H1347.9zM1362.5 624h5"/>
<path d="M1367.4 603.8L1384.5 632.9H1350.3zM1364.9 623.2h5"/>
<path d="M1369.8 603.1L1386.9 632.2H1352.7zM1367.3 622.5h5"/>
<path d="M1372.2 602.3L1389.3 631.4H1355.1zM1369.7 621.7h5"/>
<path d="M1374.6 601.5L1391.7 630.6H1357.5zM1372.1 620.9h5"/>
<path d="M1377 600.7L1394.1 629.8H1359.9zM1374.5 620.1h5"/>
<path d="M1379.4 599.9L1396.5 629H1362.3zM1376.9 619.3h5"/>
<path d="M1381.8 599.1L1398.9 628.2H1364.7zM1379.3 618.5h5"/>
<path d="M1384.2 598.3L1401.3 627.4H1367.1zM1381.7 617.7h5"/>
<path d="M1386.6 597.5L1403.7 626.6H1369.5zM1384.1 616.9h5"/>
<path d="M1389 596.6L1406.1 625.7H1371.9zM1386.5 616h5"/>
<path d="M1391.4 595.8L1408.5 624.9H1374.3zM1388.9 615.2h5"/>
<path d="M1393.8 595L1410.8 624.1H1376.7zM1391.2 614.4h5"/>
<path d="M1396.1 594.2L1413.2 623.3H1379zM1393.6 613.6h5"/>
<path d="M1398.5 593.3L1415.6 622.4H1381.4zM1396 612.7h5"/>
<path d="M1400.9 592.5L1418 621.6H1383.8zM1398.4 611.9h5"/>
<path d="M1403.3 591.7L1420.4 620.8H1386.2zM1400.8 611.1h5"/>
<path d="M1405.7 590.8L1422.8 619.9H1388.6zM1403.2 610.2h5"/>
<path d="M1408.1 590L1425.2 619.1H1391zM1405.6 609.4h5"/>
<path d="M1410.5 589.2L1427.6 618.3H1393.4zM1408 608.6h5"/>
<path d="M1412.9 588.3L1430 617.4H1395.8zM1410.4 607.7h5"/>
<path d="M1415.3 587.5L1432.4 616.6H1398.2zM1412.8 606.9h5"/>
<path d="M1417.7 586.6L1434.8 615.7H1400.6zM1415.2 606h5"/>
<path d="M1420.1 585.8L1437.2 614.9H1403zM1417.6 605.2h5"/>
<path d="M1422.5 584.9L1439.6 614H1405.4zM1420 604.3h5"/>
<path d="M1424.9 584L1442 613.1H1407.8zM1422.4 603.4h5"/>
<path d="M1427.3 583.2L1444.4 612.3H1410.2zM1424.8 602.6h5"/>
<path d="M1429.7 582.3L1446.8 611.4H1412.6zM1427.2 601.7h5"/>
<path d="M1432.1 581.4L1449.2 610.5H1415zM1429.6 600.8h5"/>
<path d="M1434.5 580.5L1451.6 609.6H1417.4zM1432 599.9h5"/>
<path d="M1436.9 579.6L1454 608.7H1419.8zM1434.4 599h5"/>
<path d="M1439.3 578.8L1456.4 607.9H1422.2zM1436.8 598.2h5"/>
<path d="M1441.7 577.9L1458.8 607H1424.6zM1439.2 597.3h5"/>
<path d="M1444 577L1461.1 606.1H1426.9zM1441.5 596.4h5"/>
<path d="M1446.4 576.1L1463.5 605.2H1429.3zM1443.9 595.5h5"/>
<path d="M1448.8 575.2L1465.9 604.3H1431.7zM1446.3 594.6h5"/>
<path d="M1451.2 574.3L1468.3 603.4H1434.1zM1448.7 593.7h5"/>
<path d="M1453.6 573.4L1470.7 602.5H1436.5zM1451.1 592.8h5"/>
<path d="M1456 572.5L1473.1 601.6H1438.9zM1453.5 591.9h5"/>
<path d="M1458.4 571.6L1475.5 600.7H1441.3zM1455.9 591h5"/>
<path d="M1460.8 570.7L1477.9 599.8H1443.7zM1458.3 590.1h5"/>
<path d="M1463.2 569.7L1480.3 598.8H1446.1zM1460.7 589.1h5"/>
<path d="M1465.6 568.8L1482.7 597.9H1448.5zM1463.1 588.2h5"/>
<path d="M1468 567.9L1485.1 597H1450.9zM1465.5 587.3h5"/>
<path d="M1470.4 567L1487.5 596.1H1453.3zM1467.9 586.4h5"/>
<path d="M1472.8 566L1489.9 595.1H1455.7zM1470.3 585.4h5"/>
<path d="M1475.2 565.1L1492.3 594.2H1458.1zM1472.7 584.5h5"/>
<path d="M1477.6 564.2L1494.7 593.3H1460.5zM1475.1 583.6h5"/>
<path d="M1480 563.2L1497.1 592.3H1462.9zM1477.5 582.6h5"/>
<path d="M1482.4 562.3L1499.5 591.4H1465.3zM1479.9 581.7h5"/>
<path d="M1484.8 561.4L1501.9 590.5H1467.7zM1482.3 580.8h5"/>
<path d="M1487.2 560.4L1504.3 589.5H1470.1zM1484.7 579.8h5"/>
<path d="M1489.5 559.4L1506.6 588.5H1472.5zM1487 578.8h5"/>
<path d="M1491.9 558.4L1509 587.5H1474.8zM1489.4 577.8h5"/>
<path d="M1494.3 557.4L1511.4 586.5H1477.2zM1491.8 576.8h5"/>
<path d="M1496.7 556.4L1513.8 585.5H1479.6zM1494.2 575.8h5"/>
<path d="M1499.1 555.5L1516.2 584.6H1482zM1496.6 574.9h5"/>
<path d="M1501.5 554.5L1518.6 583.6H1484.4zM1499 573.9h5"/>
<path d="M1503.9 553.5L1521 582.6H1486.8zM1501.4 572.9h5"/>
<path d="M1506.3 552.5L1523.4 581.6H1489.2zM1503.8 571.9h5"/>
<path d="M1508.7 551.5L1525.8 580.6H1491.6zM1506.2 570.9h5"/>
<path d="M1511.1 550.5L1528.2 579.6H1494zM1508.6 569.9h5"/>
<path d="M1513.5 549.5L1530.6 578.6H1496.4zM1511 568.9h5"/>
<path d="M1515.9 548.4L1533 577.5H1498.8zM1513.4 567.8h5"/>
<path d="M1518.3 547.4L1535.4 576.5H1501.2zM1515.8 566.8h5"/>
<path d="M1520.7 546.4L1537.8 575.5H1503.6zM1518.2 565.8h5"/>
<path d="M1523.1 545.4L1540.2 574.5H1506zM1520.6 564.8h5"/>
<path d="M1525.5 544.4L1542.6 573.5H1508.4zM1523 563.8h5"/>
<path d="M1527.9 543.4L1545 572.5H1510.8zM1525.4 562.8h5"/>
<path d="M1530.3 542.4L1547.4 571.5H1513.2zM1527.8 561.8h5"/>
<path d="M1532.7 541.3L1549.8 570.4H1515.6zM1530.2 560.7h5"/>
<path d="M1535.1 540.3L1552.2 569.4H1518zM1532.6 559.7h5"/>
<path d="M1537.5 539.3L1554.5 568.4H1520.4zM1535 558.7h5"/>
<path d="M1539.8 538.2L1556.9 567.3H1522.7zM1537.3 557.6h5"/>
<path d="M1542.2 537.2L1559.3 566.3H1525.1zM1539.7 556.6h5"/>
<path d="M1544.6 536.2L1561.7 565.3H1527.5zM1542.1 555.6h5"/>
<path d="M1547 535.1L1564.1 564.2H1529.9zM1544.5 554.5h5"/>
<path d="M1549.4 534.1L1566.5 563.2H1532.3zM1546.9 553.5h5"/>
<path d="M1551.8 533.1L1568.9 562.2H1534.7zM1549.3 552.5h5"/>
<path d="M1554.2 532L1571.3 561.1H1537.1zM1551.7 551.4h5"/>
<path d="M1556.6 531L1573.7 560.1H1539.5zM1554.1 550.4h5"/>
<path d="M1559 530L1576.1 559.1H1541.9zM1556.5 549.4h5"/>
<path d="M1561.4 528.9L1578.5 558H1544.3zM1558.9 548.3h5"/>
<path d="M1563.8 527.9L1580.9 557H1546.7zM1561.3 547.3h5"/>
<path d="M1566.2 526.9L1583.3 556H1549.1zM1563.7 546.3h5"/>
<path d="M1568.6 525.8L1585.7 554.9H1551.5zM1566.1 545.2h5"/>
<path d="M1571 524.8L1588.1 553.9H1553.9zM1568.5 544.2h5"/>
<path d="M1573.4 523.8L1590.5 552.9H1556.3zM1570.9 543.2h5"/>
<path d="M1575.8 522.7L1592.9 551.8H1558.7zM1573.3 542.1h5"/>
<path d="M1578.2 521.7L1595.3 550.8H1561.1zM1575.7 541.1h5"/>
<path d="M1580.6 520.6L1597.7 549.7H1563.5zM1578.1 540h5"/>
<path d="M1583 519.7L1600.1 548.8H1565.9zM1580.5 539.1h5"/>
<path d="M1585.3 518.7L1602.4 547.8H1568.2zM1582.8 538.1h5"/>
<path d="M1587.7 517.7L1604.8 546.8H1570.6zM1585.2 537.1h5"/>
<path d="M1590.1 516.7L1607.2 545.8H1573zM1587.6 536.1h5"/>
<path d="M1592.5 515.7L1609.6 544.8H1575.4zM1590 535.1h5"/>
<path d="M1594.9 514.8L1612 543.9H1577.8zM1592.4 534.2h5"/>
<path d="M1597.3 513.8L1614.4 542.9H1580.2zM1594.8 533.2h5"/>
<path d="M1599.7 512.8L1616.8 541.9H1582.6zM1597.2 532.2h5"/>
<path d="M1602.1 511.8L1619.2 540.9H1585zM1599.6 531.2h5"/>
<path d="M1604.5 510.8L1621.6 539.9H1587.4zM1602 530.2h5"/>
<path d="M1606.9 509.8L1624 538.9H1589.8zM1604.4 529.2h5"/>
<path d="M1609.3 508.8L1626.4 537.9H1592.2zM1606.8 528.2h5"/>
<path d="M1611.7 507.9L1628.8 537H1594.6zM1609.2 527.3h5"/>
<path d="M1614.1 506.9L1631.2 536H1597zM1611.6 526.3h5"/>
<path d="M1616.5 505.9L1633.6 535H1599.4zM1614 525.3h5"/>
<path d="M1618.9 504.9L1636 534H1601.8zM1616.4 524.3h5"/>
<path d="M1621.3 503.9L1638.4 533H1604.2zM1618.8 523.3h5"/>
<path d="M1623.7 502.9L1640.8 532H1606.6zM1621.2 522.3h5"/>
<path d="M1626.1 501.9L1643.2 531H1609zM1623.6 521.3h5"/>
<path d="M1628.5 500.9L1645.6 530H1611.4zM1626 520.3h5"/>
<path d="M1630.9 500L1648 529.1H1613.8zM1628.4 519.4h5"/>
<path d="M1633.2 499L1650.3 528.1H1616.2zM1630.8 518.4h5"/>
<path d="M1635.6 498L1652.7 527.1H1618.5zM1633.1 517.4h5"/>
<path d="M1638 497L1655.1 526.1H1620.9zM1635.5 516.4h5"/>
<path d="M1640.4 496L1657.5 525.1H1623.3zM1637.9 515.4h5"/>
<path d="M1642.8 495L1659.9 524.1H1625.7zM1640.3 514.4h5"/>
<path d="M1645.2 494.1L1662.3 523.2H1628.1zM1642.7 513.5h5"/>
<path d="M1647.6 493.1L1664.7 522.2H1630.5zM1645.1 512.5h5"/>
<path d="M1650 492.1L1667.1 521.2H1632.9zM1647.5 511.5h5"/>
<path d="M1652.4 491.1L1669.5 520.2H1635.3zM1649.9 510.5h5"/>
<path d="M1654.8 490.1L1671.9 519.2H1637.7zM1652.3 509.5h5"/>
<path d="M1657.2 489.1L1674.3 518.2H1640.1zM1654.7 508.5h5"/>
<path d="M1659.6 488.2L1676.7 517.3H1642.5zM1657.1 507.6h5"/>
<path d="M1662 487.2L1679.1 516.3H1644.9zM1659.5 506.6h5"/>
<path d="M1664.4 486.2L1681.5 515.3H1647.3zM1661.9 505.6h5"/>
<path d="M1666.8 485.2L1683.9 514.3H1649.7zM1664.3 504.6h5"/>
<path d="M1669.2 484.2L1686.3 513.3H1652.1zM1666.7 503.6h5"/>
<path d="M1671.6 483.3L1688.7 512.4H1654.5zM1669.1 502.7h5"/>
<path d="M1674 482.3L1691.1 511.4H1656.9zM1671.5 501.7h5"/>
<path d="M1676.4 481.3L1693.5 510.4H1659.3zM1673.9 500.7h5"/>
<path d="M1678.8 480.3L1695.9 509.4H1661.7zM1676.3 499.7h5"/>
<path d="M1681.2 479.3L1698.2 508.4H1664.1zM1678.7 498.7h5"/>
<path d="M1683.5 478.4L1700.6 507.5H1666.4zM1681 497.8h5"/>
<path d="M1685.9 477.4L1703 506.5H1668.8zM1683.4 496.8h5"/>
<path d="M1688.3 476.4L1705.4 505.5H1671.2zM1685.8 495.8h5"/>
<path d="M1690.7 475.4L1707.8 504.5H1673.6zM1688.2 494.8h5"/>
<path d="M1693.1 474.5L1710.2 503.6H1676zM1690.6 493.9h5"/>
<path d="M1695.5 473.5L1712.6 502.6H1678.4zM1693 492.9h5"/>
<path d="M1697.9 472.5L1715 501.6H1680.8zM1695.4 491.9h5"/>
<path d="M1700.3 471.6L1717.4 500.7H1683.2zM1697.8 491h5"/>
<path d="M1702.7 470.6L1719.8 499.7H1685.6zM1700.2 490h5"/>
<path d="M1705.1 469.6L1722.2 498.7H1688zM1702.6 489h5"/>
<path d="M1707.5 468.7L1724.6 497.8H1690.4zM1705 488.1h5"/>
<path d="M1709.9 467.7L1727 496.8H1692.8zM1707.4 487.1h5"/>
<path d="M1712.3 466.8L1729.4 495.9H1695.2zM1709.8 486.2h5"/>
<path d="M1714.7 465.8L1731.8 494.9H1697.6zM1712.2 485.2h5"/>
<path d="M1717.1 464.8L1734.2 493.9H1700zM1714.6 484.2h5"/>
<path d="M1719.5 463.9L1736.6 493H1702.4zM1717 483.3h5"/>
<path d="M1721.9 462.9L1739 492H1704.8zM1719.4 482.3h5"/>
<path d="M1724.3 462L1741.4 491.1H1707.2zM1721.8 481.4h5"/>
<path d="M1726.7 461L1743.8 490.1H1709.6zM1724.2 480.4h5"/>
<path d="M1729.1 460.1L1746.2 489.2H1712zM1726.6 479.5h5"/>
<path d="M1731.4 459.2L1748.5 488.3H1714.3zM1728.9 478.6h5"/>
<path d="M1733.8 458.2L1750.9 487.3H1716.7zM1731.3 477.6h5"/>
<path d="M1736.2 457.3L1753.3 486.4H1719.1zM1733.7 476.7h5"/>
<path d="M1738.6 456.3L1755.7 485.4H1721.5zM1736.1 475.7h5"/>
<path d="M1741 455.4L1758.1 484.5H1723.9zM1738.5 474.8h5"/>
<path d="M1743.4 454.4L1760.5 483.5H1726.3zM1740.9 473.8h5"/>
<path d="M1745.8 453.4L1762.9 482.5H1728.7zM1743.3 472.8h5"/>
<path d="M1748.2 452.4L1765.3 481.5H1731.1zM1745.7 471.8h5"/>
<path d="M1750.6 451.4L1767.7 480.5H1733.5zM1748.1 470.8h5"/>
<path d="M1753 450.4L1770.1 479.5H1735.9zM1750.5 469.8h5"/>
<path d="M1755.4 449.4L1772.5 478.5H1738.3zM1752.9 468.8h5"/>
<path d="M1757.8 448.4L1774.9 477.5H1740.7zM1755.3 467.8h5"/>
<path d="M1760.2 447.4L1777.3 476.5H1743.1zM1757.7 466.8h5"/>
<path d="M1762.6 446.4L1779.7 475.5H1745.5zM1760.1 465.8h5"/>
<path d="M1765 445.4L1782.1 474.5H1747.9zM1762.5 464.8h5"/>
<path d="M1767.4 444.5L1784.5 473.6H1750.3zM1764.9 463.9h5"/>
<path d="M1769.8 443.5L1786.9 472.6H1752.7zM1767.3 462.9h5"/>
<path d="M1772.2 442.5L1789.3 471.6H1755.1zM1769.7 461.9h5"/>
<path d="M1774.6 441.5L1791.7 470.6H1757.5zM1772.1 460.9h5"/>
<path d="M1777 440.6L1794 469.7H1759.9zM1774.5 460h5"/>
<path d="M1779.3 439.6L1796.4 468.7H1762.2zM1776.8 459h5"/>
<path d="M1781.7 438.6L1798.8 467.7H1764.6zM1779.2 458h5"/>
<path d="M1784.1 437.7L1801.2 466.8H1767zM1781.6 457.1h5"/>
<path d="M1786.5 436.7L1803.6 465.8H1769.4zM1784 456.1h5"/>
<path d="M1788.9 435.8L1806 464.9H1771.8zM1786.4 455.2h5"/>
<path d="M1791.3 434.8L1808.4 463.9H1774.2zM1788.8 454.2h5"/>
<path d="M1793.7 433.9L1810.8 463H1776.6zM1791.2 453.3h5"/>
<path d="M1796.1 432.9L1813.2 462H1779zM1793.6 452.3h5"/>
<path d="M1798.5 432L1815.6 461.1H1781.4zM1796 451.4h5"/>
<path d="M1800.9 431L1818 460.1H1783.8zM1798.4 450.4h5"/>
<path d="M1803.3 430.1L1820.4 459.2H1786.2zM1800.8 449.5h5"/>
<path d="M1805.7 429.2L1822.8 458.3H1788.6zM1803.2 448.6h5"/>
<path d="M1808.1 428.2L1825.2 457.3H1791zM1805.6 447.6h5"/>
<path d="M1810.5 427.3L1827.6 456.4H1793.4zM1808 446.7h5"/>
<path d="M1812.9 426.4L1830 455.5H1795.8zM1810.4 445.8h5"/>
<path d="M1815.3 425.5L1832.4 454.6H1798.2zM1812.8 444.9h5"/>
<path d="M1817.7 424.6L1834.8 453.7H1800.6zM1815.2 444h5"/>
<path d="M1820.1 423.7L1837.2 452.8H1803zM1817.6 443.1h5"/>
<path d="M1822.5 422.7L1839.6 451.8H1805.4zM1820 442.1h5"/>
<path d="M1824.8 421.7L1841.9 450.8H1807.8zM1822.3 441.1h5"/>
<path d="M1827.2 420.8L1844.3 449.9H1810.1zM1824.7 440.2h5"/>
<path d="M1829.6 419.8L1846.7 448.9H1812.5zM1827.1 439.2h5"/>
<path d="M1832 418.9L1849.1 448H1814.9zM1829.5 438.3h5"/>
<path d="M1834.4 417.9L1851.5 447H1817.3zM1831.9 437.3h5"/>
<path d="M1836.8 417L1853.9 446.1H1819.7zM1834.3 436.4h5"/>
<path d="M1839.2 416.1L1856.3 445.2H1822.1zM1836.7 435.5h5"/>
<path d="M1841.6 415.1L1858.7 444.2H1824.5zM1839.1 434.5h5"/>
<path d="M1844 414.2L1861.1 443.3H1826.9zM1841.5 433.6h5"/>
<path d="M1846.4 413.3L1863.5 442.4H1829.3zM1843.9 432.7h5"/>
<path d="M1848.8 412.4L1865.9 441.5H1831.7zM1846.3 431.8h5"/>
<path d="M1851.2 411.5L1868.3 440.6H1834.1zM1848.7 430.9h5"/>
<path d="M1853.6 410.5L1870.7 439.6H1836.5zM1851.1 429.9h5"/>
<path d="M1856 409.6L1873.1 438.7H1838.9zM1853.5 429h5"/>
<path d="M1858.4 408.7L1875.5 437.8H1841.3zM1855.9 428.1h5"/>
<path d="M1860.8 407.8L1877.9 436.9H1843.7zM1858.3 427.2h5"/>
<path d="M1863.2 406.9L1880.3 436H1846.1zM1860.7 426.3h5"/>
<path d="M1865.6 406L1882.7 435.1H1848.5zM1863.1 425.4h5"/>
<path d="M1868 405.1L1885.1 434.2H1850.9zM1865.5 424.5h5"/>
<path d="M1870.4 404.3L1887.5 433.4H1853.3zM1867.9 423.7h5"/>
<path d="M1872.8 403.4L1889.8 432.5H1855.7zM1870.2 422.8h5"/>
<path d="M1875.1 402.5L1892.2 431.6H1858zM1872.6 421.9h5"/>
<path d="M1877.5 401.6L1894.6 430.7H1860.4zM1875 421h5"/>
<path d="M1879.9 400.7L1897 429.8H1862.8zM1877.4 420.1h5"/>
<path d="M1882.3 399.9L1899.4 429H1865.2zM1879.8 419.3h5"/>
<path d="M1884.7 399L1901.8 428.1H1867.6zM1882.2 418.4h5"/>
<path d="M1887.1 398.1L1904.2 427.2H1870zM1884.6 417.5h5"/>
<path d="M1889.5 397.3L1906.6 426.4H1872.4zM1887 416.7h5"/>
<path d="M1891.9 396.4L1909 425.5H1874.8zM1889.4 415.8h5"/>
<path d="M1894.3 395.6L1911.4 424.7H1877.2zM1891.8 415h5"/>
<path d="M1896.7 394.7L1913.8 423.8H1879.6zM1894.2 414.1h5"/>
<path d="M1899.1 393.9L1916.2 423H1882zM1896.6 413.3h5"/>
<path d="M1901.5 393.1L1918.6 422.2H1884.4zM1899 412.5h5"/>
<path d="M1903.9 392.4L1921 421.5H1886.8zM1901.4 411.8h5"/>
<path d="M1906.3 391.7L1923.4 420.8H1889.2zM1903.8 411.1h5"/>
<path d="M1908.7 390.9L1925.8 420H1891.6zM1906.2 410.3h5"/>
<path d="M1911.1 390.2L1928.2 419.3H1894zM1908.6 409.6h5"/>
<path d="M1913.5 389.5L1930.6 418.6H1896.4zM1911 408.9h5"/>
<path d="M1915.9 388.8L1933 417.9H1898.8zM1913.4 408.2h5"/>
<path d="M1918.3 388.1L1935.4 417.2H1901.2zM1915.8 407.5h5"/>
<path d="M1920.7 387.4L1937.8 416.5H1903.6zM1918.2 406.8h5"/>
<path d="M1923 386.7L1940.1 415.8H1905.9zM1920.5 406.1h5"/>
<path d="M1925.4 386L1942.5 415.1H1908.3zM1922.9 405.4h5"/>
<path d="M1927.8 385.3L1944.9 414.4H1910.7zM1925.3 404.7h5"/>
<path d="M1930.2 384.6L1947.3 413.7H1913.1zM1927.7 404h5"/>
<path d="M1932.6 383.9L1949.7 413H1915.5zM1930.1 403.3h5"/>
<path d="M1935 383.2L1952.1 412.3H1917.9zM1932.5 402.6h5"/>
<path d="M1937.4 382.5L1954.5 411.6H1920.3zM1934.9 401.9h5"/>
<path d="M1939.8 381.8L1956.9 410.9H1922.7zM1937.3 401.2h5"/>
<path d="M1942.2 381.2L1959.3 410.3H1925.1zM1939.7 400.6h5"/>
<path d="M1944.6 380.5L1961.7 409.6H1927.5zM1942.1 399.9h5"/>
<path d="M1947 379.8L1964.1 408.9H1929.9zM1944.5 399.2h5"/>
<path d="M1949.4 379.2L1966.5 408.3H1932.3zM1946.9 398.6h5"/>
<path d="M1951.8 378.5L1968.9 407.6H1934.7zM1949.3 397.9h5"/>
<path d="M1954.2 377.8L1971.3 406.9H1937.1zM1951.7 397.2h5"/>
<path d="M1956.6 377.2L1973.7 406.3H1939.5zM1954.1 396.6h5"/>
<path d="M1959 376.5L1976.1 405.6H1941.9zM1956.5 395.9h5"/>
<path d="M1961.4 375.9L1978.5 405H1944.3zM1958.9 395.3h5"/>
<path d="M1963.8 375.2L1980.9 404.3H1946.7zM1961.3 394.6h5"/>
<path d="M1966.2 374.6L1983.3 403.7H1949.1zM1963.7 394h5"/>
<path d="M1968.6 373.9L1985.7 403H1951.5zM1966.1 393.3h5"/>
<path d="M1970.9 373.3L1988 402.4H1953.8zM1968.4 392.7h5"/>
<path d="M1973.3 372.6L1990.4 401.7H1956.2zM1970.8 392h5"/>
<path d="M1975.7 372L1992.8 401.1H1958.6zM1973.2 391.4h5"/>
<path d="M1978.1 371.4L1995.2 400.5H1961zM1975.6 390.8h5"/>
<path d="M1980.5 370.7L1997.6 399.8H1963.4zM1978 390.1h5"/>
<path d="M1982.9 370.1L2000 399.2H1965.8zM1980.4 389.5h5"/>
<path d="M1985.3 369.5L2002.4 398.6H1968.2zM1982.8 388.9h5"/>
<path d="M1987.7 368.7L2004.8 397.8H1970.6zM1985.2 388.1h5"/>
<path d="M1990.1 368L2007.2 397.1H1973zM1987.6 387.4h5"/>
<path d="M1992.5 367.3L2009.6 396.4H1975.4zM1990 386.7h5"/>
<path d="M1994.9 366.6L2012 395.7H1977.8zM1992.4 386h5"/>
<path d="M1997.3 365.9L2014.4 395H1980.2zM1994.8 385.3h5"/>
<path d="M1999.7 365.2L2016.8 394.3H1982.6zM1997.2 384.6h5"/>
<path d="M2002.1 364.5L2019.2 393.6H1985zM1999.6 383.9h5"/>
<path d="M2004.5 363.8L2021.6 392.9H1987.4zM2002 383.2h5"/>
<path d="M2006.9 363.1L2024 392.2H1989.8zM2004.4 382.5h5"/>
<path d="M2009.3 362.4L2026.4 391.5H1992.2zM2006.8 381.8h5"/>
<path d="M2011.7 361.7L2028.8 390.8H1994.6zM2009.2 381.1h5"/>
<path d="M2014.1 361L2031.2 390.1H1997zM2011.6 380.4h5"/>
<path d="M2016.4 360.3L2033.5 389.4H1999.3zM2013.9 379.7h5"/>
<path d="M2018.8 359.6L2035.9 388.7H2001.7zM2016.3 379h5"/>
<path d="M2021.2 358.9L2038.3 388H2004.1zM2018.7 378.3h5"/>
<path d="M2023.6 358.2L2040.7 387.3H2006.5zM2021.1 377.6h5"/>
<path d="M2026 357.5L2043.1 386.6H2008.9zM2023.5 376.9h5"/>
<path d="M2028.4 356.9L2045.5 386H2011.3zM2025.9 376.3h5"/>
<path d="M2030.8 356.2L2047.9 385.3H2013.7zM2028.3 375.6h5"/>
<path d="M2033.2 355.5L2050.3 384.6H2016.1zM2030.7 374.9h5"/>
<path d="M2035.6 354.8L2052.7 383.9H2018.5zM2033.1 374.2h5"/>
<path d="M2038 354.2L2055.1 383.3H2020.9zM2035.5 373.6h5"/>
<path d="M2040.4 353.5L2057.5 382.6H2023.3zM2037.9 372.9h5"/>
<path d="M2042.8 352.8L2059.9 381.9H2025.7zM2040.3 372.2h5"/>
<path d="M2045.2 352.2L2062.3 381.3H2028.1zM2042.7 371.6h5"/>
<path d="M2047.6 351.5L2064.7 380.6H2030.5zM2045.1 370.9h5"/>
<path d="M2050 350.9L2067.1 380H2032.9zM2047.5 370.3h5"/>
<path d="M2052.4 350.2L2069.5 379.3H2035.3zM2049.9 369.6h5"/>
<path d="M2054.8 349.6L2071.9 378.7H2037.7zM2052.3 369h5"/>
<path d="M2057.2 348.9L2074.3 378H2040.1zM2054.7 368.3h5"/>
<path d="M2059.6 348.3L2076.7 377.4H2042.5zM2057.1 367.7h5"/>
<path d="M2062 347.6L2079.1 376.7H2044.9zM2059.5 367h5"/>
<path d="M2064.3 347L2081.4 376.1H2047.2zM2061.8 366.4h5"/>
<path d="M2066.7 346.3L2083.8 375.4H2049.6zM2064.2 365.7h5"/>
<path d="M2069.1 345.7L2086.2 374.8H2052zM2066.6 365.1h5"/>
<path d="M2071.5 345.1L2088.6 374.2H2054.4zM2069 364.5h5"/>
<path d="M2073.9 344.5L2091 373.6H2056.8zM2071.4 363.9h5"/>
<path d="M2076.3 343.9L2093.4 373H2059.2zM2073.8 363.3h5"/>
<path d="M2078.7 343.3L2095.8 372.4H2061.6zM2076.2 362.7h5"/>
<path d="M2081.1 342.8L2098.2 371.9H2064zM2078.6 362.2h5"/>
<path d="M2083.5 342.2L2100.6 371.3H2066.4zM2081 361.6h5"/>
<path d="M2085.9 341.6L2103 370.7H2068.8zM2083.4 361h5"/>
<path d="M2088.3 341L2105.4 370.1H2071.2zM2085.8 360.4h5"/>
<path d="M2090.7 340.5L2107.8 369.6H2073.6zM2088.2 359.9h5"/>
<path d="M2093.1 339.9L2110.2 369H2076zM2090.6 359.3h5"/>
<path d="M2095.5 339.3L2112.6 368.4H2078.4zM2093 358.7h5"/>
<path d="M2097.9 338.7L2115 367.8H2080.8zM2095.4 358.1h5"/>
<path d="M2100.3 338.2L2117.4 367.3H2083.2zM2097.8 357.6h5"/>
<path d="M2102.7 337.6L2119.8 366.7H2085.6zM2100.2 357h5"/>
<path d="M2105.1 337.1L2122.2 366.2H2088zM2102.6 356.5h5"/>
<path d="M2107.5 336.5L2124.6 365.6H2090.4zM2105 355.9h5"/>
<path d="M2109.9 335.9L2127 365H2092.8zM2107.4 355.3h5"/>
<path d="M2112.2 335.4L2129.3 364.5H2095.2zM2109.8 354.8h5"/>
<path d="M2114.6 334.8L2131.7 363.9H2097.5zM2112.1 354.2h5"/>
<path d="M2117 334.3L2134.1 363.4H2099.9zM2114.5 353.7h5"/>
<path d="M2119.4 333.7L2136.5 362.8H2102.3zM2116.9 353.1h5"/>
<path d="M2121.8 333.2L2138.9 362.3H2104.7zM2119.3 352.6h5"/>
<path d="M2124.2 332.6L2141.3 361.7H2107.1zM2121.7 352h5"/>
<path d="M2126.6 332.1L2143.7 361.2H2109.5zM2124.1 351.5h5"/>
<path d="M2129 331.5L2146.1 360.6H2111.9zM2126.5 350.9h5"/>
<path d="M2131.4 331L2148.5 360.1H2114.3zM2128.9 350.4h5"/>
<path d="M2133.8 330.4L2150.9 359.5H2116.7zM2131.3 349.8h5"/>
<path d="M2136.2 329.9L2153.3 359H2119.1zM2133.7 349.3h5"/>
<path d="M2138.6 329.4L2155.7 358.5H2121.5zM2136.1 348.8h5"/>
<path d="M2141 328.8L2158.1 357.9H2123.9zM2138.5 348.2h5"/>
<path d="M2143.4 328.3L2160.5 357.4H2126.3zM2140.9 347.7h5"/>
<path d="M2145.8 327.8L2162.9 356.9H2128.7zM2143.3 347.2h5"/>
<path d="M2148.2 327.2L2165.3 356.3H2131.1zM2145.7 346.6h5"/>
<path d="M2150.6 326.7L2167.7 355.8H2133.5zM2148.1 346.1h5"/>
<path d="M2153 326.2L2170.1 355.3H2135.9zM2150.5 345.6h5"/>
<path d="M2155.4 325.7L2172.5 354.8H2138.3zM2152.9 345.1h5"/>
<path d="M2157.8 325.2L2174.9 354.3H2140.7zM2155.3 344.6h5"/>
<path d="M2160.2 324.8L2177.2 353.9H2143.1zM2157.7 344.2h5"/>
<path d="M2162.5 324.4L2179.6 353.5H2145.4zM2160 343.8h5"/>
<path d="M2164.9 323.9L2182 353H2147.8zM2162.4 343.3h5"/>
<path d="M2167.3 323.5L2184.4 352.6H2150.2zM2164.8 342.9h5"/>
<path d="M2169.7 323L2186.8 352.1H2152.6zM2167.2 342.4h5"/>
<path d="M2172.1 322.6L2189.2 351.7H2155zM2169.6 342h5"/>
<path d="M2174.5 322.2L2191.6 351.3H2157.4zM2172 341.6h5"/>
<path d="M2176.9 321.7L2194 350.8H2159.8zM2174.4 341.1h5"/>
<path d="M2179.3 321.3L2196.4 350.4H2162.2zM2176.8 340.7h5"/>
<path d="M2181.7 320.9L2198.8 350H2164.6zM2179.2 340.3h5"/>
<path d="M2184.1 320.4L2201.2 349.5H2167zM2181.6 339.8h5"/>
<path d="M2186.5 320L2203.6 349.1H2169.4zM2184 339.4h5"/>
<path d="M2188.9 319.6L2206 348.7H2171.8zM2186.4 339h5"/>
<path d="M2191.3 319.2L2208.4 348.3H2174.2zM2188.8 338.6h5"/>
<path d="M2193.7 318.7L2210.8 347.8H2176.6zM2191.2 338.1h5"/>
<path d="M2196.1 318.3L2213.2 347.4H2179zM2193.6 337.7h5"/>
<path d="M2198.5 317.9L2215.6 347H2181.4zM2196 337.3h5"/>
<path d="M2200.9 317.5L2218 346.6H2183.8zM2198.4 336.9h5"/>
<path d="M2203.3 317L2220.4 346.1H2186.2zM2200.8 336.4h5"/>
<path d="M2205.7 316.6L2222.8 345.7H2188.6zM2203.2 336h5"/>
<path d="M2208.1 316.2L2225.2 345.3H2191zM2205.6 335.6h5"/>
<path d="M2210.4 315.8L2227.5 344.9H2193.3zM2207.9 335.2h5"/>
<path d="M2212.8 315.4L2229.9 344.5H2195.7zM2210.3 334.8h5"/>
<path d="M2215.2 314.9L2232.3 344H2198.1zM2212.7 334.3h5"/>
<path d="M2217.6 314.5L2234.7 343.6H2200.5zM2215.1 333.9h5"/>
<path d="M2220 314.1L2237.1 343.2H2202.9zM2217.5 333.5h5"/>
<path d="M2222.4 313.7L2239.5 342.8H2205.3zM2219.9 333.1h5"/>
<path d="M2224.8 313.3L2241.9 342.4H2207.7zM2222.3 332.7h5"/>
<path d="M2227.2 312.9L2244.3 342H2210.1zM2224.7 332.3h5"/>
<path d="M2229.6 312.5L2246.7 341.6H2212.5zM2227.1 331.9h5"/>
<path d="M2232 312.1L2249.1 341.2H2214.9zM2229.5 331.5h5"/>
<path d="M2234.4 311.7L2251.5 340.8H2217.3zM2231.9 331.1h5"/>
<path d="M2236.8 311.3L2253.9 340.4H2219.7zM2234.3 330.7h5"/>
<path d="M2239.2 310.9L2256.3 340H2222.1zM2236.7 330.3h5"/>
<path d="M2241.6 310.5L2258.7 339.6H2224.5zM2239.1 329.9h5"/>
<path d="M2244 310.2L2261.1 339.3H2226.9zM2241.5 329.6h5"/>
<path d="M2246.4 309.9L2263.5 339H2229.3zM2243.9 329.3h5"/>
<path d="M2248.8 309.5L2265.9 338.6H2231.7zM2246.3 328.9h5"/>
<path d="M2251.2 309.2L2268.3 338.3H2234.1zM2248.7 328.6h5"/>
<path d="M2253.6 308.9L2270.7 338H2236.5zM2251.1 328.3h5"/>
<path d="M2255.9 308.6L2273 337.7H2238.8zM2253.4 328h5"/>
<path d="M2258.3 308.2L2275.4 337.3H2241.2zM2255.8 327.6h5"/>
<path d="M2261.4 307.8L2278.5 336.9H2244.3zM2258.9 327.2h5"/>
</g>
<path d="M1026.7 1163.1L1028.1 1196.2M1029 1222.1L1030.6 1280.5M1033.8 1260.8L1035.4 1213.2M1036.8 1187.2L1037.2 1183.1" fill="none" stroke="#0f0" stroke-width="4.5"/>
<path d="M464 667L481.1 637.9H446.9zM465.8 669.1L482.9 640H448.7zM468.2 672L485.3 642.9H451.1zM470.6 674.7L487.7 645.6H453.5zM473 677.4L490.1 648.3H455.9zM475.4 680L492.5 650.9H458.3zM477.8 682.5L494.9 653.4H460.7zM480.1 685L497.2 655.9H463zM482.5 687.4L499.6 658.3H465.4zM484.9 689.7L502 660.6H467.8zM487.3 692L504.4 662.9H470.2zM489.7 694.1L506.8 665H472.6zM492.1 696.2L509.2 667.1H475zM494.5 698.3L511.6 669.2H477.4zM496.9 700.2L514 671.1H479.8zM499.3 702.1L516.4 673H482.2zM501.7 704L518.8 674.9H484.6zM504.1 705.8L521.2 676.7H487zM506.5 707.6L523.6 678.5H489.4zM508.9 709.3L526 680.2H491.8zM511.3 711L528.4 681.9H494.2zM513.7 712.7L530.8 683.6H496.6zM516.1 714.3L533.2 685.2H499zM518.5 715.8L535.6 686.7H501.4zM520.9 717.4L538 688.3H503.8zM523.3 718.9L540.4 689.8H506.2zM525.7 720.4L542.8 691.3H508.6zM528 721.8L545.1 692.7H510.9zM530.4 723.2L547.5 694.1H513.3zM532.8 724.5L549.9 695.4H515.7zM535.2 725.9L552.3 696.8H518.1zM537.6 727.2L554.7 698.1H520.5zM540 728.5L557.1 699.4H522.9zM542.4 729.8L559.5 700.7H525.3zM544.8 731.1L561.9 702H527.7zM547.2 732.3L564.3 703.2H530.1zM549.6 733.6L566.7 704.5H532.5zM552 734.8L569.1 705.7H534.9zM554.4 736.1L571.5 707H537.3zM556.8 737.3L573.9 708.2H539.7zM559.2 738.6L576.3 709.5H542.1zM561.6 739.8L578.7 710.7H544.5zM564 741.1L581.1 712H546.9zM566.4 742.3L583.5 713.2H549.3zM568.8 743.4L585.9 714.3H551.7zM571.2 744.6L588.3 715.5H554.1zM573.6 745.8L590.7 716.7H556.5zM576 746.9L593.1 717.8H558.9zM578.3 748.1L595.4 719H561.2zM580.7 749.2L597.8 720.1H563.6zM583.1 750.4L600.2 721.3H566zM585.5 751.5L602.6 722.4H568.4zM587.9 752.7L605 723.6H570.8zM590.3 753.8L607.4 724.7H573.2zM592.7 755L609.8 725.9H575.6zM595.1 756.1L612.2 727H578zM597.5 757.2L614.6 728.1H580.4zM599.9 758.4L617 729.3H582.8zM602.3 759.5L619.4 730.4H585.2zM604.7 760.6L621.8 731.5H587.6zM607.1 761.7L624.2 732.6H590zM609.5 762.8L626.6 733.7H592.4zM611.9 763.9L629 734.8H594.8zM614.3 765L631.4 735.9H597.2zM616.7 766.1L633.8 737H599.6zM619.1 767.2L636.2 738.1H602zM621.5 768.3L638.6 739.2H604.4zM623.9 769.4L641 740.3H606.8zM626.2 770.4L643.3 741.3H609.1zM628.6 771.5L645.7 742.4H611.5zM631 772.6L648.1 743.5H613.9zM633.4 773.7L650.5 744.6H616.3zM635.8 774.8L652.9 745.7H618.7zM638.2 775.9L655.3 746.8H621.1zM640.6 776.9L657.7 747.8H623.5zM643 778L660.1 748.9H625.9zM645.4 779.1L662.5 750H628.3zM647.8 780.2L664.9 751.1H630.7zM650.2 781.3L667.3 752.2H633.1zM652.6 782.4L669.7 753.3H635.5zM655 783.5L672.1 754.4H637.9zM657.4 784.6L674.5 755.5H640.3zM659.8 785.6L676.9 756.5H642.7zM662.2 786.7L679.3 757.6H645.1zM664.6 787.8L681.7 758.7H647.5zM667 788.9L684.1 759.8H649.9zM669.4 790L686.5 760.9H652.3zM671.8 791.1L688.9 762H654.6zM674.1 792.1L691.2 763H657zM676.5 793.2L693.6 764.1H659.4zM678.9 794.3L696 765.2H661.8zM681.3 795.4L698.4 766.3H664.2zM683.7 796.5L700.8 767.4H666.6zM686.1 797.6L703.2 768.5H669zM688.5 798.7L705.6 769.6H671.4zM690.9 799.8L708 770.7H673.8zM693.3 800.9L710.4 771.8H676.2zM695.7 802.1L712.8 773H678.6zM698.1 803.2L715.2 774.1H681zM700.5 804.3L717.6 775.2H683.4zM702.9 805.4L720 776.3H685.8zM705.3 806.5L722.4 777.4H688.2zM707.7 807.6L724.8 778.5H690.6zM710.1 808.7L727.2 779.6H693zM712.5 809.8L729.6 780.7H695.4zM714.9 811L732 781.9H697.8zM717.3 812.1L734.4 783H700.2zM719.6 813.2L736.8 784.1H702.5zM722 814.4L739.1 785.3H704.9zM724.4 815.5L741.5 786.4H707.3zM726.8 816.7L743.9 787.6H709.7zM729.2 817.8L746.3 788.7H712.1zM731.6 819L748.7 789.9H714.5zM734 820.1L751.1 791H716.9zM736.4 821.3L753.5 792.2H719.3zM738.8 822.5L755.9 793.4H721.7zM741.2 823.6L758.3 794.5H724.1zM743.6 824.8L760.7 795.7H726.5zM746 826L763.1 796.9H728.9zM748.4 827.1L765.5 798H731.3zM750.8 828.3L767.9 799.2H733.7zM753.2 829.5L770.3 800.4H736.1zM755.6 830.7L772.7 801.6H738.5zM758 831.9L775.1 802.8H740.9zM760.4 833L777.5 803.9H743.3zM762.8 834.2L779.9 805.1H745.7zM765.2 835.4L782.3 806.3H748.1zM767.5 836.6L784.6 807.5H750.4zM769.9 837.8L787 808.7H752.8zM772.3 839L789.4 809.9H755.2zM774.7 840.3L791.8 811.2H757.6zM777.1 841.5L794.2 812.4H760zM779.5 842.7L796.6 813.6H762.4zM781.9 843.9L799 814.8H764.8zM784.3 845.2L801.4 816.1H767.2zM786.7 846.4L803.8 817.3H769.6zM789.1 847.6L806.2 818.5H772zM791.5 848.9L808.6 819.8H774.4zM793.9 850.1L811 821H776.8zM796.3 851.4L813.4 822.3H779.2zM798.7 852.6L815.8 823.5H781.6zM801.1 853.9L818.2 824.8H784zM803.5 855.2L820.6 826.1H786.4zM805.9 856.5L823 827.4H788.8zM808.3 857.7L825.4 828.6H791.2zM810.7 859L827.8 829.9H793.6zM813.1 860.3L830.2 831.2H796zM815.5 861.6L832.6 832.5H798.4zM817.8 862.9L834.9 833.8H800.7zM820.2 864.3L837.3 835.2H803.1zM822.6 865.6L839.7 836.5H805.5zM825 866.9L842.1 837.8H807.9zM827.4 868.2L844.5 839.1H810.3zM829.8 869.6L846.9 840.5H812.7zM832.2 870.9L849.3 841.8H815.1zM834.6 872.3L851.7 843.2H817.5zM837 873.7L854.1 844.6H819.9zM839.4 875L856.5 845.9H822.3zM841.8 876.4L858.9 847.3H824.7zM844.2 877.8L861.3 848.7H827.1zM846.6 879.2L863.7 850.1H829.5zM849 880.6L866.1 851.5H831.9zM851.4 882L868.5 852.9H834.3zM853.8 883.4L870.9 854.3H836.7zM856.2 884.9L873.3 855.8H839.1zM858.6 886.3L875.7 857.2H841.5zM861 887.8L878.1 858.7H843.9zM863.4 889.3L880.5 860.2H846.2zM865.7 890.8L882.8 861.7H848.6zM868.1 892.3L885.2 863.2H851zM870.5 893.8L887.6 864.7H853.4zM872.9 895.3L890 866.2H855.8zM875.3 896.9L892.4 867.8H858.2zM877.7 898.4L894.8 869.3H860.6zM880.1 900L897.2 870.9H863zM882.5 901.5L899.6 872.4H865.4zM884.9 903.1L902 874H867.8zM887.3 904.7L904.4 875.6H870.2zM889.7 906.3L906.8 877.2H872.6zM892.1 907.9L909.2 878.8H875zM894.5 909.5L911.6 880.4H877.4zM896.9 911.2L914 882.1H879.8zM899.3 912.9L916.4 883.8H882.2zM901.7 914.6L918.8 885.5H884.6zM904.1 916.3L921.2 887.2H887zM906.5 918.1L923.6 889H889.4zM908.9 919.9L926 890.8H891.8zM911.2 921.7L928.4 892.6H894.1zM913.6 923.6L930.7 894.5H896.5zM916 925.5L933.1 896.4H898.9zM918.4 927.5L935.5 898.4H901.3zM920.8 929.5L937.9 900.4H903.7zM923.2 931.6L940.3 902.5H906.1zM925.6 933.9L942.7 904.8H908.5zM928 936.2L945.1 907.1H910.9zM930.4 938.7L947.5 909.6H913.3zM932.8 941.1L949.9 912H915.7zM935.2 943.7L952.3 914.6H918.1zM937.6 946.4L954.7 917.3H920.5zM940 949.1L957.1 920H922.9zM942.4 951.9L959.5 922.8H925.3zM944.8 954.8L961.9 925.7H927.7zM947.2 957.8L964.3 928.7H930.1zM949.6 960.9L966.7 931.8H932.5zM952 964.1L969.1 935H934.9zM954.4 967.5L971.5 938.4H937.3zM956.8 970.9L973.9 941.8H939.7zM959.1 974.4L976.2 945.3H942zM961.5 978.1L978.6 949H944.4zM963.9 981.8L981 952.7H946.8zM966.3 985.6L983.4 956.5H949.2zM968.7 989.5L985.8 960.4H951.6zM971.1 993.5L988.2 964.4H954zM973.5 997.7L990.6 968.6H956.4zM975.9 1002L993 972.9H958.8zM978.3 1006.4L995.4 977.3H961.2zM980.7 1011L997.8 981.9H963.6zM983.1 1015.8L1000.2 986.7H966zM985.5 1020.7L1002.6 991.6H968.4zM987.9 1025.8L1005 996.7H970.8zM990.3 1030.9L1007.4 1001.8H973.2zM992.7 1035.8L1009.8 1006.7H975.6zM995.1 1040.7L1012.2 1011.6H978zM997.5 1045.7L1014.6 1016.6H980.4zM999.9 1051L1017 1021.9H982.8zM1002.3 1056.8L1019.4 1027.7H985.2zM1004.7 1062.9L1021.8 1033.8H987.6zM1007 1069.3L1024.1 1040.2H989.9zM1009.4 1076.4L1026.5 1047.3H992.3zM1011.8 1084.3L1028.9 1055.2H994.7zM1014.2 1093.5L1031.3 1064.4H997.1zM1016.6 1104.5L1033.7 1075.4H999.5zM1019 1117.5L1036.1 1088.4H1001.9zM1021.4 1132L1038.5 1102.9H1004.3zM1023.8 1146.8L1040.9 1117.7H1006.7zM1026.2 1169.5L1043.3 1140.4H1009.1zM1028.6 1228.5L1045.7 1199.4H1011.5zM1031 1312.9L1048.1 1283.8H1013.9zM1033.4 1293.2L1050.5 1264.1H1016.3zM1035.8 1219.6L1052.9 1190.5H1018.7zM1038.2 1189.6L1055.3 1160.5H1021.1zM1040.6 1167.5L1057.7 1138.4H1023.5zM1043 1149.6L1060.1 1120.5H1025.9zM1045.4 1133.9L1062.5 1104.8H1028.3zM1047.8 1120L1064.9 1090.9H1030.7zM1050.2 1108.7L1067.3 1079.6H1033.1zM1052.6 1099.5L1069.7 1070.4H1035.5zM1055 1091.5L1072 1062.4H1037.9zM1057.3 1084.2L1074.4 1055.1H1040.2zM1059.7 1077.5L1076.8 1048.4H1042.6zM1062.1 1071L1079.2 1041.9H1045zM1064.5 1064.3L1081.6 1035.2H1047.4zM1066.9 1057.5L1084 1028.4H1049.8zM1069.3 1051.1L1086.4 1022H1052.2zM1071.7 1045.3L1088.8 1016.2H1054.6zM1074.1 1040.6L1091.2 1011.5H1057zM1076.5 1037.2L1093.6 1008.1H1059.4zM1078.9 1034.3L1096 1005.2H1061.8zM1081.3 1031.8L1098.4 1002.7H1064.2zM1083.7 1029.5L1100.8 1000.4H1066.6zM1086.1 1027.5L1103.2 998.4H1069zM1088.5 1025.4L1105.6 996.3H1071.4zM1090.9 1023.4L1108 994.3H1073.8zM1093.3 1021.1L1110.4 992H1076.2zM1095.7 1018.7L1112.8 989.6H1078.6zM1098.1 1016.1L1115.2 987H1081zM1100.5 1013.5L1117.6 984.4H1083.4zM1102.8 1010.8L1119.9 981.7H1085.8zM1105.2 1008.3L1122.3 979.2H1088.1zM1107.6 1005.9L1124.7 976.8H1090.5zM1110 1003.8L1127.1 974.7H1092.9zM1112.4 1002.1L1129.5 973H1095.3zM1114.8 1000.7L1131.9 971.6H1097.7zM1117.2 999.5L1134.3 970.4H1100.1zM1119.6 998.3L1136.7 969.2H1102.5zM1122 997L1139.1 967.9H1104.9zM1124.4 995.8L1141.5 966.7H1107.3zM1126.8 994.5L1143.9 965.4H1109.7zM1129.2 993.3L1146.3 964.2H1112.1zM1131.6 992.2L1148.7 963.1H1114.5zM1134 991L1151.1 961.9H1116.9zM1136.4 989.9L1153.5 960.8H1119.3zM1138.8 988.7L1155.9 959.6H1121.7zM1141.2 987.6L1158.3 958.5H1124.1zM1143.6 986.7L1160.7 957.6H1126.5zM1146 985.7L1163.1 956.6H1128.9zM1148.4 984.8L1165.5 955.7H1131.3zM1150.8 983.9L1167.8 954.8H1133.7zM1153.1 983L1170.2 953.9H1136zM1155.5 982.1L1172.6 953H1138.4zM1157.9 981.3L1175 952.2H1140.8zM1160.3 980.4L1177.4 951.3H1143.2zM1162.7 979.6L1179.8 950.5H1145.6zM1165.1 978.8L1182.2 949.7H1148zM1167.5 978L1184.6 948.9H1150.4zM1169.9 977.2L1187 948.1H1152.8zM1172.3 976.5L1189.4 947.4H1155.2zM1174.7 975.7L1191.8 946.6H1157.6zM1177.1 975L1194.2 945.9H1160zM1179.5 974.3L1196.6 945.2H1162.4zM1181.9 973.6L1199 944.5H1164.8zM1184.3 972.9L1201.4 943.8H1167.2zM1186.7 972.2L1203.8 943.1H1169.6zM1189.1 971.5L1206.2 942.4H1172zM1191.5 970.9L1208.6 941.8H1174.4zM1193.9 970.2L1211 941.1H1176.8zM1196.3 969.6L1213.4 940.5H1179.2zM1198.7 969.1L1215.8 940H1181.6zM1201 968.5L1218.1 939.4H1183.9zM1203.4 968L1220.5 938.9H1186.3zM1205.8 967.5L1222.9 938.4H1188.7zM1208.2 967L1225.3 937.9H1191.1zM1210.6 966.5L1227.7 937.4H1193.5zM1213 966L1230.1 936.9H1195.9zM1215.4 965.5L1232.5 936.4H1198.3zM1217.8 965L1234.9 935.9H1200.7zM1220.2 964.6L1237.3 935.5H1203.1zM1222.6 964.1L1239.7 935H1205.5zM1225 963.7L1242.1 934.6H1207.9zM1227.4 963.3L1244.5 934.2H1210.3zM1229.8 962.8L1246.9 933.7H1212.7zM1232.2 962.4L1249.3 933.3H1215.1zM1234.6 962L1251.7 932.9H1217.5zM1237 961.6L1254.1 932.5H1219.9zM1239.4 961.2L1256.5 932.1H1222.3zM1241.8 960.8L1258.9 931.7H1224.7zM1244.2 960.5L1261.3 931.4H1227.1zM1246.5 960.1L1263.6 931H1229.5zM1248.9 959.7L1266 930.6H1231.8zM1251.3 959.4L1268.4 930.3H1234.2zM1253.7 959L1270.8 929.9H1236.6zM1256.1 958.7L1273.2 929.6H1239zM1258.5 958.4L1275.6 929.3H1241.4zM1260.9 958.1L1278 929H1243.8zM1263.3 957.8L1280.4 928.7H1246.2zM1265.7 957.5L1282.8 928.4H1248.6zM1268.1 957.2L1285.2 928.1H1251zM1270.5 956.9L1287.6 927.8H1253.4zM1272.9 956.6L1290 927.5H1255.8zM1275.3 956.4L1292.4 927.3H1258.2zM1277.7 956.1L1294.8 927H1260.6zM1280.1 955.8L1297.2 926.7H1263zM1282.5 955.5L1299.6 926.4H1265.4zM1284.9 955.3L1302 926.2H1267.8zM1287.3 955L1304.4 925.9H1270.2zM1289.7 954.7L1306.8 925.6H1272.6zM1292.1 954.5L1309.2 925.4H1275zM1294.5 954.2L1311.5 925.1H1277.4zM1296.8 953.9L1313.9 924.8H1279.7zM1299.2 953.7L1316.3 924.6H1282.1zM1301.6 953.4L1318.7 924.3H1284.5zM1304 953.2L1321.1 924.1H1286.9zM1306.4 952.9L1323.5 923.8H1289.3zM1308.8 952.6L1325.9 923.5H1291.7zM1311.2 952.4L1328.3 923.3H1294.1zM1313.6 952.2L1330.7 923.1H1296.5zM1316 951.9L1333.1 922.8H1298.9zM1318.4 951.7L1335.5 922.6H1301.3zM1320.8 951.4L1337.9 922.3H1303.7zM1323.2 951.2L1340.3 922.1H1306.1zM1325.6 950.9L1342.7 921.8H1308.5zM1328 950.7L1345.1 921.6H1310.9zM1330.4 950.5L1347.5 921.4H1313.3zM1332.8 950.3L1349.9 921.2H1315.7zM1335.2 950L1352.3 920.9H1318.1zM1337.6 949.8L1354.7 920.7H1320.5zM1340 949.6L1357.1 920.5H1322.9zM1342.3 949.4L1359.4 920.3H1325.2zM1344.7 949.1L1361.8 920H1327.6zM1347.1 948.9L1364.2 919.8H1330zM1349.5 948.7L1366.6 919.6H1332.4zM1351.9 948.5L1369 919.4H1334.8zM1354.3 948.3L1371.4 919.2H1337.2zM1356.7 948.1L1373.8 919H1339.6zM1359.1 947.9L1376.2 918.8H1342zM1361.5 947.7L1378.6 918.6H1344.4zM1363.9 947.5L1381 918.4H1346.8zM1366.3 947.3L1383.4 918.2H1349.2zM1368.7 947.1L1385.8 918H1351.6zM1371.1 946.9L1388.2 917.8H1354zM1373.5 946.7L1390.6 917.6H1356.4zM1375.9 946.5L1393 917.4H1358.8zM1378.3 946.3L1395.4 917.2H1361.2zM1380.7 946.1L1397.8 917H1363.6zM1383.1 945.9L1400.2 916.8H1366zM1385.5 945.7L1402.6 916.6H1368.4zM1387.9 945.6L1405 916.5H1370.8zM1390.2 945.4L1407.3 916.3H1373.2zM1392.6 945.2L1409.7 916.1H1375.5zM1395 945L1412.1 915.9H1377.9zM1397.4 944.8L1414.5 915.7H1380.3zM1399.8 944.6L1416.9 915.5H1382.7zM1402.2 944.4L1419.3 915.3H1385.1zM1404.6 944.2L1421.7 915.1H1387.5zM1407 944L1424.1 914.9H1389.9zM1409.4 943.8L1426.5 914.7H1392.3zM1411.8 943.5L1428.9 914.4H1394.7zM1414.2 943.3L1431.3 914.2H1397.1zM1416.6 943.1L1433.7 914H1399.5zM1419 942.9L1436.1 913.8H1401.9zM1421.4 942.7L1438.5 913.6H1404.3zM1423.8 942.5L1440.9 913.4H1406.7zM1426.2 942.3L1443.3 913.2H1409.1zM1428.6 942.1L1445.7 913H1411.5zM1431 941.9L1448.1 912.8H1413.9zM1433.4 941.7L1450.5 912.6H1416.3zM1435.8 941.5L1452.9 912.4H1418.7zM1438.2 941.3L1455.2 912.2H1421.1zM1440.5 941.1L1457.6 912H1423.4zM1442.9 940.9L1460 911.8H1425.8zM1445.3 940.7L1462.4 911.6H1428.2zM1447.7 940.6L1464.8 911.5H1430.6zM1450.1 940.4L1467.2 911.3H1433zM1452.5 940.1L1469.6 911H1435.4zM1454.9 939.9L1472 910.8H1437.8zM1457.3 939.7L1474.4 910.6H1440.2zM1459.7 939.4L1476.8 910.3H1442.6zM1462.1 939.2L1479.2 910.1H1445zM1464.5 939L1481.6 909.9H1447.4zM1466.9 938.7L1484 909.6H1449.8zM1469.3 938.5L1486.4 909.4H1452.2zM1471.7 938.3L1488.8 909.2H1454.6zM1474.1 938.1L1491.2 909H1457zM1476.5 937.8L1493.6 908.7H1459.4zM1478.9 937.6L1496 908.5H1461.8zM1481.3 937.4L1498.4 908.3H1464.2zM1483.7 937.2L1500.8 908.1H1466.6zM1486 936.9L1503.1 907.8H1469zM1488.4 936.7L1505.5 907.6H1471.3zM1490.8 936.5L1507.9 907.4H1473.7zM1493.2 936.3L1510.3 907.2H1476.1zM1495.6 936.1L1512.7 907H1478.5zM1498 935.9L1515.1 906.8H1480.9zM1500.4 935.7L1517.5 906.6H1483.3zM1502.8 935.5L1519.9 906.4H1485.7zM1505.2 935.2L1522.3 906.1H1488.1zM1507.6 935L1524.7 905.9H1490.5zM1510 934.8L1527.1 905.7H1492.9zM1512.4 934.6L1529.5 905.5H1495.3zM1514.8 934.4L1531.9 905.3H1497.7zM1517.2 934.2L1534.3 905.1H1500.1zM1519.6 934L1536.7 904.9H1502.5zM1522 933.8L1539.1 904.7H1504.9zM1524.4 933.6L1541.5 904.5H1507.3zM1526.8 933.4L1543.9 904.3H1509.7zM1529.2 933.2L1546.3 904.1H1512.1zM1531.6 933L1548.7 903.9H1514.5zM1534 932.9L1551 903.8H1516.9zM1536.3 932.7L1553.4 903.6H1519.2zM1538.7 932.5L1555.8 903.4H1521.6zM1541.1 932.3L1558.2 903.2H1524zM1543.5 932.1L1560.6 903H1526.4zM1545.9 931.9L1563 902.8H1528.8zM1548.3 931.7L1565.4 902.6H1531.2zM1550.7 931.5L1567.8 902.4H1533.6zM1553.1 931.2L1570.2 902.1H1536zM1555.5 931L1572.6 901.9H1538.4zM1557.9 930.8L1575 901.7H1540.8zM1560.3 930.6L1577.4 901.5H1543.2zM1562.7 930.4L1579.8 901.3H1545.6zM1565.1 930.2L1582.2 901.1H1548zM1567.5 930L1584.6 900.9H1550.4zM1569.9 929.8L1587 900.7H1552.8zM1572.3 929.6L1589.4 900.5H1555.2zM1574.7 929.5L1591.8 900.4H1557.6zM1577.1 929.3L1594.2 900.2H1560zM1579.5 929.1L1596.6 900H1562.4zM1581.8 928.9L1598.9 899.8H1564.8zM1584.2 928.7L1601.3 899.6H1567.1zM1586.6 928.5L1603.7 899.4H1569.5zM1589 928.3L1606.1 899.2H1571.9zM1591.4 928.1L1608.5 899H1574.3zM1593.8 928L1610.9 898.9H1576.7zM1596.2 927.8L1613.3 898.7H1579.1zM1598.6 927.6L1615.7 898.5H1581.5zM1601 927.4L1618.1 898.3H1583.9zM1603.4 927.2L1620.5 898.1H1586.3zM1605.8 927.1L1622.9 898H1588.7zM1608.2 926.9L1625.3 897.8H1591.1zM1610.6 926.7L1627.7 897.6H1593.5zM1613 926.6L1630.1 897.5H1595.9zM1615.4 926.4L1632.5 897.3H1598.3zM1617.8 926.2L1634.9 897.1H1600.7zM1620.2 926.1L1637.3 897H1603.1zM1622.6 925.9L1639.7 896.8H1605.5zM1625 925.7L1642.1 896.6H1607.9zM1627.4 925.6L1644.5 896.5H1610.3zM1629.8 925.4L1646.8 896.3H1612.7zM1632.1 925.2L1649.2 896.1H1615zM1634.5 925.1L1651.6 896H1617.4zM1636.9 924.9L1654 895.8H1619.8zM1639.3 924.8L1656.4 895.7H1622.2zM1641.7 924.7L1658.8 895.6H1624.6zM1644.1 924.5L1661.2 895.4H1627zM1646.5 924.4L1663.6 895.3H1629.4zM1648.9 924.2L1666 895.1H1631.8zM1651.3 924.1L1668.4 895H1634.2zM1653.7 924L1670.8 894.9H1636.6zM1656.1 923.8L1673.2 894.7H1639zM1658.5 923.7L1675.6 894.6H1641.4zM1660.9 923.6L1678 894.5H1643.8zM1663.3 923.4L1680.4 894.3H1646.2zM1665.7 923.3L1682.8 894.2H1648.6zM1668.1 923.2L1685.2 894.1H1651zM1670.5 923L1687.6 893.9H1653.4zM1672.9 922.9L1690 893.8H1655.8zM1675.3 922.8L1692.4 893.7H1658.2zM1677.7 922.7L1694.8 893.6H1660.6zM1680 922.6L1697.1 893.5H1662.9zM1682.4 922.4L1699.5 893.3H1665.3zM1684.8 922.3L1701.9 893.2H1667.7zM1687.2 922.2L1704.3 893.1H1670.1zM1689.6 922.1L1706.7 893H1672.5zM1692 922L1709.1 892.9H1674.9zM1694.4 921.9L1711.5 892.8H1677.3zM1696.8 921.8L1713.9 892.7H1679.7zM1699.2 921.7L1716.3 892.6H1682.1zM1701.6 921.6L1718.7 892.5H1684.5zM1704 921.5L1721.1 892.4H1686.9zM1706.4 921.4L1723.5 892.3H1689.3zM1708.8 921.3L1725.9 892.2H1691.7zM1711.2 921.2L1728.3 892.1H1694.1zM1713.6 921.1L1730.7 892H1696.5zM1716 921L1733.1 891.9H1698.9zM1718.4 920.9L1735.5 891.8H1701.3zM1720.8 920.8L1737.9 891.7H1703.7zM1723.2 920.7L1740.3 891.6H1706.1zM1725.5 920.6L1742.6 891.5H1708.5zM1727.9 920.5L1745 891.4H1710.8zM1730.3 920.5L1747.4 891.4H1713.2zM1732.7 920.4L1749.8 891.3H1715.6zM1735.1 920.3L1752.2 891.2H1718zM1737.5 920.3L1754.6 891.2H1720.4zM1739.9 920.2L1757 891.1H1722.8zM1742.3 920.2L1759.4 891.1H1725.2zM1744.7 920.1L1761.8 891H1727.6zM1747.1 920.1L1764.2 891H1730zM1749.5 920L1766.6 890.9H1732.4zM1751.9 920L1769 890.9H1734.8zM1754.3 919.9L1771.4 890.8H1737.2zM1756.7 919.9L1773.8 890.8H1739.6zM1759.1 919.8L1776.2 890.7H1742zM1761.5 919.8L1778.6 890.7H1744.4zM1763.9 919.7L1781 890.6H1746.8zM1766.3 919.7L1783.4 890.6H1749.2zM1768.7 919.7L1785.8 890.6H1751.6zM1771.1 919.6L1788.2 890.5H1754zM1773.5 919.6L1790.5 890.5H1756.4zM1775.8 919.6L1792.9 890.5H1758.7zM1778.2 919.5L1795.3 890.4H1761.1zM1780.6 919.5L1797.7 890.4H1763.5zM1783 919.5L1800.1 890.4H1765.9zM1785.4 919.4L1802.5 890.3H1768.3zM1787.8 919.4L1804.9 890.3H1770.7zM1790.2 919.4L1807.3 890.3H1773.1zM1792.6 919.4L1809.7 890.3H1775.5zM1795 919.3L1812.1 890.2H1777.9zM1797.4 919.3L1814.5 890.2H1780.3zM1799.8 919.3L1816.9 890.2H1782.7zM1802.2 919.3L1819.3 890.2H1785.1zM1804.6 919.3L1821.7 890.2H1787.5zM1807 919.3L1824.1 890.2H1789.9zM1809.4 919.3L1826.5 890.2H1792.3zM1811.8 919.3L1828.9 890.2H1794.7zM1814.2 919.2L1831.3 890.1H1797.1zM1816.6 919.2L1833.7 890.1H1799.5zM1819 919.3L1836.1 890.2H1801.9zM1821.3 919.3L1838.4 890.2H1804.2zM1823.7 919.3L1840.8 890.2H1806.6zM1826.1 919.3L1843.2 890.2H1809zM1828.5 919.3L1845.6 890.2H1811.4zM1830.9 919.4L1848 890.3H1813.8zM1833.3 919.4L1850.4 890.3H1816.2zM1835.7 919.4L1852.8 890.3H1818.6zM1838.1 919.5L1855.2 890.4H1821zM1840.5 919.5L1857.6 890.4H1823.4zM1842.9 919.5L1860 890.4H1825.8zM1845.3 919.6L1862.4 890.5H1828.2zM1847.7 919.6L1864.8 890.5H1830.6zM1850.1 919.6L1867.2 890.5H1833zM1852.5 919.7L1869.6 890.6H1835.4zM1854.9 919.8L1872 890.7H1837.8zM1857.3 919.8L1874.4 890.7H1840.2zM1859.7 919.9L1876.8 890.8H1842.6zM1862.1 920L1879.2 890.9H1845zM1864.5 920L1881.6 890.9H1847.4zM1866.9 920.1L1884 891H1849.8zM1869.2 920.2L1886.3 891.1H1852.2zM1871.6 920.3L1888.7 891.2H1854.5zM1874 920.3L1891.1 891.2H1856.9zM1876.4 920.4L1893.5 891.3H1859.3zM1878.8 920.5L1895.9 891.4H1861.7zM1881.2 920.6L1898.3 891.5H1864.1zM1883.6 920.7L1900.7 891.6H1866.5zM1886 920.8L1903.1 891.7H1868.9zM1888.4 920.9L1905.5 891.8H1871.3zM1890.8 921L1907.9 891.9H1873.7zM1893.2 921.1L1910.3 892H1876.1zM1895.6 921.1L1912.7 892H1878.5zM1898 921.2L1915.1 892.1H1880.9zM1900.4 921.3L1917.5 892.2H1883.3zM1902.8 921.4L1919.9 892.3H1885.7zM1905.2 921.5L1922.3 892.4H1888.1zM1907.6 921.7L1924.7 892.6H1890.5zM1910 921.8L1927.1 892.7H1892.9zM1912.4 921.9L1929.5 892.8H1895.3zM1914.8 922L1931.9 892.9H1897.7zM1917.2 922.1L1934.2 893H1900.1zM1919.5 922.2L1936.6 893.1H1902.4zM1921.9 922.3L1939 893.2H1904.8zM1924.3 922.4L1941.4 893.3H1907.2zM1926.7 922.6L1943.8 893.5H1909.6zM1929.1 922.7L1946.2 893.6H1912zM1931.5 922.8L1948.6 893.7H1914.4zM1933.9 922.9L1951 893.8H1916.8zM1936.3 923.1L1953.4 894H1919.2zM1938.7 923.2L1955.8 894.1H1921.6zM1941.1 923.3L1958.2 894.2H1924zM1943.5 923.5L1960.6 894.4H1926.4zM1945.9 923.6L1963 894.5H1928.8zM1948.3 923.7L1965.4 894.6H1931.2zM1950.7 923.9L1967.8 894.8H1933.6zM1953.1 924L1970.2 894.9H1936zM1955.5 924.2L1972.6 895.1H1938.4zM1957.9 924.4L1975 895.3H1940.8zM1960.3 924.5L1977.4 895.4H1943.2zM1962.7 924.7L1979.8 895.6H1945.6zM1965 924.8L1982.1 895.7H1948zM1967.4 925L1984.5 895.9H1950.3zM1969.8 925.2L1986.9 896.1H1952.7zM1972.2 925.3L1989.3 896.2H1955.1zM1974.6 925.5L1991.7 896.4H1957.5zM1977 925.7L1994.1 896.6H1959.9zM1979.4 925.9L1996.5 896.8H1962.3zM1981.8 926L1998.9 896.9H1964.7zM1984.2 926.2L2001.3 897.1H1967.1zM1986.6 926.4L2003.7 897.3H1969.5zM1989 926.6L2006.1 897.5H1971.9zM1991.4 926.8L2008.5 897.7H1974.3zM1993.8 926.9L2010.9 897.8H1976.7zM1996.2 927.1L2013.3 898H1979.1zM1998.6 927.3L2015.7 898.2H1981.5zM2001 927.5L2018.1 898.4H1983.9zM2003.4 927.7L2020.5 898.6H1986.3zM2005.8 927.9L2022.9 898.8H1988.7zM2008.2 928.1L2025.3 899H1991.1zM2010.6 928.3L2027.7 899.2H1993.5zM2013 928.5L2030 899.4H1995.9zM2015.3 928.7L2032.4 899.6H1998.2zM2017.7 928.9L2034.8 899.8H2000.6zM2020.1 929.1L2037.2 900H2003zM2022.5 929.3L2039.6 900.2H2005.4zM2024.9 929.5L2042 900.4H2007.8zM2027.3 929.7L2044.4 900.6H2010.2zM2029.7 930L2046.8 900.9H2012.6zM2032.1 930.2L2049.2 901.1H2015zM2034.5 930.4L2051.6 901.3H2017.4zM2036.9 930.6L2054 901.5H2019.8zM2039.3 930.8L2056.4 901.7H2022.2zM2041.7 931.1L2058.8 902H2024.6zM2044.1 931.3L2061.2 902.2H2027zM2046.5 931.4L2063.6 902.3H2029.4zM2048.9 931.6L2066 902.5H2031.8zM2051.3 931.8L2068.4 902.7H2034.2zM2053.7 932L2070.8 902.9H2036.6zM2056.1 932.2L2073.2 903.1H2039zM2058.5 932.4L2075.6 903.3H2041.4zM2060.8 932.5L2077.9 903.4H2043.8zM2063.2 932.7L2080.3 903.6H2046.1zM2065.6 932.9L2082.7 903.8H2048.5zM2068 933.1L2085.1 904H2050.9zM2070.4 933.3L2087.5 904.2H2053.3zM2072.8 933.5L2089.9 904.4H2055.7zM2075.2 933.7L2092.3 904.6H2058.1zM2077.6 933.9L2094.7 904.8H2060.5zM2080 934.1L2097.1 905H2062.9zM2082.4 934.4L2099.5 905.3H2065.3zM2084.8 934.6L2101.9 905.5H2067.7zM2087.2 934.8L2104.3 905.7H2070.1zM2089.6 935L2106.7 905.9H2072.5zM2092 935.2L2109.1 906.1H2074.9zM2094.4 935.4L2111.5 906.3H2077.3zM2096.8 935.7L2113.9 906.6H2079.7zM2099.2 935.9L2116.3 906.8H2082.1zM2101.6 936.1L2118.7 907H2084.5zM2104 936.3L2121.1 907.2H2086.9zM2106.4 936.6L2123.5 907.5H2089.3zM2108.8 936.8L2125.8 907.7H2091.7zM2111.1 937L2128.2 907.9H2094zM2113.5 937.3L2130.6 908.2H2096.4zM2115.9 937.5L2133 908.4H2098.8zM2118.3 937.7L2135.4 908.6H2101.2zM2120.7 938L2137.8 908.9H2103.6zM2123.1 938.2L2140.2 909.1H2106zM2125.5 938.5L2142.6 909.4H2108.4zM2127.9 938.7L2145 909.6H2110.8zM2130.3 939L2147.4 909.9H2113.2zM2132.7 939.2L2149.8 910.1H2115.6zM2135.1 939.5L2152.2 910.4H2118zM2137.5 939.7L2154.6 910.6H2120.4zM2139.9 940L2157 910.9H2122.8zM2142.3 940.2L2159.4 911.1H2125.2zM2144.7 940.4L2161.8 911.3H2127.6zM2147.1 940.7L2164.2 911.6H2130zM2149.5 940.9L2166.6 911.8H2132.4zM2151.9 941.2L2169 912.1H2134.8zM2154.3 941.4L2171.4 912.3H2137.2zM2156.7 941.6L2173.8 912.5H2139.6zM2159 941.9L2176.1 912.8H2141.9zM2161.4 942.1L2178.5 913H2144.3zM2163.8 942.4L2180.9 913.3H2146.7zM2166.2 942.7L2183.3 913.6H2149.1zM2168.6 942.9L2185.7 913.8H2151.5zM2171 943.2L2188.1 914.1H2153.9zM2173.4 943.4L2190.5 914.3H2156.3zM2175.8 943.7L2192.9 914.6H2158.7zM2178.2 944L2195.3 914.9H2161.1zM2180.6 944.2L2197.7 915.1H2163.5zM2183 944.5L2200.1 915.4H2165.9zM2185.4 944.8L2202.5 915.7H2168.3zM2187.8 945L2204.9 915.9H2170.7zM2190.2 945.3L2207.3 916.2H2173.1zM2192.6 945.6L2209.7 916.5H2175.5zM2195 945.9L2212.1 916.8H2177.9zM2197.4 946.2L2214.5 917.1H2180.3zM2199.8 946.4L2216.9 917.3H2182.7zM2202.2 946.7L2219.3 917.6H2185.1zM2204.6 947L2221.7 917.9H2187.5zM2206.9 947.3L2224 918.2H2189.8zM2209.3 947.6L2226.4 918.5H2192.2zM2211.7 947.9L2228.8 918.8H2194.6zM2214.1 948.2L2231.2 919.1H2197zM2216.5 948.5L2233.6 919.4H2199.4zM2218.9 948.8L2236 919.7H2201.8zM2221.3 949.1L2238.4 920H2204.2zM2223.7 949.4L2240.8 920.3H2206.6zM2226.1 949.7L2243.2 920.6H2209zM2228.5 950L2245.6 920.9H2211.4zM2230.9 950.3L2248 921.2H2213.8zM2233.3 950.6L2250.4 921.5H2216.2zM2235.7 951L2252.8 921.9H2218.6zM2238.1 951.3L2255.2 922.2H2221zM2240.5 951.7L2257.6 922.6H2223.4zM2242.9 952L2260 922.9H2225.8zM2245.3 952.4L2262.4 923.3H2228.2zM2247.7 952.8L2264.8 923.7H2230.6zM2250.1 953.1L2267.2 924H2233zM2252.4 953.5L2269.5 924.4H2235.3zM2254.8 953.9L2271.9 924.8H2237.7zM2257.2 954.2L2274.3 925.1H2240.1zM2259.6 954.5L2276.7 925.4H2242.5zM2262 954.9L2279.1 925.8H2244.9zM2264.4 955.2L2281.5 926.1H2247.3zM2266.8 955.5L2283.9 926.4H2249.7zM2269.2 955.9L2286.3 926.8H2252.1zM2271.6 956.2L2288.7 927.1H2254.5zM2274 956.5L2291.1 927.4H2256.9zM2276.4 956.9L2293.5 927.8H2259.3zM2278.8 957.2L2295.9 928.1H2261.7zM2281.2 957.6L2298.3 928.5H2264.1zM2283.6 957.9L2300.7 928.8H2266.5zM2286 958.3L2303.1 929.2H2268.9zM2288.4 958.6L2305.5 929.5H2271.3zM2290.8 959L2307.9 929.9H2273.7zM2293.2 959.3L2310.3 930.2H2276.1zM2295.6 959.7L2312.7 930.6H2278.5zM2298 960.1L2315.1 931H2280.9zM2300 960.5L2317.1 931.4H2282.9z" fill="none" stroke="#0f0" stroke-width="4" stroke-linejoin="round"/>
</g>
<path d="M1127 1103.3H1184M1247.5 1103.3H1304" stroke="#000" stroke-width="5" stroke-linecap="round"/>
<path d="M1201 1089.8h29v29h-29z" fill="#000"/>
<text x="1327.5" y="1131" style="font-family:'Liberation Sans',Arial,Helvetica,sans-serif;font-size:79.4px">bare steel</text>
<path d="M1127 1200.5H1184M1247.5 1200.5H1304" stroke="#930085" stroke-width="5" stroke-linecap="round"/>
<path d="M1201.5 1200.5a14.0 14.0 0 1 0 28 0a14.0 14.0 0 1 0 -28 0z" fill="#fff" stroke="#930085" stroke-width="3"/>
<text x="1327.5" y="1228.2" style="font-family:'Liberation Sans',Arial,Helvetica,sans-serif;font-size:79.4px">CSA@POT coating</text>
<path d="M1127 1298.4H1184M1247.5 1298.4H1304" stroke="#f00" stroke-width="5" stroke-linecap="round"/>
<path d="M1215.5 1280L1232.6 1309.1H1198.4zM1213 1299.4h5" fill="#fff" stroke="#f00" stroke-width="4" stroke-linejoin="round"/>
<text x="1327.5" y="1326.1" style="font-family:'Liberation Sans',Arial,Helvetica,sans-serif;font-size:79.4px">3-MG/CSA@POT coating</text>
<path d="M1127 1395.4H1184M1247.5 1395.4H1304" stroke="#0f0" stroke-width="5" stroke-linecap="round"/>
<path d="M1215.5 1415.8L1232.6 1386.7H1198.4z" fill="#fff" stroke="#0f0" stroke-width="4" stroke-linejoin="round"/>
<text x="1327.5" y="1423.1" style="font-family:'Liberation Sans',Arial,Helvetica,sans-serif;font-size:79.4px">5-MG/CSA@POT coating</text>
</svg>
</body></html>
